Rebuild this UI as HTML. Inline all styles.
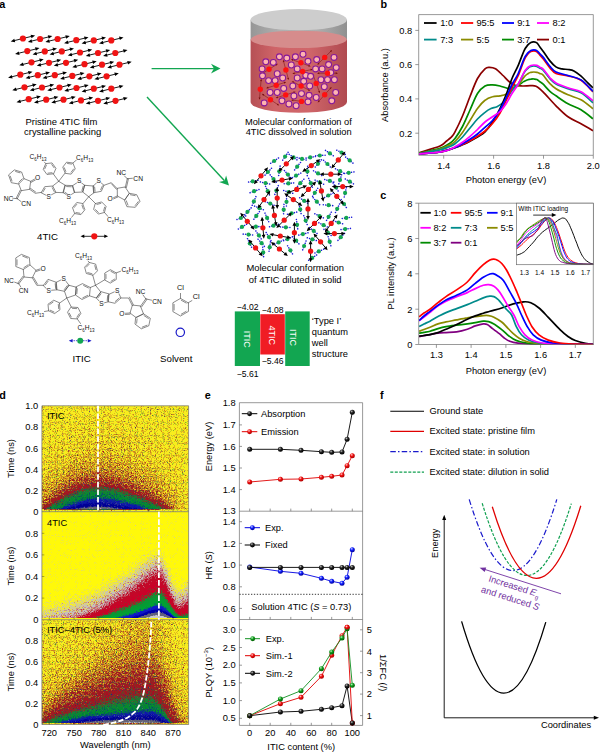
<!DOCTYPE html>
<html><head><meta charset="utf-8"><title>Figure</title>
<style>
html,body{margin:0;padding:0;background:#fff}
body{width:600px;height:752px;overflow:hidden}
svg{display:block;font-family:"Liberation Sans",sans-serif;font-size:9.3px;fill:#000}
</style></head><body>
<svg width="600" height="752" viewBox="0 0 600 752">
<rect width="600" height="752" fill="#fff"/>
<clipPath id="cb"><rect x="418.7" y="14.6" width="174.6" height="140.7"/></clipPath>
<g clip-path="url(#cb)" fill="none" stroke-width="1.7" stroke-linejoin="round">
<path d="M419 152.7C422.5 151.6 435.5 147.9 440 146C444.5 144.1 444 143.1 446 141.5C448 139.9 450.5 137.9 452 136.3C453.5 134.7 453.2 135.2 455 131.8C456.8 128.4 460 121.9 462.5 116C465 110.1 467.5 102.8 470 96.5C472.5 90.2 475 83.1 477.5 78.5C480 73.9 483 70.7 485 68.8C487 66.9 487.8 67.3 489.5 67.3C491.2 67.3 493.2 67.4 495.5 68.8C497.8 70.2 500.8 73.4 503 75.5C505.2 77.6 507 79.9 509 81.5C511 83.1 512.8 84.5 515 85.3C517.2 86 520 85.9 522.5 86C525 86.1 527.8 85.7 530 85.7C532.2 85.7 533.8 85.2 536 86.2C538.2 87.2 539.7 88.5 543 91.8C546.3 95.1 551.8 101.6 556 105.8C560.2 110 563.8 113.8 568 116.8C572.2 119.8 576.8 121.5 581 123.8C585.2 126.1 591 129.6 593 130.8" stroke="#8b0000"/>
<path d="M419 153.2C422.5 152.4 435 149.9 440 148.3C445 146.7 446.5 145.4 449 143.8C451.5 142.2 452.8 141.4 455 138.5C457.2 135.6 460 131.2 462.5 126.5C465 121.8 467.5 115.5 470 110C472.5 104.5 475 97.5 477.5 93.5C480 89.5 482.5 87.5 485 86C487.5 84.5 490 84.8 492.5 84.8C495 84.8 497.5 85.4 500 86C502.5 86.6 505.2 88 507.5 88.3C509.8 88.5 511.8 88 513.5 87.5C515.2 87 516.2 86.5 518 85.5C519.8 84.5 522.4 82.4 524 81.4C525.6 80.5 526.8 80.2 527.9 79.8C529 79.4 529.9 79.3 530.9 79.2C531.9 79 532.9 78.9 533.9 79C534.9 79.1 535.9 79.1 536.9 79.5C537.9 80 538.9 81 539.9 81.7C540.9 82.4 541.2 82.3 542.9 83.9C544.6 85.5 547.7 89.4 549.9 91.3C552.1 93.3 553 93.7 556 95.8C559 97.9 563.8 101.5 568 103.8C572.2 106.1 576.8 107.3 581 109.8C585.2 112.3 591 117.3 593 118.8" stroke="#008b00"/>
<path d="M419 153.5C422.5 152.8 435 150.4 440 149C445 147.6 446.5 146.6 449 145.3C451.5 144.1 452.8 143.6 455 141.5C457.2 139.4 460 136 462.5 132.5C465 129 467.5 124.5 470 120.5C472.5 116.5 475 111.9 477.5 108.5C480 105.1 482.5 102.2 485 100.3C487.5 98.3 490 97.5 492.5 96.8C495 96 497.8 96.2 500 95.8C502.2 95.4 504 95.3 506 94.3C508 93.3 510 91.3 512 89.8C514 88.3 516 87.6 518 85.5C520 83.4 522.4 79 524 77.1C525.6 75.1 526.8 74.5 527.9 73.7C529 72.9 529.9 72.6 530.9 72.3C531.9 72.1 532.9 72 533.9 72C534.9 72 535.9 72.1 536.9 72.3C537.9 72.6 538.9 73.2 539.9 73.6C540.9 74 541.2 73.2 542.9 74.9C544.6 76.6 547.7 81.3 549.9 83.6C552.1 85.9 553 86.9 556 88.8C559 90.7 563.8 93 568 94.8C572.2 96.6 576.8 97.5 581 99.8C585.2 102.1 591 107.3 593 108.8" stroke="#8b8b00"/>
<path d="M419 153.7C422.5 153 435 151 440 149.8C445 148.7 446.5 147.8 449 146.8C451.5 145.8 452.8 145.4 455 143.8C457.2 142.2 460 139.6 462.5 137C465 134.4 467.5 131 470 128C472.5 125 475 121.6 477.5 119C480 116.4 482.8 114 485 112.3C487.2 110.5 489 109.4 491 108.5C493 107.6 495 107.7 497 106.7C499 105.7 501 104.5 503 102.5C505 100.5 507 97.8 509 95C511 92.2 513.5 87.8 515 86C516.5 84.2 516.5 86.7 518 84.5C519.5 82.3 522.4 75.6 524 72.9C525.6 70.2 526.8 69.4 527.9 68.3C529 67.2 529.9 66.8 530.9 66.5C531.9 66.1 532.9 66 533.9 66C534.9 66 535.9 66.1 536.9 66.4C537.9 66.8 538.9 67.6 539.9 68.2C540.9 68.7 541.2 68.2 542.9 69.9C544.6 71.6 547.7 76.3 549.9 78.7C552.1 81 553 82.2 556 83.9C559 85.6 563.8 87.3 568 88.8C572.2 90.3 576.8 90.5 581 92.8C585.2 95.1 591 101.1 593 102.8" stroke="#008b8b"/>
<path d="M419 153.9C422.5 153.6 434 153 440 152C446 151 451.2 149 455 147.8C458.8 146.6 460 145.9 462.5 144.8C465 143.7 467.5 142.5 470 141.2C472.5 139.9 475 138.6 477.5 137C480 135.4 482.5 134.3 485 131.8C487.5 129.3 490 125.9 492.5 122C495 118.1 497.8 113 500 108.5C502.2 104 504 100 506 95C508 90 510 83.3 512 78.5C514 73.7 516 70.5 518 65.9C520 61.3 522.4 54.4 524 50.9C525.6 47.4 526.8 46.3 527.9 44.9C529 43.5 529.9 43 530.9 42.5C531.9 42 532.9 41.8 533.9 41.9C534.9 42 535.9 42.1 536.9 42.9C537.9 43.7 538.9 45.6 539.9 46.9C540.9 48.2 541.2 48.6 542.9 50.9C544.6 53.2 547.7 58.2 549.9 60.9C552.1 63.6 553.9 65.6 555.9 66.9C557.9 68.2 559.9 68.5 561.9 68.9C563.9 69.3 565.9 69.2 567.9 69.5C569.9 69.8 571.8 69.8 573.9 70.9C576 72 578.5 73.9 580.8 75.9C583.1 77.9 585.8 80.9 587.8 82.9C589.8 84.9 592.1 87 593 87.8" stroke="#000"/>
<path d="M419 153.9C422.5 153.6 434 153.1 440 152C446 150.9 451.2 148.8 455 147.5C458.8 146.2 460 145.6 462.5 144.5C465 143.4 467.5 142.2 470 140.8C472.5 139.4 475 137.9 477.5 136.3C480 134.7 482.5 133.1 485 131C487.5 128.9 490 126.5 492.5 123.5C495 120.5 497.8 116.8 500 113C502.2 109.2 504 105.2 506 101C508 96.8 510 91.7 512 87.5C514 83.3 516 80.5 518 76C520 71.5 522.4 64 524 60.3C525.6 56.7 526.8 55.5 527.9 54C529 52.6 529.9 52.1 530.9 51.5C531.9 51 532.9 50.9 533.9 50.9C534.9 50.9 535.9 51 536.9 51.7C537.9 52.4 538.9 54 539.9 55.1C540.9 56.2 541.2 56.4 542.9 58.5C544.6 60.6 547.7 65.4 549.9 67.9C552.1 70.4 553 72.2 556 73.5C559 74.8 563.8 74.8 568 75.9C572.2 77 576.8 77.7 581 80.3C585.2 82.9 591 89.9 593 91.8" stroke="#ff0000"/>
<path d="M419 153.9C422.5 153.6 434 153.1 440 152C446 150.9 451.2 148.9 455 147.5C458.8 146.1 460 145.2 462.5 143.8C465 142.4 467.5 140.9 470 139.3C472.5 137.7 475 136 477.5 134C480 132 482.5 129.6 485 127.3C487.5 125 490 123.4 492.5 120.5C495 117.6 497.8 113.8 500 110C502.2 106.2 504 102.2 506 98C508 93.8 510 88.5 512 84.5C514 80.5 516 78.3 518 74C520 69.7 522.4 62.5 524 58.9C525.6 55.4 526.8 54.3 527.9 52.9C529 51.5 529.9 51 530.9 50.5C531.9 50 532.9 49.9 533.9 49.9C534.9 49.9 535.9 50 536.9 50.7C537.9 51.3 538.9 52.8 539.9 53.8C540.9 54.8 541.2 54.8 542.9 56.9C544.6 59 547.7 63.8 549.9 66.3C552.1 68.8 553 70.4 556 71.9C559 73.4 563.8 74.2 568 75.5C572.2 76.8 576.8 77.2 581 79.9C585.2 82.6 591 89.5 593 91.4" stroke="#0000ff"/>
<path d="M419 153.9C422.5 153.6 435 152.7 440 152C445 151.3 446.5 150.7 449 149.8C451.5 148.9 452.8 148.1 455 146.8C457.2 145.6 460 144.1 462.5 142.3C465 140.6 467.5 138.4 470 136.3C472.5 134.2 475 131.9 477.5 129.5C480 127.1 482.5 124.1 485 122C487.5 119.9 490 118.5 492.5 116.8C495 115 497.8 113.6 500 111.5C502.2 109.4 504 107 506 104C508 101 510 96.8 512 93.5C514 90.2 516 88 518 84.5C520 81 522.4 75.2 524 72.3C525.6 69.5 526.8 68.6 527.9 67.4C529 66.3 529.9 65.9 530.9 65.5C531.9 65.1 532.9 65 533.9 65C534.9 65 535.9 65.1 536.9 65.4C537.9 65.8 538.9 66.6 539.9 67.2C540.9 67.7 541.2 67.2 542.9 68.9C544.6 70.6 547.7 75.3 549.9 77.7C552.1 80 553 81.2 556 82.9C559 84.6 563.8 86.3 568 87.8C572.2 89.3 576.8 89.6 581 91.8C585.2 94 591 99.3 593 100.8" stroke="#ff00ff"/>
</g>
<path d="M418.7 14.6H593.3V155.3H418.7ZM418.7 30.4h-3.4M418.7 64.6h-3.4M418.7 98.9h-3.4M418.7 133.2h-3.4M443.7 155.3v3.4M493.6 155.3v3.4M543.5 155.3v3.4M593.3 155.3v3.4" fill="none" stroke="#6e6e6e" stroke-width="0.7"/>
<text x="412.3" y="33.7" text-anchor="end">0.8</text>
<text x="412.3" y="67.9" text-anchor="end">0.6</text>
<text x="412.3" y="102.2" text-anchor="end">0.4</text>
<text x="412.3" y="136.5" text-anchor="end">0.2</text>
<text x="443.7" y="168.6" text-anchor="middle">1.4</text>
<text x="493.6" y="168.6" text-anchor="middle">1.6</text>
<text x="543.5" y="168.6" text-anchor="middle">1.8</text>
<text x="593.2" y="168.6" text-anchor="middle">2.0</text>
<text x="506" y="183.2" text-anchor="middle">Photon energy (eV)</text>
<text x="387.5" y="85" text-anchor="middle" transform="rotate(-90 387.5 85)">Absorbance (a.u.)</text>
<text x="380.5" y="8" font-weight="bold" font-size="10.8">b</text>
<path d="M424 23H436.6" stroke="#000" stroke-width="1.8"/>
<text x="440.2" y="26.3">1:0</text>
<path d="M461 23H473.2" stroke="#ff0000" stroke-width="1.8"/>
<text x="476.4" y="26.3">95:5</text>
<path d="M502 23H514" stroke="#0000ff" stroke-width="1.8"/>
<text x="517.2" y="26.3">9:1</text>
<path d="M537 23H549" stroke="#ff00ff" stroke-width="1.8"/>
<text x="552.6" y="26.3">8:2</text>
<path d="M424 39.6H436.6" stroke="#008b8b" stroke-width="1.8"/>
<text x="440.2" y="42.9">7:3</text>
<path d="M461 39.6H473.2" stroke="#8b8b00" stroke-width="1.8"/>
<text x="476.4" y="42.9">5:5</text>
<path d="M502 39.6H514" stroke="#008b00" stroke-width="1.8"/>
<text x="517.2" y="42.9">3:7</text>
<path d="M537 39.6H549" stroke="#8b0000" stroke-width="1.8"/>
<text x="552.6" y="42.9">0:1</text>
<clipPath id="cc"><rect x="418.7" y="203.2" width="174.6" height="141.8"/></clipPath>
<g clip-path="url(#cc)" fill="none" stroke-width="1.7" stroke-linejoin="round">
<path d="M419.1 336.6C419.9 336.4 422.2 335.9 424 335.6C425.8 335.3 427.7 335 430 334.6C432.3 334.2 435.3 333.5 438 333.2C440.7 332.9 442.9 332.8 446 332.6C449.1 332.4 453.1 332.5 456.6 331.9C460.2 331.3 464.2 330.2 467.3 329.2C470.4 328.2 472.6 326.8 475.3 325.9C478 325 481.3 324.1 483.3 323.9C485.3 323.7 485.8 323.8 487.3 324.6C488.9 325.4 490.6 327.1 492.6 328.6C494.6 330.1 497.4 332.2 499.3 333.7C501.2 335.2 502.2 336.5 504 337.8C505.8 339.1 507.5 340.4 509.8 341.3C512.1 342.2 514.9 342.8 518 343.2C521.1 343.6 524 343.7 528.5 343.9C533 344.1 534.2 344.3 545 344.4C555.8 344.5 585.2 344.5 593.3 344.5" stroke="#800080"/>
<path d="M419.1 333.2C419.9 333.1 422.2 332.6 424 332.3C425.8 332 427.7 331.8 430 331.2C432.3 330.6 435.3 329.4 438 328.6C440.7 327.8 442.9 327.2 446 326.6C449.1 326 453.1 325.6 456.6 325.2C460.2 324.8 464.2 324.3 467.3 323.9C470.4 323.5 472.6 323.1 475.3 322.6C478 322.2 481.1 321.4 483.3 321.2C485.5 321 486.8 321.2 488.6 321.6C490.4 322.1 491.7 322.6 493.9 323.9C496.1 325.2 499.4 327.8 501.7 329.6C504 331.4 505.6 333.2 507.5 334.8C509.4 336.4 511.2 337.7 513.3 338.9C515.4 340.1 517.4 341 520.3 341.8C523.2 342.6 526.7 343.2 530.8 343.6C534.9 344 534.6 344.2 545 344.4C555.4 344.5 585.2 344.5 593.3 344.5" stroke="#008b00"/>
<path d="M419.1 331.3C419.9 331 422.2 330.2 424 329.5C425.8 328.8 427.7 328.1 430 327.2C432.3 326.3 435.3 324.8 438 323.9C440.7 323 442.9 322.6 446 321.9C449.1 321.2 453.1 320.6 456.6 319.9C460.2 319.2 464.2 318.4 467.3 317.9C470.4 317.3 472.6 317 475.3 316.6C478 316.2 481.1 315.8 483.3 315.6C485.5 315.4 486.8 315.3 488.6 315.6C490.4 315.9 491.7 316.1 493.9 317.2C496.1 318.3 499.4 320.2 501.7 322C504 323.8 505.6 325.9 507.5 327.8C509.4 329.8 511.3 331.9 513.3 333.7C515.2 335.4 516.9 336.9 519.2 338.3C521.5 339.7 524 340.9 527.3 341.8C530.6 342.7 534.4 343.2 539 343.6C543.6 344 546 344.2 555 344.4C564 344.5 586.9 344.5 593.3 344.5" stroke="#8b8b00"/>
<path d="M419.1 336.1C419.9 336 422.2 335.8 424 335.5C425.8 335.2 427.7 335.1 430 334.6C432.3 334.1 435.3 333.5 438 332.6C440.7 331.7 442.9 330.5 446 329.2C449.1 327.9 453.1 326.3 456.6 324.6C460.2 322.9 464.2 320.6 467.3 319.2C470.4 317.8 472.6 316.9 475.3 315.9C478 314.9 480.9 314 483.3 313.2C485.7 312.4 486.8 312.2 489.9 311.3C493 310.4 497.8 309.2 501.7 308C505.6 306.8 509.6 304.9 513.3 303.9C517 302.9 520.9 302 523.8 301.8C526.7 301.6 528.3 301.8 530.8 302.8C533.3 303.8 536.1 305.6 539 308C541.9 310.4 544.8 313.7 548.3 317.3C551.8 320.9 556.7 326.4 560 329.6C563.3 332.8 565.5 334.7 568 336.5C570.5 338.3 572.4 339.4 575.3 340.5C578.2 341.6 582.4 342.7 585.4 343.3C588.4 343.9 592 344.1 593.3 344.2" stroke="#000"/>
<path d="M419.1 326.5C419.9 326.1 422.2 324.9 424 324C425.8 323.1 427.7 322.4 430 321.2C432.3 320 435.3 318 438 316.6C440.7 315.2 442.9 313.9 446 312.6C449.1 311.3 453.1 309.9 456.6 308.6C460.2 307.3 464.2 305.8 467.3 304.6C470.4 303.4 472.6 302.4 475.3 301.3C478 300.2 480.9 298.8 483.3 297.9C485.7 297 488.1 296.4 489.9 296.2C491.7 296 492.6 296.1 493.9 296.6C495.2 297.1 496.8 298.4 497.9 299.3C499 300.2 499.1 300.6 500.5 302.2C501.9 303.8 504.4 307.1 506.3 309.2C508.2 311.3 509.9 312.1 511.6 315C513.3 317.9 514.6 323.4 516.3 326.7C517.9 330 519.5 332.6 521.5 334.8C523.5 337 525.6 338.7 528.5 340.1C531.4 341.5 534.4 342.3 539 343C543.6 343.7 547 344.1 556 344.4C565 344.6 587.1 344.5 593.3 344.5" stroke="#008b8b"/>
<path d="M419.1 320.8C419.9 320.2 422.2 318.4 424 317C425.8 315.6 427.7 314.2 430 312.3C432.3 310.4 435.3 307.7 438 305.9C440.7 304.1 442.9 302.9 446 301.3C449.1 299.8 453.1 298.1 456.6 296.6C460.2 295.2 464.2 293.9 467.3 292.6C470.4 291.3 472.6 289.8 475.3 288.6C478 287.4 481.1 286 483.3 285.3C485.5 284.6 486.8 284.5 488.6 284.6C490.4 284.8 492.3 285.3 493.9 286.2C495.4 287.1 496.6 288.4 497.9 289.9C499.2 291.4 500.1 292.7 501.7 295.2C503.3 297.7 505.5 301.8 507.5 305.1C509.5 308.4 511.9 311.4 513.9 315C515.9 318.6 517.4 323.4 519.2 326.7C521.1 330 522.9 332.6 525 334.8C527.1 337 529.1 338.7 532 340.1C534.9 341.5 537.8 342.3 542.5 343C547.2 343.7 551.5 344.1 560 344.3C568.5 344.6 587.8 344.5 593.3 344.5" stroke="#ff00ff"/>
<path d="M419.1 320.5C419.9 319.8 422.2 317.5 424 316C425.8 314.5 427.7 313.1 430 311.3C432.3 309.5 435.3 307.2 438 305.3C440.7 303.4 442.9 301.6 446 299.9C449.1 298.2 453.1 297 456.6 295.3C460.2 293.6 464.2 291.9 467.3 289.9C470.4 287.9 472.6 285.4 475.3 283.3C478 281.2 480.9 278.9 483.3 277.3C485.7 275.8 488.2 274.6 489.9 274C491.5 273.4 491.9 273.4 493.2 273.7C494.5 274 496.2 274.9 497.9 276C499.6 277.1 501.4 277.9 503.4 280.5C505.4 283.1 507.7 287.9 509.8 291.7C511.9 295.5 514.3 299.4 516.3 303.3C518.2 307.2 519.7 311.1 521.5 315C523.3 318.9 525.3 323.4 527.3 326.7C529.2 330 530.9 332.6 533.2 334.8C535.5 337 538 338.7 541.3 340.1C544.6 341.5 548.2 342.3 553 343C557.8 343.7 563.3 343.9 570 344.2C576.7 344.4 589.4 344.4 593.3 344.5" stroke="#0000ff"/>
<path d="M419.1 316.9C419.9 316.2 422.2 314.3 424 313C425.8 311.7 427.7 311 430 309.3C432.3 307.6 435.3 304.7 438 302.6C440.7 300.5 442.9 298.7 446 296.6C449.1 294.5 453.1 292.3 456.6 289.9C460.2 287.5 464.2 284.9 467.3 282C470.4 279.1 472.6 275.5 475.3 272.6C478 269.7 480.9 266.7 483.3 264.6C485.7 262.5 488.1 260.9 489.9 260C491.7 259.1 492.6 259 493.9 259.1C495.2 259.2 496.5 259.6 497.9 260.4C499.2 261.2 500.6 262.2 502 263.8C503.4 265.4 504.9 267.3 506.5 270C508.1 272.7 509.9 276.4 511.6 280C513.3 283.6 515.1 287.8 516.8 291.7C518.4 295.6 519.9 299.4 521.5 303.3C523.1 307.2 524.5 311.1 526.2 315C528 318.9 529.9 323.4 532 326.7C534.1 330 536.3 332.6 539 334.8C541.7 337 544.8 338.7 548.3 340.1C551.8 341.5 555.5 342.3 560 343C564.5 343.7 569.5 343.9 575 344.2C580.5 344.4 590.2 344.4 593.3 344.5" stroke="#ff0000"/>
</g>
<path d="M418.7 203.2H593.3V344.5H418.7ZM418.7 203.2h-3.4M418.7 238.5h-3.4M418.7 273.8h-3.4M418.7 309.2h-3.4M418.7 344.5h-3.4M436.4 344.5v3.4M471.1 344.5v3.4M505.9 344.5v3.4M540.6 344.5v3.4M575.3 344.5v3.4" fill="none" stroke="#6e6e6e" stroke-width="0.7"/>
<text x="412.3" y="206.5" text-anchor="end">8</text>
<text x="412.3" y="241.8" text-anchor="end">6</text>
<text x="412.3" y="277.1" text-anchor="end">4</text>
<text x="412.3" y="312.5" text-anchor="end">2</text>
<text x="412.3" y="347.8" text-anchor="end">0</text>
<text x="436.4" y="358.3" text-anchor="middle">1.3</text>
<text x="471.1" y="358.3" text-anchor="middle">1.4</text>
<text x="505.9" y="358.3" text-anchor="middle">1.5</text>
<text x="540.6" y="358.3" text-anchor="middle">1.6</text>
<text x="575.3" y="358.3" text-anchor="middle">1.7</text>
<text x="506" y="373.7" text-anchor="middle">Photon energy (eV)</text>
<text x="393.8" y="273.5" text-anchor="middle" transform="rotate(-90 393.8 273.5)">PL intensity (a.u.)</text>
<text x="380.3" y="199.3" font-weight="bold" font-size="10.8">c</text>
<path d="M420.4 212.8H430.8" stroke="#000" stroke-width="1.8"/>
<text x="433.4" y="216.1">1:0</text>
<path d="M450.8 212.8H461.4" stroke="#ff0000" stroke-width="1.8"/>
<text x="464.4" y="216.1">95:5</text>
<path d="M487 212.8H497.6" stroke="#0000ff" stroke-width="1.8"/>
<text x="500.6" y="216.1">9:1</text>
<path d="M420.4 227.8H430.8" stroke="#ff00ff" stroke-width="1.8"/>
<text x="433.4" y="231.1">8:2</text>
<path d="M450.8 227.8H461.4" stroke="#008b8b" stroke-width="1.8"/>
<text x="464.4" y="231.1">7:3</text>
<path d="M487 227.8H497.6" stroke="#8b8b00" stroke-width="1.8"/>
<text x="500.6" y="231.1">5:5</text>
<path d="M420.4 242.7H430.8" stroke="#008b00" stroke-width="1.8"/>
<text x="433.4" y="246">3:7</text>
<path d="M450.8 242.7H461.4" stroke="#800080" stroke-width="1.8"/>
<text x="464.4" y="246">0:1</text>
<rect x="516.5" y="203.2" width="76.8" height="61.5" fill="#fff"/>
<clipPath id="ci"><rect x="516.5" y="203.2" width="76.8" height="61.5"/></clipPath>
<g clip-path="url(#ci)" fill="none" stroke-width="0.95" stroke-linejoin="round">
<path d="M516.5 255.2C516.8 255.2 517.6 254.9 518.1 254.7C518.7 254.6 519.2 254.4 519.8 254.2C520.3 254 520.9 253.8 521.4 253.5C521.9 253.3 522.5 252.9 523 252.5C523.6 252.2 524.1 252 524.7 251.5C525.2 251.1 525.8 250.4 526.3 249.9C526.8 249.3 527.4 248.7 527.9 248.1C528.5 247.6 529 247 529.6 246.4C530.1 245.8 530.7 245.2 531.2 244.6C531.8 244.1 532.3 243.5 532.8 242.9C533.4 242.3 533.9 241.6 534.5 240.9C535 240.2 535.6 239.5 536.1 238.8C536.7 238.2 537.2 237.4 537.7 236.8C538.3 236.2 538.8 235.7 539.4 235.1C539.9 234.6 540.5 234 541 233.5C541.6 232.9 542.1 232.5 542.6 232C543.2 231.6 543.7 231.1 544.3 230.7C544.8 230.2 545.4 229.8 545.9 229.5C546.5 229.1 547 228.7 547.5 228.3C548.1 227.9 548.6 227.5 549.2 227.2C549.7 226.8 550.3 226.4 550.8 226C551.4 225.6 551.9 225.3 552.4 224.9C553 224.5 553.5 224 554.1 223.5C554.6 223.1 555.2 222.6 555.7 222.1C556.3 221.6 556.8 221.1 557.4 220.7C557.9 220.3 558.4 219.9 559 219.6C559.5 219.3 560.1 219.1 560.6 218.8C561.2 218.5 561.7 218.1 562.3 218C562.8 217.9 563.3 218.1 563.9 218.2C564.4 218.4 565 218.3 565.5 218.8C566.1 219.3 566.6 220.3 567.2 221.1C567.7 221.9 568.2 222.7 568.8 223.7C569.3 224.7 569.9 225.9 570.4 227.2C571 228.5 571.5 229.9 572.1 231.2C572.6 232.6 573.1 233.9 573.7 235.3C574.2 236.7 574.8 238.2 575.3 239.6C575.9 241 576.4 242.4 577 243.8C577.5 245.2 578 246.8 578.6 248.1C579.1 249.4 579.7 250.4 580.2 251.6C580.8 252.7 581.3 254.1 581.9 255.1C582.4 256.1 583 256.7 583.5 257.5C584 258.3 584.6 259.1 585.1 259.7C585.7 260.3 586.2 260.6 586.8 261C587.3 261.4 587.9 261.8 588.4 262.1C588.9 262.5 589.5 262.9 590 263.2C590.6 263.4 591.1 263.5 591.7 263.6C592.2 263.8 593 264 593.3 264.1" stroke="#000"/>
<path d="M516.5 249.4C516.8 249.1 517.6 248.3 518.1 247.8C518.7 247.3 519.2 246.8 519.8 246.4C520.3 246 520.9 245.6 521.4 245.1C521.9 244.6 522.5 244 523 243.5C523.6 242.9 524.1 242.3 524.7 241.8C525.2 241.2 525.8 240.7 526.3 240.2C526.8 239.7 527.4 239.2 527.9 238.7C528.5 238.2 529 237.8 529.6 237.4C530.1 236.9 530.7 236.5 531.2 236.1C531.8 235.7 532.3 235.3 532.8 234.8C533.4 234.4 533.9 233.9 534.5 233.4C535 232.9 535.6 232.4 536.1 231.9C536.7 231.4 537.2 231 537.7 230.4C538.3 229.7 538.8 228.8 539.4 228C539.9 227.2 540.5 226.4 541 225.7C541.6 224.9 542.1 224.3 542.6 223.6C543.2 222.9 543.7 222.2 544.3 221.6C544.8 221 545.4 220.5 545.9 220C546.5 219.5 547 218.9 547.5 218.6C548.1 218.2 548.6 218 549.2 218C549.7 218 550.3 218.1 550.8 218.5C551.4 218.8 551.9 219.2 552.4 219.9C553 220.5 553.5 221.3 554.1 222.2C554.6 223.2 555.2 224.3 555.7 225.5C556.3 226.7 556.8 228.1 557.4 229.5C557.9 230.9 558.4 232.5 559 234C559.5 235.6 560.1 237.2 560.6 238.8C561.2 240.5 561.7 242.2 562.3 243.8C562.8 245.5 563.3 247.3 563.9 248.8C564.4 250.3 565 251.6 565.5 252.8C566.1 254 566.6 255.1 567.2 256C567.7 256.9 568.2 257.7 568.8 258.3C569.3 259 569.9 259.4 570.4 259.9C571 260.3 571.5 260.6 572.1 261C572.6 261.4 573.1 261.8 573.7 262.1C574.2 262.3 574.8 262.4 575.3 262.6C575.9 262.7 576.4 262.9 577 263.1C577.5 263.2 578 263.5 578.6 263.6C579.1 263.7 579.7 263.7 580.2 263.7C580.8 263.8 581.3 263.9 581.9 263.9C582.4 264 583 264 583.5 264.1C584 264.1 584.6 264.2 585.1 264.2C585.7 264.3 586.2 264.3 586.8 264.3C587.3 264.3 587.9 264.3 588.4 264.3C588.9 264.3 589.5 264.3 590 264.3C590.6 264.3 591.1 264.4 591.7 264.4C592.2 264.4 593 264.4 593.3 264.4" stroke="#ff0000"/>
<path d="M516.5 248.7C516.8 248.3 517.6 247.1 518.1 246.4C518.7 245.7 519.2 245.1 519.8 244.4C520.3 243.8 520.9 243.1 521.4 242.5C521.9 241.9 522.5 241.3 523 240.7C523.6 240.1 524.1 239.5 524.7 238.9C525.2 238.3 525.8 237.8 526.3 237.2C526.8 236.7 527.4 236.1 527.9 235.6C528.5 235.1 529 234.8 529.6 234.4C530.1 234 530.7 233.7 531.2 233.3C531.8 233 532.3 232.7 532.8 232.3C533.4 231.9 533.9 231.5 534.5 231.1C535 230.7 535.6 230.3 536.1 229.8C536.7 229.4 537.2 229.2 537.7 228.6C538.3 228.1 538.8 227.3 539.4 226.6C539.9 225.9 540.5 225.3 541 224.6C541.6 224 542.1 223.4 542.6 222.8C543.2 222.1 543.7 221.5 544.3 220.9C544.8 220.4 545.4 220 545.9 219.5C546.5 219.1 547 218.6 547.5 218.3C548.1 218.1 548.6 217.9 549.2 218C549.7 218.1 550.3 218.7 550.8 219.2C551.4 219.7 551.9 220.2 552.4 221C553 221.7 553.5 222.4 554.1 223.5C554.6 224.7 555.2 226.4 555.7 227.8C556.3 229.2 556.8 230.6 557.4 232.1C557.9 233.5 558.4 234.8 559 236.4C559.5 238 560.1 239.9 560.6 241.6C561.2 243.4 561.7 245.2 562.3 246.9C562.8 248.6 563.3 250.4 563.9 251.8C564.4 253.2 565 254.3 565.5 255.4C566.1 256.5 566.6 257.6 567.2 258.4C567.7 259.1 568.2 259.4 568.8 260C569.3 260.5 569.9 261.2 570.4 261.5C571 261.9 571.5 261.9 572.1 262.1C572.6 262.3 573.1 262.5 573.7 262.7C574.2 262.9 574.8 263.2 575.3 263.3C575.9 263.5 576.4 263.5 577 263.6C577.5 263.6 578 263.7 578.6 263.7C579.1 263.8 579.7 263.9 580.2 263.9C580.8 264 581.3 264 581.9 264.1C582.4 264.1 583 264.2 583.5 264.2C584 264.2 584.6 264.2 585.1 264.2C585.7 264.3 586.2 264.3 586.8 264.3C587.3 264.3 587.9 264.3 588.4 264.3C588.9 264.3 589.5 264.3 590 264.3C590.6 264.3 591.1 264.4 591.7 264.4C592.2 264.4 593 264.4 593.3 264.4" stroke="#0000ff"/>
<path d="M516.5 246C516.8 245.6 517.6 244.5 518.1 243.7C518.7 243 519.2 242.2 519.8 241.5C520.3 240.7 520.9 240 521.4 239.2C521.9 238.4 522.5 237.7 523 236.9C523.6 236.1 524.1 235.3 524.7 234.6C525.2 233.9 525.8 233.4 526.3 232.9C526.8 232.3 527.4 231.7 527.9 231.2C528.5 230.7 529 230.3 529.6 229.8C530.1 229.4 530.7 229 531.2 228.6C531.8 228.1 532.3 227.7 532.8 227.3C533.4 226.9 533.9 226.5 534.5 226.2C535 225.8 535.6 225.5 536.1 225.1C536.7 224.7 537.2 224.4 537.7 224C538.3 223.6 538.8 223.1 539.4 222.6C539.9 222.1 540.5 221.6 541 221.1C541.6 220.7 542.1 220.3 542.6 219.9C543.2 219.5 543.7 219 544.3 218.7C544.8 218.4 545.4 218.2 545.9 218.1C546.5 218 547 217.9 547.5 218C548.1 218.1 548.6 218.3 549.2 218.9C549.7 219.4 550.3 220.2 550.8 221.2C551.4 222.2 551.9 223.5 552.4 224.9C553 226.3 553.5 228 554.1 229.5C554.6 231.1 555.2 232.9 555.7 234.4C556.3 236 556.8 237.2 557.4 238.9C557.9 240.5 558.4 242.2 559 244.1C559.5 246.1 560.1 248.8 560.6 250.5C561.2 252.2 561.7 253.3 562.3 254.5C562.8 255.8 563.3 256.9 563.9 257.8C564.4 258.7 565 259.4 565.5 260C566.1 260.6 566.6 261 567.2 261.4C567.7 261.8 568.2 261.9 568.8 262.2C569.3 262.5 569.9 262.8 570.4 263C571 263.2 571.5 263.3 572.1 263.4C572.6 263.5 573.1 263.5 573.7 263.6C574.2 263.7 574.8 263.7 575.3 263.8C575.9 263.9 576.4 264 577 264C577.5 264.1 578 264.2 578.6 264.2C579.1 264.3 579.7 264.3 580.2 264.3C580.8 264.3 581.3 264.3 581.9 264.3C582.4 264.3 583 264.3 583.5 264.3C584 264.3 584.6 264.3 585.1 264.3C585.7 264.3 586.2 264.3 586.8 264.3C587.3 264.3 587.9 264.3 588.4 264.3C588.9 264.4 589.5 264.4 590 264.4C590.6 264.4 591.1 264.4 591.7 264.4C592.2 264.4 593 264.4 593.3 264.4" stroke="#ff00ff"/>
<path d="M516.5 247.1C516.8 246.8 517.6 245.8 518.1 245.3C518.7 244.7 519.2 244.1 519.8 243.5C520.3 243 520.9 242.5 521.4 241.8C521.9 241.2 522.5 240.5 523 239.8C523.6 239.1 524.1 238.4 524.7 237.7C525.2 237.1 525.8 236.5 526.3 235.9C526.8 235.3 527.4 234.7 527.9 234.2C528.5 233.6 529 233.2 529.6 232.7C530.1 232.2 530.7 231.8 531.2 231.3C531.8 230.9 532.3 230.4 532.8 230C533.4 229.6 533.9 229.1 534.5 228.7C535 228.2 535.6 227.8 536.1 227.3C536.7 226.9 537.2 226.5 537.7 226C538.3 225.5 538.8 225 539.4 224.5C539.9 224 540.5 223.6 541 223.1C541.6 222.6 542.1 222.1 542.6 221.5C543.2 221 543.7 220.5 544.3 220C544.8 219.6 545.4 219.3 545.9 218.9C546.5 218.6 547 218.1 547.5 218C548.1 217.9 548.6 217.8 549.2 218.2C549.7 218.6 550.3 219.3 550.8 220.3C551.4 221.2 551.9 222.5 552.4 223.8C553 225.2 553.5 226.7 554.1 228.2C554.6 229.6 555.2 230.9 555.7 232.3C556.3 233.6 556.8 234.2 557.4 236.4C557.9 238.6 558.4 242.7 559 245.3C559.5 247.8 560.1 249.8 560.6 251.6C561.2 253.4 561.7 254.9 562.3 256.1C562.8 257.3 563.3 258 563.9 258.8C564.4 259.5 565 260.2 565.5 260.6C566.1 261.1 566.6 261.3 567.2 261.6C567.7 262 568.2 262.4 568.8 262.6C569.3 262.9 569.9 263 570.4 263.1C571 263.3 571.5 263.3 572.1 263.4C572.6 263.5 573.1 263.6 573.7 263.7C574.2 263.8 574.8 263.9 575.3 264C575.9 264.1 576.4 264.3 577 264.3C577.5 264.4 578 264.3 578.6 264.3C579.1 264.3 579.7 264.3 580.2 264.3C580.8 264.3 581.3 264.3 581.9 264.3C582.4 264.3 583 264.3 583.5 264.3C584 264.3 584.6 264.3 585.1 264.4C585.7 264.4 586.2 264.4 586.8 264.4C587.3 264.4 587.9 264.4 588.4 264.4C588.9 264.4 589.5 264.4 590 264.4C590.6 264.4 591.1 264.4 591.7 264.4C592.2 264.4 593 264.4 593.3 264.4" stroke="#008b8b"/>
<path d="M516.5 243.2C516.8 242.8 517.6 241.8 518.1 241C518.7 240.3 519.2 239.5 519.8 238.8C520.3 238 520.9 237.3 521.4 236.5C521.9 235.7 522.5 234.8 523 234C523.6 233.2 524.1 232.2 524.7 231.6C525.2 230.9 525.8 230.5 526.3 230C526.8 229.5 527.4 228.9 527.9 228.5C528.5 228 529 227.7 529.6 227.3C530.1 226.9 530.7 226.5 531.2 226.2C531.8 225.8 532.3 225.4 532.8 225C533.4 224.7 533.9 224.3 534.5 223.9C535 223.6 535.6 223.2 536.1 222.8C536.7 222.4 537.2 222 537.7 221.7C538.3 221.4 538.8 221.1 539.4 220.7C539.9 220.4 540.5 220.1 541 219.8C541.6 219.5 542.1 219.2 542.6 219C543.2 218.7 543.7 218.4 544.3 218.2C544.8 218.1 545.4 218 545.9 218C546.5 218 547 218.1 547.5 218.4C548.1 218.8 548.6 219.4 549.2 220.2C549.7 221.1 550.3 222.4 550.8 223.6C551.4 224.7 551.9 225.7 552.4 227.2C553 228.7 553.5 230.6 554.1 232.5C554.6 234.4 555.2 236.5 555.7 238.5C556.3 240.5 556.8 242.7 557.4 244.5C557.9 246.4 558.4 248.1 559 249.8C559.5 251.4 560.1 253.2 560.6 254.4C561.2 255.6 561.7 256.1 562.3 257C562.8 257.9 563.3 258.9 563.9 259.6C564.4 260.2 565 260.4 565.5 260.8C566.1 261.2 566.6 261.4 567.2 261.7C567.7 262 568.2 262.4 568.8 262.6C569.3 262.9 569.9 263 570.4 263.1C571 263.3 571.5 263.3 572.1 263.4C572.6 263.5 573.1 263.6 573.7 263.7C574.2 263.8 574.8 264 575.3 264C575.9 264.1 576.4 264.2 577 264.2C577.5 264.3 578 264.3 578.6 264.3C579.1 264.3 579.7 264.3 580.2 264.3C580.8 264.3 581.3 264.3 581.9 264.3C582.4 264.3 583 264.3 583.5 264.3C584 264.3 584.6 264.3 585.1 264.3C585.7 264.3 586.2 264.3 586.8 264.3C587.3 264.3 587.9 264.3 588.4 264.4C588.9 264.4 589.5 264.4 590 264.4C590.6 264.4 591.1 264.4 591.7 264.4C592.2 264.4 593 264.4 593.3 264.4" stroke="#8b8b00"/>
<path d="M516.5 241.7C516.8 241.5 517.6 240.8 518.1 240.3C518.7 239.9 519.2 239.4 519.8 239C520.3 238.5 520.9 238.2 521.4 237.6C521.9 236.9 522.5 235.9 523 235.1C523.6 234.3 524.1 233.4 524.7 232.7C525.2 232 525.8 231.4 526.3 230.8C526.8 230.2 527.4 229.5 527.9 228.9C528.5 228.4 529 228.1 529.6 227.7C530.1 227.4 530.7 227.1 531.2 226.7C531.8 226.4 532.3 226.1 532.8 225.8C533.4 225.4 533.9 225.2 534.5 224.9C535 224.5 535.6 224.2 536.1 223.9C536.7 223.6 537.2 223.4 537.7 223C538.3 222.7 538.8 222.2 539.4 221.8C539.9 221.4 540.5 221 541 220.6C541.6 220.2 542.1 219.8 542.6 219.3C543.2 218.9 543.7 218.3 544.3 218C544.8 217.8 545.4 217.8 545.9 218C546.5 218.2 547 218.5 547.5 219.2C548.1 220 548.6 221.1 549.2 222.5C549.7 223.8 550.3 225.7 550.8 227.5C551.4 229.2 551.9 231 552.4 232.9C553 234.9 553.5 237.1 554.1 239.2C554.6 241.4 555.2 243.8 555.7 245.7C556.3 247.7 556.8 249.4 557.4 251C557.9 252.5 558.4 253.8 559 255C559.5 256.1 560.1 257.2 560.6 258C561.2 258.9 561.7 259.3 562.3 259.9C562.8 260.4 563.3 260.7 563.9 261.1C564.4 261.6 565 262.1 565.5 262.4C566.1 262.7 566.6 262.8 567.2 263C567.7 263.1 568.2 263.2 568.8 263.4C569.3 263.5 569.9 263.7 570.4 263.8C571 263.9 571.5 264.1 572.1 264.2C572.6 264.3 573.1 264.2 573.7 264.2C574.2 264.2 574.8 264.2 575.3 264.2C575.9 264.2 576.4 264.2 577 264.2C577.5 264.3 578 264.3 578.6 264.3C579.1 264.3 579.7 264.3 580.2 264.3C580.8 264.3 581.3 264.3 581.9 264.3C582.4 264.3 583 264.3 583.5 264.3C584 264.3 584.6 264.3 585.1 264.3C585.7 264.3 586.2 264.3 586.8 264.3C587.3 264.3 587.9 264.3 588.4 264.4C588.9 264.4 589.5 264.4 590 264.4C590.6 264.4 591.1 264.4 591.7 264.4C592.2 264.4 593 264.4 593.3 264.4" stroke="#008b00"/>
<path d="M516.5 246.3C516.8 246.1 517.6 245.2 518.1 244.6C518.7 244.1 519.2 243.6 519.8 243.1C520.3 242.6 520.9 242.2 521.4 241.7C521.9 241.2 522.5 240.7 523 240.2C523.6 239.7 524.1 239.1 524.7 238.7C525.2 238.4 525.8 238.2 526.3 238C526.8 237.8 527.4 237.6 527.9 237.4C528.5 237.2 529 237 529.6 236.8C530.1 236.6 530.7 236.4 531.2 236.2C531.8 236 532.3 236.1 532.8 235.7C533.4 235.3 533.9 234.4 534.5 233.7C535 233 535.6 232.3 536.1 231.6C536.7 230.9 537.2 230.4 537.7 229.4C538.3 228.5 538.8 227.1 539.4 226C539.9 224.8 540.5 223.4 541 222.5C541.6 221.5 542.1 220.9 542.6 220.1C543.2 219.4 543.7 218.3 544.3 218C544.8 217.7 545.4 217.5 545.9 218.3C546.5 219.1 547 220.9 547.5 222.8C548.1 224.6 548.6 227 549.2 229.2C549.7 231.3 550.3 233.4 550.8 235.6C551.4 237.8 551.9 240.1 552.4 242.4C553 244.7 553.5 247.5 554.1 249.6C554.6 251.6 555.2 253.3 555.7 254.7C556.3 256.1 556.8 257.2 557.4 258.1C557.9 259 558.4 259.5 559 260.1C559.5 260.7 560.1 261.3 560.6 261.6C561.2 262 561.7 262 562.3 262.2C562.8 262.4 563.3 262.6 563.9 262.7C564.4 262.9 565 263 565.5 263.2C566.1 263.3 566.6 263.3 567.2 263.4C567.7 263.5 568.2 263.6 568.8 263.7C569.3 263.8 569.9 263.8 570.4 263.9C571 264 571.5 264.1 572.1 264.2C572.6 264.2 573.1 264.2 573.7 264.2C574.2 264.2 574.8 264.2 575.3 264.2C575.9 264.2 576.4 264.2 577 264.2C577.5 264.2 578 264.2 578.6 264.2C579.1 264.2 579.7 264.3 580.2 264.3C580.8 264.3 581.3 264.3 581.9 264.3C582.4 264.3 583 264.3 583.5 264.3C584 264.3 584.6 264.3 585.1 264.3C585.7 264.3 586.2 264.3 586.8 264.3C587.3 264.3 587.9 264.3 588.4 264.3C588.9 264.4 589.5 264.4 590 264.4C590.6 264.4 591.1 264.4 591.7 264.4C592.2 264.4 593 264.4 593.3 264.4" stroke="#800080"/>
</g>
<rect x="516.5" y="203.2" width="76.8" height="61.5" fill="none" stroke="#6e6e6e" stroke-width="0.7"/>
<text x="524.3" y="274.8" text-anchor="middle" font-size="6.5">1.3</text>
<text x="539.5" y="274.8" text-anchor="middle" font-size="6.5">1.4</text>
<text x="554.9" y="274.8" text-anchor="middle" font-size="6.5">1.5</text>
<text x="570.2" y="274.8" text-anchor="middle" font-size="6.5">1.6</text>
<text x="585.5" y="274.8" text-anchor="middle" font-size="6.5">1.7</text>
<text x="518.3" y="211" font-size="6.5">With ITIC loading</text>
<path d="M533.2 215.1H553" stroke="#000" stroke-width="0.8" fill="none"/><path d="M556.4 215.1l-4.6 -2v4z" fill="#000"/>
<defs><radialGradient id="bk" cx="0.38" cy="0.32" r="0.65"><stop offset="0" stop-color="#bbb"/><stop offset="0.45" stop-color="#222"/><stop offset="1" stop-color="#000"/></radialGradient><radialGradient id="br" cx="0.38" cy="0.32" r="0.65"><stop offset="0" stop-color="#ffd0d0"/><stop offset="0.45" stop-color="#f01010"/><stop offset="1" stop-color="#b00000"/></radialGradient><radialGradient id="bb" cx="0.38" cy="0.32" r="0.65"><stop offset="0" stop-color="#c8d0ff"/><stop offset="0.45" stop-color="#1020ff"/><stop offset="1" stop-color="#0000a0"/></radialGradient><radialGradient id="bg" cx="0.38" cy="0.32" r="0.65"><stop offset="0" stop-color="#c8f0c8"/><stop offset="0.45" stop-color="#10a020"/><stop offset="1" stop-color="#006000"/></radialGradient></defs>
<path d="M239.4 402.7H362.6V725.4H239.4ZM239.4 511.2H362.6M239.4 619.5H362.6M239.4 424.9h2.6M239.4 446.4h2.6M239.4 468h2.6M239.4 489.6h2.6M239.4 521.7h2.6M239.4 543.4h2.6M239.4 565.1h2.6M239.4 586.8h2.6M239.4 608.4h2.6M239.4 629.8h2.6M239.4 647.5h2.6M239.4 665.2h2.6M239.4 682.9h2.6M239.4 700.6h2.6M239.4 718.3h2.6M362.6 629.8h-2.6M362.6 651.2h-2.6M362.6 672.7h-2.6M362.6 694.1h-2.6M362.6 715.6h-2.6M249.7 511.2v-2.6M249.7 619.5v-2.6M249.7 725.4v-2.6M270.2 511.2v-2.6M270.2 619.5v-2.6M270.2 725.4v-2.6M290.8 511.2v-2.6M290.8 619.5v-2.6M290.8 725.4v-2.6M311.3 511.2v-2.6M311.3 619.5v-2.6M311.3 725.4v-2.6M331.7 511.2v-2.6M331.7 619.5v-2.6M331.7 725.4v-2.6M352.3 511.2v-2.6M352.3 619.5v-2.6M352.3 725.4v-2.6" fill="none" stroke="#6e6e6e" stroke-width="0.7"/>
<text x="235.6" y="406.4" text-anchor="end">1.8</text>
<text x="235.6" y="428" text-anchor="end">1.7</text>
<text x="235.6" y="449.5" text-anchor="end">1.6</text>
<text x="235.6" y="471.1" text-anchor="end">1.5</text>
<text x="235.6" y="492.7" text-anchor="end">1.4</text>
<text x="235.6" y="514.3" text-anchor="end">1.3</text>
<text x="235.6" y="524.8" text-anchor="end">1.4</text>
<text x="235.6" y="546.5" text-anchor="end">1.2</text>
<text x="235.6" y="568.2" text-anchor="end">1.0</text>
<text x="235.6" y="589.9" text-anchor="end">0.8</text>
<text x="235.6" y="611.5" text-anchor="end">0.6</text>
<text x="235.6" y="632.9" text-anchor="end">3.0</text>
<text x="235.6" y="650.6" text-anchor="end">2.5</text>
<text x="235.6" y="668.3" text-anchor="end">2.0</text>
<text x="235.6" y="686" text-anchor="end">1.5</text>
<text x="235.6" y="703.7" text-anchor="end">1.0</text>
<text x="235.6" y="721.4" text-anchor="end">0.5</text>
<text x="366.8" y="633.1">5</text>
<text x="366.8" y="654.5">4</text>
<text x="366.8" y="676">3</text>
<text x="366.8" y="697.4">2</text>
<text x="366.8" y="718.9">1</text>
<text x="249.7" y="736" text-anchor="middle">0</text>
<text x="270.2" y="736" text-anchor="middle">20</text>
<text x="290.8" y="736" text-anchor="middle">40</text>
<text x="311.3" y="736" text-anchor="middle">60</text>
<text x="331.7" y="736" text-anchor="middle">80</text>
<text x="352.3" y="736" text-anchor="middle">100</text>
<text x="301.2" y="749.6" text-anchor="middle">ITIC content (%)</text>
<text x="211.6" y="446.5" text-anchor="middle" transform="rotate(-90 211.6 446.5)">Energy (eV)</text>
<text x="211.6" y="565.3" text-anchor="middle" transform="rotate(-90 211.6 565.3)">HR (<tspan font-style="italic">S</tspan>)</text>
<text x="211.6" y="672.3" text-anchor="middle" transform="rotate(-90 211.6 672.3)">PLQY (10<tspan dy="-3.5" font-size="6">−3</tspan><tspan dy="3.5">)</tspan></text>
<text x="380.2" y="672.7" text-anchor="middle" transform="rotate(90 380.2 672.7)">1/ΣFC (/)</text>
<text x="204.7" y="398.9" font-weight="bold" font-size="10.8">e</text>
<path d="M249.7 449.3L280.4 449.3L301 450.3L321.4 451.7L331.7 452.3L342 452L347.1 439.3L352.3 412.3" fill="none" stroke="#000" stroke-width="0.9"/><circle cx="249.7" cy="449.3" r="2.5" fill="url(#bk)"/><circle cx="280.4" cy="449.3" r="2.5" fill="url(#bk)"/><circle cx="301" cy="450.3" r="2.5" fill="url(#bk)"/><circle cx="321.4" cy="451.7" r="2.5" fill="url(#bk)"/><circle cx="331.7" cy="452.3" r="2.5" fill="url(#bk)"/><circle cx="342" cy="452" r="2.5" fill="url(#bk)"/><circle cx="347.1" cy="439.3" r="2.5" fill="url(#bk)"/><circle cx="352.3" cy="412.3" r="2.5" fill="url(#bk)"/>
<path d="M249.7 482L280.4 479.3L301 479L321.4 477.3L331.7 476.3L342 475L347.1 465.7L352.3 455.7" fill="none" stroke="#e00000" stroke-width="0.9"/><circle cx="249.7" cy="482" r="2.5" fill="url(#br)"/><circle cx="280.4" cy="479.3" r="2.5" fill="url(#br)"/><circle cx="301" cy="479" r="2.5" fill="url(#br)"/><circle cx="321.4" cy="477.3" r="2.5" fill="url(#br)"/><circle cx="331.7" cy="476.3" r="2.5" fill="url(#br)"/><circle cx="342" cy="475" r="2.5" fill="url(#br)"/><circle cx="347.1" cy="465.7" r="2.5" fill="url(#br)"/><circle cx="352.3" cy="455.7" r="2.5" fill="url(#br)"/>
<path d="M241.8 413.7H257.3" stroke="#000" stroke-width="1"/><circle cx="249.6" cy="413.7" r="2.45" fill="url(#bk)"/><text x="261" y="417">Absorption</text>
<path d="M241.8 431.7H257.3" stroke="#e00000" stroke-width="1"/><circle cx="249.6" cy="431.7" r="2.45" fill="url(#br)"/><text x="261" y="435">Emission</text>
<path d="M249.7 567L280.4 571.3L301 573.3L321.4 578.3L331.7 581.3L342 583.3L347.1 577.3L352.3 549.7" fill="none" stroke="#0000e0" stroke-width="0.9"/><circle cx="249.7" cy="567" r="2.5" fill="url(#bb)"/><circle cx="280.4" cy="571.3" r="2.5" fill="url(#bb)"/><circle cx="301" cy="573.3" r="2.5" fill="url(#bb)"/><circle cx="321.4" cy="578.3" r="2.5" fill="url(#bb)"/><circle cx="331.7" cy="581.3" r="2.5" fill="url(#bb)"/><circle cx="342" cy="583.3" r="2.5" fill="url(#bb)"/><circle cx="347.1" cy="577.3" r="2.5" fill="url(#bb)"/><circle cx="352.3" cy="549.7" r="2.5" fill="url(#bb)"/>
<path d="M249.7 567.4L280.4 567.4L301 567.4L321.4 567.4L331.7 567.4L342 567.4L347.1 567.4L352.3 567.4" fill="none" stroke="#000" stroke-width="0.9"/><circle cx="249.7" cy="567.4" r="2.5" fill="url(#bk)"/><circle cx="280.4" cy="567.4" r="2.5" fill="url(#bk)"/><circle cx="301" cy="567.4" r="2.5" fill="url(#bk)"/><circle cx="321.4" cy="567.4" r="2.5" fill="url(#bk)"/><circle cx="331.7" cy="567.4" r="2.5" fill="url(#bk)"/><circle cx="342" cy="567.4" r="2.5" fill="url(#bk)"/><circle cx="347.1" cy="567.4" r="2.5" fill="url(#bk)"/><circle cx="352.3" cy="567.4" r="2.5" fill="url(#bk)"/>
<path d="M239.4 594.3H362.6" stroke="#222" stroke-width="0.9" stroke-dasharray="1.3 1.6" fill="none"/>
<path d="M244.7 527.7H260" stroke="#0000e0" stroke-width="1"/><circle cx="252.4" cy="527.7" r="2.45" fill="url(#bb)"/><text x="265" y="531">Exp.</text>
<path d="M244.7 545H260" stroke="#000" stroke-width="1"/><circle cx="252.4" cy="545" r="2.45" fill="url(#bk)"/><text x="265" y="548.3">Fixed</text>
<text x="301.3" y="609.9" text-anchor="middle">Solution 4TIC (<tspan font-style="italic">S</tspan> = 0.73)</text>
<path d="M249.7 715.7L280.4 712L301 711.3L321.4 709.3L331.7 707.7L342 705.7L347.1 686L352.3 723" fill="none" stroke="#000" stroke-width="0.9"/><circle cx="249.7" cy="715.7" r="2.5" fill="url(#bk)"/><circle cx="280.4" cy="712" r="2.5" fill="url(#bk)"/><circle cx="301" cy="711.3" r="2.5" fill="url(#bk)"/><circle cx="321.4" cy="709.3" r="2.5" fill="url(#bk)"/><circle cx="331.7" cy="707.7" r="2.5" fill="url(#bk)"/><circle cx="342" cy="705.7" r="2.5" fill="url(#bk)"/><circle cx="347.1" cy="686" r="2.5" fill="url(#bk)"/><circle cx="352.3" cy="723" r="2.5" fill="url(#bk)"/>
<path d="M249.7 715.7L280.4 703.7L301 697.3L321.4 676.3L331.7 655.3L342 635.7L347.1 627.3L352.3 723" fill="none" stroke="#e00000" stroke-width="0.9"/><circle cx="249.7" cy="715.7" r="2.5" fill="url(#br)"/><circle cx="280.4" cy="703.7" r="2.5" fill="url(#br)"/><circle cx="301" cy="697.3" r="2.5" fill="url(#br)"/><circle cx="321.4" cy="676.3" r="2.5" fill="url(#br)"/><circle cx="331.7" cy="655.3" r="2.5" fill="url(#br)"/><circle cx="342" cy="635.7" r="2.5" fill="url(#br)"/><circle cx="347.1" cy="627.3" r="2.5" fill="url(#br)"/><circle cx="352.3" cy="723" r="2.5" fill="url(#br)"/>
<path d="M249.7 715.7L280.4 699L301 690.7L321.4 668.7L331.7 652L342 638L347.1 628.7L352.3 685.3" fill="none" stroke="#109020" stroke-width="0.9"/><circle cx="249.7" cy="715.7" r="2.5" fill="url(#bg)"/><circle cx="280.4" cy="699" r="2.5" fill="url(#bg)"/><circle cx="301" cy="690.7" r="2.5" fill="url(#bg)"/><circle cx="321.4" cy="668.7" r="2.5" fill="url(#bg)"/><circle cx="331.7" cy="652" r="2.5" fill="url(#bg)"/><circle cx="342" cy="638" r="2.5" fill="url(#bg)"/><circle cx="347.1" cy="628.7" r="2.5" fill="url(#bg)"/><circle cx="352.3" cy="685.3" r="2.5" fill="url(#bg)"/>
<circle cx="352.3" cy="723" r="2.45" fill="url(#bk)"/><circle cx="249.7" cy="715.7" r="2.45" fill="url(#bk)"/>
<circle cx="347.1" cy="627.3" r="2.45" fill="url(#br)"/>
<path d="M245 638.7H260" stroke="#109020" stroke-width="1"/><circle cx="252.7" cy="638.7" r="2.45" fill="url(#bg)"/><text x="265.7" y="642">Exp.</text>
<path d="M245 655.7H260" stroke="#e00000" stroke-width="1"/><circle cx="252.7" cy="655.7" r="2.45" fill="url(#br)"/><text x="265.7" y="659">Sim.-1</text>
<path d="M245 673.3H260" stroke="#000" stroke-width="1"/><circle cx="252.7" cy="673.3" r="2.45" fill="url(#bk)"/><text x="265.7" y="676.6">Sim.-2</text>
<text x="380" y="398.7" font-weight="bold" font-size="10.8">f</text>
<path d="M390.3 411.3H424" stroke="#000" stroke-width="1.1"/>
<text x="429.5" y="414.2">Ground state</text>
<path d="M390.3 431.4H424" stroke="#e00000" stroke-width="1.1"/>
<text x="429.5" y="434.3">Excited state: pristine film</text>
<path d="M390.3 451.6H424" stroke="#1a1acc" stroke-width="1.1" stroke-dasharray="5.5 2.2 1.5 2.2"/>
<text x="429.5" y="454.5">Excited state: in solution</text>
<path d="M390.3 472.1H424" stroke="#10a050" stroke-width="1.1" stroke-dasharray="3 1.5"/>
<text x="429.5" y="475">Excited state: dilution in solid</text>
<path d="M444.2 519V717.8H594.5" stroke="#000" stroke-width="0.9" fill="none"/>
<path d="M444.2 514.8l-2 5.2h4zM599 717.8l-5.2 -2v4z" fill="#000"/>
<text x="437.8" y="543.2" text-anchor="middle" transform="rotate(-90 437.8 543.2)">Energy</text>
<text x="566" y="727.6" text-anchor="middle">Coordinates</text>
<path d="M461.6 621.4Q503.7 764.6 545.8 622.1" stroke="#000" stroke-width="1.3" fill="none"/>
<path d="M469.2 499.4Q513 641.8 556.8 499.4" stroke="#1a1acc" stroke-width="1.2" fill="none" stroke-dasharray="5.5 2.2 1.5 2.2"/>
<path d="M482.2 503.3Q526.8 647.5 571.3 503.6" stroke="#10a050" stroke-width="1.2" fill="none" stroke-dasharray="3 1.5"/>
<path d="M492.3 506.7Q536.5 650.4 580.8 505.8" stroke="#e00000" stroke-width="1.3" fill="none"/>
<path d="M561 593.8L482.5 568.7" stroke="#7030a0" stroke-width="0.9" fill="none"/>
<path d="M479.6 567.8l6.6 -0.4 -1.5 4.6z" fill="#7030a0"/>
<g transform="rotate(17.7 514 590)" fill="#7030a0" text-anchor="middle"><text x="513" y="589.5" fill="#7030a0">Increased <tspan font-style="italic">E</tspan><tspan dy="2.5" font-size="6">g</tspan></text><text x="513" y="602" fill="#7030a0">and reduced <tspan font-style="italic">S</tspan></text></g>
<text x="-0.7" y="8.3" font-weight="bold" font-size="10.8">a</text>
<defs><g id="xm"><path d="M-9.8 2.4L9.8 -2.4" stroke="#000" stroke-width="0.9" fill="none"/><path d="M12.2 -3L8.6 -0.3L7.7 -3.8ZM-12.2 3L-7.7 3.8L-8.6 0.3Z" fill="#000"/><circle r="3.1" fill="#f01414"/></g></defs><use href="#xm" x="22.9" y="38.5"/><use href="#xm" x="40.1" y="39"/><use href="#xm" x="57.6" y="39"/><use href="#xm" x="76.3" y="40.2"/><use href="#xm" x="93.8" y="40.4"/><use href="#xm" x="111.3" y="40.4"/><use href="#xm" x="27.3" y="51.1"/><use href="#xm" x="44.8" y="51.4"/><use href="#xm" x="61.8" y="51.4"/><use href="#xm" x="80" y="52.5"/><use href="#xm" x="98" y="53"/><use href="#xm" x="115.3" y="53"/><use href="#xm" x="31.5" y="62.3"/><use href="#xm" x="49" y="62.8"/><use href="#xm" x="66" y="62.8"/><use href="#xm" x="84.5" y="64.2"/><use href="#xm" x="102" y="64.7"/><use href="#xm" x="119.5" y="64.7"/><use href="#xm" x="20.3" y="74.7"/><use href="#xm" x="37.8" y="75.2"/><use href="#xm" x="54.8" y="75.2"/><use href="#xm" x="72.3" y="75.9"/><use href="#xm" x="89.4" y="76.3"/><use href="#xm" x="106.6" y="76.3"/><use href="#xm" x="24.5" y="87.3"/><use href="#xm" x="42" y="87.5"/><use href="#xm" x="59.5" y="87.5"/><use href="#xm" x="76.5" y="88"/><use href="#xm" x="93.8" y="88.7"/><use href="#xm" x="111.3" y="88.7"/><use href="#xm" x="28.7" y="99.2"/><use href="#xm" x="46.2" y="99.7"/><use href="#xm" x="63.5" y="99.7"/><use href="#xm" x="81" y="100.4"/><use href="#xm" x="98" y="100.8"/><use href="#xm" x="115.5" y="100.8"/>
<text x="61.4" y="124.6" text-anchor="middle" font-size="9.45">Pristine 4TIC film</text>
<text x="62.6" y="135.4" text-anchor="middle" font-size="9.45">crystalline packing</text>
<path d="M151.6 68.6L213.9 68.6" stroke="#12a651" stroke-width="1.4" fill="none"/><path d="M220.5 68.6L211 73.4L213.9 68.6L211 63.8Z" fill="#12a651"/>
<path d="M147 97L224.5 180.8" stroke="#12a651" stroke-width="1.4" fill="none"/><path d="M229 185.6L219 181.9L224.5 180.8L226.1 175.4Z" fill="#12a651"/>
<defs><clipPath id="cbk"><rect x="252" y="46" width="93.6" height="66"/></clipPath><linearGradient id="gl" x1="0" x2="1" y1="0" y2="0"><stop offset="0" stop-color="#b65055"/><stop offset="0.25" stop-color="#cf6468"/><stop offset="0.6" stop-color="#d0666a"/><stop offset="1" stop-color="#b04a50"/></linearGradient><linearGradient id="gw" x1="0" x2="1" y1="0" y2="0"><stop offset="0" stop-color="#969696"/><stop offset="0.3" stop-color="#b0b0b0"/><stop offset="0.7" stop-color="#adadad"/><stop offset="1" stop-color="#909090"/></linearGradient></defs><path d="M250.6 19.7V40A48.2 9 0 0 0 347 40V19.7Z" fill="url(#gw)"/><path d="M250.6 39.4V102A48.2 10.8 0 0 0 347 102V39.4Z" fill="url(#gl)"/><ellipse cx="298.8" cy="39.4" rx="48" ry="8.7" fill="#d68c8c"/><ellipse cx="298.8" cy="19.7" rx="48.2" ry="10.6" fill="#cdcdcd"/><g clip-path="url(#cbk)"><path d="M318.2 63.9L331.1 51M292.3 59.7L309.4 66M261.3 74.2L276.7 64.5M283.5 61.2L288.3 78.8M293.7 73.4L311.5 69.6M318.4 73.2L336.6 73.2M313.1 74.9L319.4 92M267.4 87.8L284.9 82.5M292.9 81.9L309.2 90.2M261.1 80.2L259.5 98.4M277 97.6L294.4 92.2M318.6 101.5L330.8 87.9M263 94.6L278.1 104.8M292.5 100.1L310.5 102.7" stroke="#7a1010" stroke-width="0.55" fill="none"/><path d="M332.1 50L331.2 52.3L329.8 50.9ZM317.3 64.8L319.6 63.9L318.2 62.5ZM310.7 66.4L308.2 66.6L308.9 64.7ZM291 59.2L292.8 61L293.5 59.1ZM277.9 63.8L276.5 65.8L275.4 64.1ZM260.1 74.9L262.6 74.5L261.5 72.8ZM288.6 80.1L287.1 78.2L289 77.7ZM283.2 59.8L282.8 62.3L284.7 61.8ZM312.9 69.3L310.8 70.8L310.4 68.8ZM292.3 73.7L294.8 74.2L294.4 72.2ZM338 73.2L335.7 74.2L335.7 72.2ZM317 73.2L319.3 74.2L319.3 72.2ZM319.8 93.3L318.1 91.5L320 90.8ZM312.6 73.6L312.5 76.1L314.4 75.4ZM286.2 82.1L284.3 83.7L283.7 81.8ZM266.1 88.2L268.6 88.5L268 86.6ZM310.4 90.8L307.9 90.6L308.8 88.9ZM291.7 81.3L293.3 83.2L294.2 81.4ZM259.4 99.7L258.6 97.4L260.6 97.5ZM261.3 78.8L260.1 81L262 81.2ZM295.7 91.8L293.8 93.5L293.2 91.6ZM275.6 98L278.1 98.3L277.6 96.3ZM331.7 86.9L330.9 89.3L329.4 87.9ZM317.7 102.5L319.9 101.5L318.5 100.1ZM279.2 105.5L276.8 105.1L277.9 103.4ZM261.8 93.8L263.2 95.9L264.3 94.3ZM311.9 102.9L309.5 103.5L309.8 101.6ZM291.1 99.9L293.2 101.3L293.5 99.3Z" fill="#7a1010"/></g><g fill="#ffb4b0" stroke="#86189a" stroke-width="1.05"><circle cx="279.4" cy="56.8" r="2.95"/><circle cx="286.8" cy="58.1" r="2.95"/><circle cx="295.4" cy="56.8" r="2.95"/><circle cx="303" cy="54.2" r="2.95"/><circle cx="334" cy="57.4" r="2.95"/><circle cx="265.8" cy="61.8" r="2.95"/><circle cx="273.3" cy="62.4" r="2.95"/><circle cx="291.3" cy="65" r="2.95"/><circle cx="308" cy="61.3" r="2.95"/><circle cx="316.7" cy="59.6" r="2.95"/><circle cx="328.6" cy="64.6" r="2.95"/><circle cx="262.1" cy="68.9" r="2.95"/><circle cx="297.2" cy="68.9" r="2.95"/><circle cx="322.1" cy="68.9" r="2.95"/><circle cx="336.2" cy="67.6" r="2.95"/><circle cx="277.2" cy="73.7" r="2.95"/><circle cx="282.7" cy="78" r="2.95"/><circle cx="297.2" cy="78" r="2.95"/><circle cx="305.8" cy="75.4" r="2.95"/><circle cx="310.6" cy="76.3" r="2.95"/><circle cx="268.6" cy="80.6" r="2.95"/><circle cx="275.1" cy="80.6" r="2.95"/><circle cx="303.7" cy="81.3" r="2.95"/><circle cx="321" cy="79.7" r="2.95"/><circle cx="327.5" cy="79.7" r="2.95"/><circle cx="334.4" cy="79.7" r="2.95"/><circle cx="292.8" cy="86" r="2.95"/><circle cx="309.7" cy="86" r="2.95"/><circle cx="324.3" cy="86.7" r="2.95"/><circle cx="283.7" cy="88.4" r="2.95"/><circle cx="270.1" cy="92.5" r="2.95"/><circle cx="277.2" cy="92.5" r="2.95"/><circle cx="301.5" cy="93.6" r="2.95"/><circle cx="309.1" cy="95.3" r="2.95"/><circle cx="335.7" cy="92.5" r="2.95"/><circle cx="293.9" cy="96" r="2.95"/><circle cx="316.2" cy="97.5" r="2.95"/><circle cx="282" cy="100.8" r="2.95"/><circle cx="264.2" cy="102.9" r="2.95"/><circle cx="288.9" cy="104" r="2.95"/><circle cx="296.1" cy="105.7" r="2.95"/><circle cx="308" cy="101.8" r="2.95"/><circle cx="331.8" cy="100.8" r="2.95"/><circle cx="262.5" cy="75.8" r="2.95"/><circle cx="315.6" cy="68.9" r="2.95"/><circle cx="330.8" cy="72.6" r="2.95"/></g><g fill="#ff1010"><circle cx="324.7" cy="57.4" r="2.7"/><circle cx="300.9" cy="62.8" r="2.7"/><circle cx="269" cy="69.3" r="2.7"/><circle cx="285.9" cy="70" r="2.7"/><circle cx="302.6" cy="71.5" r="2.7"/><circle cx="327.5" cy="73.2" r="2.7"/><circle cx="316.2" cy="83.4" r="2.7"/><circle cx="276.2" cy="85.2" r="2.7"/><circle cx="301.1" cy="86" r="2.7"/><circle cx="260.3" cy="89.3" r="2.7"/><circle cx="285.7" cy="94.9" r="2.7"/><circle cx="324.7" cy="94.7" r="2.7"/><circle cx="270.5" cy="99.7" r="2.7"/><circle cx="301.5" cy="101.4" r="2.7"/></g>
<text x="298.4" y="124.6" text-anchor="middle">Molecular conformation of</text>
<text x="298.6" y="135.2" text-anchor="middle">4TIC dissolved in solution</text>
<path d="M296.7 212.1L286.5 214.5M307.6 166.2L307.2 176.7M307.3 237.8L317.4 240.9M278.5 158L269.8 163.9M325.1 155.2L314.5 155.8M339.5 204L335 213.5M296.4 219.5L297.9 230M260.4 181.9L270.7 184.2M333 193.1L323.7 198M262.7 247.2L263.7 257.7M324.7 179.5L334.8 182.4M323.6 160.3L331.1 167.7M299.7 197.8L308.5 203.7M284.4 170.6L291.4 178.5M333.6 220.8L343.7 224.1M266.2 232.5L271.6 241.6M265 213.1L269.2 222.8M335.4 168.8L344.7 173.7M271.5 168.2L264.3 175.9M353.9 171.9L343.5 173.6M306 241L302.3 250.9M259 189.5L249.1 193M314.8 213.8L324.3 218.3M350.4 228.4L339.9 229.7M251.1 207.9L243.9 215.7M323.7 249.3L314 253.4M292.3 236.9L282.7 241.2M303.8 215.7L307.6 225.5M243.2 234.1L253.7 235M313.5 170.8L322.6 176.1M287.6 245.8L293.1 254.9M345.3 179L354.4 184.4M255.9 196.6L251.8 206.3M346.3 187.7L344 198M309.6 227.6L317.9 234.2M323.3 204.8L333.8 205.7M345.7 157.1L353.8 163.8M303.8 179.2L296.8 187.2M265.3 201.6L275 205.7M341.2 199.6L346.9 208.4M325.5 150.4L334.2 156.4M278.3 185.6L274.4 195.4M280.5 227L291.1 227.6M328.2 236.7L331.2 246.8M315.4 156.5L305 158.3M313.2 197.8L320.4 205.5M297 157.5L307.1 160.3M308 232.8L297.7 235.4M283.7 190.5L293.7 193.6M315.1 180.1L324.6 184.7M265.6 186.4L269.9 196M293.6 182.9L283.1 183.9M255.9 231L261.8 239.7M284 204.4L283.5 215M308.7 178.4L312.8 188.1M300.5 162.5L293.9 170.8M299.1 204.3L301.3 214.6M288.1 152.3L282.1 161M324 229.3L331.9 236.2M280.1 166.1L278.5 176.5M318.8 222.8L328.3 227.5M278.7 224.3L268.4 227M259.4 211.6L253.2 220.1M254.6 206.1L264.3 210.2M286.6 196.5L286.4 207.1M283.3 240L273.9 244.8M333.1 183L338.8 191.9M257.9 180.3L247.5 182.3M331.3 212.2L326 221.3M351.6 217.2L341.1 218.6M321.4 159.8L314.6 167.9M292.7 236.7L299.6 244.7M261.2 226.6L250.6 226.7M344.4 233.4L337.3 241.1M336.8 150.2L346.2 154.9M270.4 241.9L268.9 252.4M270.2 174.9L276.9 183M245.8 216L236 219.9M247.5 238.7L252.1 248.2M316.6 255L307.8 260.8M246.6 224.3L237.4 229.6M258.1 239.2L265.1 247.2M289.2 154.4L297.8 160.4M300.8 173.1L291.5 178.1M341.6 174.8L338.5 184.9M317.7 188.3L312 197.2" stroke="#1c1cd8" stroke-width="1.55" stroke-linecap="round" stroke-dasharray="0.01 2.35" fill="none"/><g fill="#12a651"><circle cx="291.6" cy="213.3" r="2.1"/><circle cx="307.4" cy="171.4" r="2.1"/><circle cx="312.4" cy="239.3" r="2.1"/><circle cx="274.2" cy="161" r="2.1"/><circle cx="319.8" cy="155.5" r="2.1"/><circle cx="337.2" cy="208.8" r="2.1"/><circle cx="297.1" cy="224.8" r="2.1"/><circle cx="265.5" cy="183.1" r="2.1"/><circle cx="328.3" cy="195.5" r="2.1"/><circle cx="263.2" cy="252.4" r="2.1"/><circle cx="329.8" cy="180.9" r="2.1"/><circle cx="327.4" cy="164" r="2.1"/><circle cx="304.1" cy="200.8" r="2.1"/><circle cx="287.9" cy="174.6" r="2.1"/><circle cx="338.6" cy="222.5" r="2.1"/><circle cx="268.9" cy="237.1" r="2.1"/><circle cx="267.1" cy="217.9" r="2.1"/><circle cx="340.1" cy="171.2" r="2.1"/><circle cx="267.9" cy="172" r="2.1"/><circle cx="348.7" cy="172.8" r="2.1"/><circle cx="304.1" cy="246" r="2.1"/><circle cx="254.1" cy="191.2" r="2.1"/><circle cx="319.5" cy="216.1" r="2.1"/><circle cx="345.2" cy="229.1" r="2.1"/><circle cx="247.5" cy="211.8" r="2.1"/><circle cx="318.8" cy="251.4" r="2.1"/><circle cx="287.5" cy="239.1" r="2.1"/><circle cx="305.7" cy="220.6" r="2.1"/><circle cx="248.5" cy="234.6" r="2.1"/><circle cx="318" cy="173.4" r="2.1"/><circle cx="290.4" cy="250.3" r="2.1"/><circle cx="349.8" cy="181.7" r="2.1"/><circle cx="253.9" cy="201.4" r="2.1"/><circle cx="345.1" cy="192.9" r="2.1"/><circle cx="313.7" cy="230.9" r="2.1"/><circle cx="328.6" cy="205.2" r="2.1"/><circle cx="349.7" cy="160.4" r="2.1"/><circle cx="300.3" cy="183.2" r="2.1"/><circle cx="270.2" cy="203.6" r="2.1"/><circle cx="344" cy="204" r="2.1"/><circle cx="329.9" cy="153.4" r="2.1"/><circle cx="276.4" cy="190.5" r="2.1"/><circle cx="285.8" cy="227.3" r="2.1"/><circle cx="329.7" cy="241.7" r="2.1"/><circle cx="310.2" cy="157.4" r="2.1"/><circle cx="316.8" cy="201.7" r="2.1"/><circle cx="302" cy="158.9" r="2.1"/><circle cx="302.9" cy="234.1" r="2.1"/><circle cx="288.7" cy="192" r="2.1"/><circle cx="319.9" cy="182.4" r="2.1"/><circle cx="267.7" cy="191.2" r="2.1"/><circle cx="288.4" cy="183.4" r="2.1"/><circle cx="258.9" cy="235.4" r="2.1"/><circle cx="283.7" cy="209.7" r="2.1"/><circle cx="310.8" cy="183.2" r="2.1"/><circle cx="297.2" cy="166.7" r="2.1"/><circle cx="300.2" cy="209.4" r="2.1"/><circle cx="285.1" cy="156.6" r="2.1"/><circle cx="328" cy="232.8" r="2.1"/><circle cx="279.3" cy="171.3" r="2.1"/><circle cx="323.6" cy="225.2" r="2.1"/><circle cx="273.5" cy="225.7" r="2.1"/><circle cx="256.3" cy="215.9" r="2.1"/><circle cx="259.5" cy="208.2" r="2.1"/><circle cx="286.5" cy="201.8" r="2.1"/><circle cx="278.6" cy="242.4" r="2.1"/><circle cx="336" cy="187.5" r="2.1"/><circle cx="252.7" cy="181.3" r="2.1"/><circle cx="328.6" cy="216.8" r="2.1"/><circle cx="346.3" cy="217.9" r="2.1"/><circle cx="318" cy="163.8" r="2.1"/><circle cx="296.2" cy="240.7" r="2.1"/><circle cx="255.9" cy="226.7" r="2.1"/><circle cx="340.8" cy="237.2" r="2.1"/><circle cx="341.5" cy="152.6" r="2.1"/><circle cx="269.7" cy="247.2" r="2.1"/><circle cx="273.5" cy="179" r="2.1"/><circle cx="240.9" cy="218" r="2.1"/><circle cx="249.8" cy="243.5" r="2.1"/><circle cx="312.2" cy="257.9" r="2.1"/><circle cx="242" cy="226.9" r="2.1"/><circle cx="261.6" cy="243.2" r="2.1"/><circle cx="293.5" cy="157.4" r="2.1"/><circle cx="296.1" cy="175.6" r="2.1"/><circle cx="340" cy="179.9" r="2.1"/><circle cx="314.8" cy="192.8" r="2.1"/></g><path d="M280.3 169.9L292.4 157.8M304.2 170.5L318.3 160.6M332.8 166.5L343.9 153.3M255.5 182.3L266.5 169.2M273.5 181.6L290.5 178.6M322.2 174.2L339.4 174.2M334.1 186.6L351.3 186.6M288.7 192.3L304.8 186.5M302.4 195.5L314.5 183.3M319.9 182.5L322.9 199.4M331.3 189.8L342.4 202.9M259.1 206.6L269 192.5M277.2 189.5L277.2 206.7M286.2 194.7L300.3 204.5M308 200.3L308 217.5M272.9 206.9L275.9 223.9M278.1 226.3L290.3 214.1M241.8 214.7L252.9 227.8M308.4 229.5L320.6 217.3M326.3 230.5L336.1 216.4M262.2 219.2L263.7 236.3M294.4 224.1L294.4 241.3M271.8 234.5L288.7 237.5M325.8 233.6L343 233.6M315 235.3L326.1 248.4M250 241.3L261.1 254.5M272.8 243.5L286 254.5M310.6 242.6L310.6 259.8" stroke="#000" stroke-width="0.95" fill="none"/><path d="M294.1 156.1L292.6 160.2L289.9 157.5ZM278.6 171.6L282.7 170.1L280 167.4ZM320.3 159.3L318.1 163.1L315.9 160ZM302.2 171.9L306.6 171.1L304.4 168ZM345.4 151.5L344.3 155.8L341.4 153.4ZM331.3 168.4L335.3 166.5L332.4 164.1ZM268.1 167.3L266.9 171.6L264 169.2ZM253.9 184.2L257.9 182.3L255 179.9ZM292.8 178.2L289.2 180.7L288.6 177ZM271.2 182L275.4 183.2L274.8 179.4ZM341.8 174.2L337.8 176.1L337.8 172.3ZM319.8 174.2L323.8 176.1L323.8 172.3ZM353.7 186.6L349.7 188.5L349.7 184.7ZM331.7 186.6L335.7 188.5L335.7 184.7ZM307.1 185.6L304 188.8L302.7 185.2ZM286.4 193.2L290.8 193.6L289.5 190ZM316.2 181.6L314.7 185.8L312 183.1ZM300.7 197.2L304.8 195.7L302.1 193ZM323.4 201.8L320.8 198.1L324.5 197.5ZM319.5 180.1L318.4 184.4L322.1 183.7ZM343.9 204.8L339.9 202.9L342.8 200.5ZM329.8 187.9L330.9 192.2L333.8 189.8ZM270.3 190.6L269.6 194.9L266.5 192.8ZM257.7 208.6L261.6 206.4L258.4 204.2ZM277.2 209.1L275.3 205.1L279.1 205.1ZM277.2 187.1L275.3 191.1L279.1 191.1ZM302.3 205.9L297.9 205.2L300.1 202ZM284.3 193.3L286.4 197.1L288.6 194ZM308 219.9L306.1 215.9L309.9 215.9ZM308 197.9L306.1 201.9L309.9 201.9ZM276.3 226.2L273.8 222.6L277.5 222ZM272.5 204.6L271.3 208.8L275.1 208.2ZM291.9 212.4L290.5 216.6L287.8 213.9ZM276.4 228L280.6 226.5L277.9 223.8ZM254.4 229.7L250.4 227.8L253.3 225.4ZM240.3 212.8L241.4 217.1L244.3 214.7ZM322.3 215.6L320.8 219.8L318.1 217.1ZM306.7 231.2L310.9 229.7L308.2 227ZM337.5 214.4L336.8 218.8L333.7 216.6ZM324.9 232.4L328.7 230.2L325.6 228.1ZM263.9 238.7L261.7 234.9L265.4 234.6ZM262 216.8L260.4 220.9L264.2 220.6ZM294.4 243.7L292.5 239.7L296.3 239.7ZM294.4 221.7L292.5 225.7L296.3 225.7ZM291.1 237.9L286.8 239.1L287.5 235.3ZM269.4 234.1L273 236.6L273.7 232.9ZM345.4 233.6L341.4 235.5L341.4 231.7ZM323.4 233.6L327.4 235.5L327.4 231.7ZM327.6 250.3L323.6 248.4L326.5 246ZM313.5 233.4L314.6 237.7L317.5 235.3ZM262.6 256.3L258.6 254.5L261.5 252.1ZM248.5 239.5L249.6 243.8L252.5 241.3ZM287.8 256.1L283.5 254.9L286 252ZM271 241.9L272.8 245.9L275.3 243ZM310.6 262.2L308.7 258.2L312.5 258.2ZM310.6 240.2L308.7 244.2L312.5 244.2Z" fill="#000"/><g fill="#f01414"><circle cx="286.3" cy="163.8" r="2.6"/><circle cx="311.3" cy="165.6" r="2.6"/><circle cx="338.3" cy="159.9" r="2.6"/><circle cx="261" cy="175.8" r="2.6"/><circle cx="282" cy="180.1" r="2.6"/><circle cx="330.8" cy="174.2" r="2.6"/><circle cx="342.7" cy="186.6" r="2.6"/><circle cx="296.7" cy="189.4" r="2.6"/><circle cx="308.4" cy="189.4" r="2.6"/><circle cx="321.4" cy="190.9" r="2.6"/><circle cx="336.8" cy="196.3" r="2.6"/><circle cx="264" cy="199.6" r="2.6"/><circle cx="277.2" cy="198.1" r="2.6"/><circle cx="293.3" cy="199.6" r="2.6"/><circle cx="308" cy="208.9" r="2.6"/><circle cx="274.4" cy="215.4" r="2.6"/><circle cx="284.2" cy="220.2" r="2.6"/><circle cx="247.3" cy="221.3" r="2.6"/><circle cx="314.5" cy="223.4" r="2.6"/><circle cx="331.2" cy="223.4" r="2.6"/><circle cx="262.9" cy="227.8" r="2.6"/><circle cx="294.4" cy="232.7" r="2.6"/><circle cx="280.3" cy="236" r="2.6"/><circle cx="334.4" cy="233.6" r="2.6"/><circle cx="320.6" cy="241.8" r="2.6"/><circle cx="255.6" cy="247.9" r="2.6"/><circle cx="279.4" cy="249" r="2.6"/><circle cx="310.6" cy="251.2" r="2.6"/></g>
<text x="295.2" y="271.4" text-anchor="middle" font-size="9.4">Molecular conformation</text>
<text x="295.2" y="282.5" text-anchor="middle" font-size="9.4">of 4TIC diluted in solid</text>
<rect x="234.8" y="311.4" width="25.2" height="54.6" fill="#12a651"/><rect x="285.2" y="311.4" width="24.5" height="54.6" fill="#12a651"/><rect x="260.3" y="314.2" width="24.5" height="40.3" fill="#f01c24"/><text x="247.6" y="310.3" text-anchor="middle" font-size="8.6">−4.02</text><text x="272.6" y="313" text-anchor="middle" font-size="8.6">−4.08</text><text x="272.6" y="364.4" text-anchor="middle" font-size="8.6">−5.46</text><text x="247.6" y="376.7" text-anchor="middle" font-size="8.6">−5.61</text><text x="244.2" y="339.2" text-anchor="middle" fill="#fff" font-size="9" transform="rotate(90 244.2 339.2)">ITIC</text><text x="269.4" y="335.2" text-anchor="middle" fill="#fff" font-size="9" transform="rotate(90 269.4 335.2)">4TIC</text><text x="290.2" y="337.6" text-anchor="middle" fill="#fff" font-size="9" transform="rotate(90 290.2 337.6)">ITIC</text><text x="311.8" y="324">‘Type I’</text><text x="311.8" y="335.1">quantum</text><text x="311.8" y="346.2">well</text><text x="311.8" y="357.3">structure</text>
<path d="M14.7 170L21.6 172L24 178.7L18.7 184L11.3 182.7L8.7 175.3ZM15.61 171.51L20.02 172.79M22.2 178.81L18.81 182.2M11.96 180.97L10.3 176.23M24 178.7L30.7 181.3L29.6 189.3L21.3 190.7L18.7 184M30.7 181.3L35 178.8M31.3 182.3L35.6 179.8M21.3 190.7L17.3 198.7M20.2 190.2L16.2 198.2M17.3 198.7L12.4 198.2M17.3 198.7L22 202.3M29.6 189.3L35.3 193.3L41.3 192.4M30.4 188.3L35.6 192M41.3 192.4L44.7 186.7L52.7 186L56 192.4L48.7 196.2ZM42.94 191.99L45.12 188.34M52.23 187.7L54.34 191.8M52.7 186L58.7 181.3L65.3 185.3L63.3 192.7L56 192.4M53.22 173.79L46.95 174.46L43.24 169.37L45.78 163.61L52.05 162.94L55.76 168.03ZM51.96 172.72L47.95 173.15M44.79 168.82L46.42 165.13M51.75 164.56L54.13 167.82M58.7 181.3L53.22 173.79M45.78 163.61L42.5 160M65.14 172.98L62.76 167.15L66.62 162.17L72.86 163.02L75.24 168.85L71.38 173.83ZM65.82 171.48L64.3 167.75M67.58 163.51L71.57 164.06M73.6 169.01L71.13 172.2M58.7 181.3L65.14 172.98M72.86 163.02L76.5 160M65.3 185.3L72.7 185.6L74.7 192.4L68.7 196.2L63.3 192.7ZM66.58 186.55L71.32 186.75M68.38 194.56L64.92 192.32M72.7 185.6L79.3 181.2L84.7 185.3L82.7 192L74.7 192.4ZM83.19 186.16L81.91 190.45M84.7 185.3L82.7 192L88.7 196.7L94 192.7L93.3 186M93.3 186L84.7 185.3M82.73 203.86L84.91 209.77L80.87 214.61L74.67 213.54L72.49 207.63L76.53 202.79ZM82 205.34L83.39 209.12M79.96 213.24L75.99 212.55M74.14 207.52L76.72 204.43M88.7 196.7L82.73 203.86M74.67 213.54L71.5 217.5M95.55 203.55L101.63 201.91L106.09 206.37L104.45 212.45L98.37 214.09L93.91 209.63ZM96.95 204.41L100.85 203.37M104.63 207.15L103.59 211.05M98.42 212.43L95.57 209.58M88.7 196.7L95.55 203.55M104.45 212.45L108 216.5M93.3 186L98.7 180.8L104 185.3L101.3 191.3L94 192.7ZM102.42 185.89L100.69 189.73M95.07 191.37L94.62 187.08M104 185.3L111.3 182.7L117.3 188.7M111.6 183.9L116.4 189.3M117.3 188.7L117.3 196L124.7 200L129.3 193.3L125.3 187.3ZM117.3 196L112.8 198M117.8 197L113.3 199M125.3 187.3L127.3 178.7M126.4 187.6L128.4 179M127.3 178.7L123.5 175M127.3 178.7L133.5 178.2M124.7 200L129.3 193.3L136.7 194.7L140 201.3L135.3 207.3L127.3 206.7ZM130.41 194.73L135.14 195.63M138.21 201.64L135.2 205.48M127.95 205.06L126.29 200.77" stroke="#3c3c3c" stroke-width="0.6" fill="none" stroke-linejoin="round" stroke-linecap="round"/><text x="37.6" y="180.1" text-anchor="middle" fill="#111" font-size="6.7" stroke="#fff" stroke-width="1.4" paint-order="stroke">O</text><text x="8.5" y="200.6" text-anchor="middle" fill="#111" font-size="6.7" stroke="#fff" stroke-width="1.4" paint-order="stroke">NC</text><text x="26.2" y="205.9" text-anchor="middle" fill="#111" font-size="6.7" stroke="#fff" stroke-width="1.4" paint-order="stroke">CN</text><text x="48.7" y="199" text-anchor="middle" fill="#111" font-size="6.6" stroke="#fff" stroke-width="1.4" paint-order="stroke">S</text><text x="38" y="159.3" text-anchor="middle" fill="#111" font-size="6.7" stroke="#fff" stroke-width="1.4" paint-order="stroke">C<tspan dy="1.7" font-size="4.5">6</tspan><tspan dy="-1.7">H</tspan><tspan dy="1.7" font-size="4.5">13</tspan></text><text x="84.6" y="159.8" text-anchor="middle" fill="#111" font-size="6.7" stroke="#fff" stroke-width="1.4" paint-order="stroke">C<tspan dy="1.7" font-size="4.5">6</tspan><tspan dy="-1.7">H</tspan><tspan dy="1.7" font-size="4.5">13</tspan></text><text x="68.7" y="199" text-anchor="middle" fill="#111" font-size="6.6" stroke="#fff" stroke-width="1.4" paint-order="stroke">S</text><text x="79.3" y="183.4" text-anchor="middle" fill="#111" font-size="6.6" stroke="#fff" stroke-width="1.4" paint-order="stroke">S</text><text x="67.5" y="223.3" text-anchor="middle" fill="#111" font-size="6.7" stroke="#fff" stroke-width="1.4" paint-order="stroke">C<tspan dy="1.7" font-size="4.5">6</tspan><tspan dy="-1.7">H</tspan><tspan dy="1.7" font-size="4.5">13</tspan></text><text x="115.5" y="221.9" text-anchor="middle" fill="#111" font-size="6.7" stroke="#fff" stroke-width="1.4" paint-order="stroke">C<tspan dy="1.7" font-size="4.5">6</tspan><tspan dy="-1.7">H</tspan><tspan dy="1.7" font-size="4.5">13</tspan></text><text x="98.7" y="183" text-anchor="middle" fill="#111" font-size="6.6" stroke="#fff" stroke-width="1.4" paint-order="stroke">S</text><text x="110" y="201.3" text-anchor="middle" fill="#111" font-size="6.7" stroke="#fff" stroke-width="1.4" paint-order="stroke">O</text><text x="121.3" y="175.2" text-anchor="middle" fill="#111" font-size="6.7" stroke="#fff" stroke-width="1.4" paint-order="stroke">NC</text><text x="138.2" y="180.6" text-anchor="middle" fill="#111" font-size="6.7" stroke="#fff" stroke-width="1.4" paint-order="stroke">CN</text>
<text x="47.5" y="239.7" text-anchor="middle" font-size="9.7">4TIC</text>
<path d="M82.8 236.3L105.8 236.3" stroke="#000" stroke-width="0.8" fill="none"/><path d="M108.1 236.3L104.3 238L104.3 234.6ZM80.5 236.3L84.3 238L84.3 234.6Z" fill="#000"/><circle cx="94.3" cy="236.3" r="3.1" fill="#f01414"/>
<path d="M21.8 254.5L29.3 257.5L30 265L23.3 269.5L15.8 266.5L15.8 258.3ZM22.7 256.15L27.5 258.07M28.12 264.81L23.84 267.69M17 265.02L17 259.78M30 265L36 270.3L32.3 277.8L24 277L23.3 269.5M36 270.3L40.2 268.8M36.4 271.4L40.6 269.9M24 277L18.8 283.8M23 276.3L17.8 283.1M18.8 283.8L13 281.5M18.8 283.8L21.5 288M32.3 277.8L36.8 285.3L43.5 285.3M33.5 277.4L37.5 284.1M43.5 285.3L48 279.3L56.3 282.3L57 289.8L48.8 290.5ZM45.27 284.94L48.15 281.1M55.23 283.76L55.68 288.56M56.3 282.3L63.8 278.5L69 285.3L64.5 291.3L57 289.8ZM67.23 285.66L64.35 289.5M69 285.3L64.5 291.3L66.8 298L75.5 295L76.2 287.2M76.2 287.2L69 285.3M82.8 283.8L90.3 287.5L89.5 295.8L82 299.5L75.5 295L76.2 287.2ZM83.62 285.54L88.42 287.91M87.62 295.39L82.82 297.76M76.82 293.7L77.27 288.71M59.4 303.2L59.99 309.78L54.59 313.57L48.6 310.8L48.01 304.22L53.41 300.43ZM58.31 304.49L58.69 308.7M54.02 311.99L50.18 310.21M49.67 304.52L53.13 302.09M66.8 298L59.4 303.2M48.6 310.8L44.5 311.5M71.35 307.1L77.94 307.49L80.89 313.4L77.25 318.9L70.66 318.51L67.71 312.6ZM72.46 308.37L76.68 308.62M79.23 313.73L76.9 317.25M71.21 316.91L69.32 313.13M66.8 298L71.35 307.1M77.25 318.9L80.5 323.5M90.3 287.5L95.5 285.3L100.8 292L96.3 298L89.5 295.8M92.74 275.17L86.35 273.49L84.62 267.12L89.26 262.43L95.65 264.11L97.38 270.48ZM91.89 273.7L87.81 272.63M86.31 267.12L89.28 264.12M94.8 265.57L95.91 269.65M95.5 285.3L92.74 275.17M89.26 262.43L86.5 259.2M104.84 279.7L104.73 273.1L110.39 269.7L116.16 272.9L116.27 279.5L110.61 282.9ZM106.02 278.49L105.95 274.26M110.85 271.33L114.54 273.38M114.63 279.09L111.01 281.26M95.5 285.3L104.84 279.7M116.16 272.9L120.5 271.3M100.8 292L96.3 298L101.5 303.5L108.3 301.8L109 294.3ZM100.95 293.8L98.07 297.64M107.23 300.34L107.68 295.54M109 294.3L117.3 290.5L121 298L115 303.3L108.3 301.8ZM119.13 298.05L115.29 301.45M121 298L128.5 298L132.3 305.5M129.5 297.2L133.3 304.7M132.3 305.5L130 313L136 317.5L143.5 313.8L140.5 306.3ZM130 313L125 313.3M130 314.2L125 314.5M140.5 306.3L145.8 298.8M141.6 306.9L146.9 299.4M145.8 298.8L142.5 294.3M145.8 298.8L152 300.3M136 317.5L143.5 313.8L150.3 318.3L148.8 325.8L141.3 328.8L135.3 324.3ZM144.06 315.61L148.41 318.49M147 325.23L142.2 327.15M136.62 323.2L137.07 318.85" stroke="#3c3c3c" stroke-width="0.6" fill="none" stroke-linejoin="round" stroke-linecap="round"/><text x="43" y="271.2" text-anchor="middle" fill="#111" font-size="6.7" stroke="#fff" stroke-width="1.4" paint-order="stroke">O</text><text x="9" y="283.4" text-anchor="middle" fill="#111" font-size="6.7" stroke="#fff" stroke-width="1.4" paint-order="stroke">NC</text><text x="23.5" y="293" text-anchor="middle" fill="#111" font-size="6.7" stroke="#fff" stroke-width="1.4" paint-order="stroke">CN</text><text x="48.6" y="293.2" text-anchor="middle" fill="#111" font-size="6.6" stroke="#fff" stroke-width="1.4" paint-order="stroke">S</text><text x="63.8" y="280.7" text-anchor="middle" fill="#111" font-size="6.6" stroke="#fff" stroke-width="1.4" paint-order="stroke">S</text><text x="35.5" y="315.3" text-anchor="middle" fill="#111" font-size="6.7" stroke="#fff" stroke-width="1.4" paint-order="stroke">C<tspan dy="1.7" font-size="4.5">6</tspan><tspan dy="-1.7">H</tspan><tspan dy="1.7" font-size="4.5">13</tspan></text><text x="86" y="329.9" text-anchor="middle" fill="#111" font-size="6.7" stroke="#fff" stroke-width="1.4" paint-order="stroke">C<tspan dy="1.7" font-size="4.5">6</tspan><tspan dy="-1.7">H</tspan><tspan dy="1.7" font-size="4.5">13</tspan></text><text x="83.5" y="257.9" text-anchor="middle" fill="#111" font-size="6.7" stroke="#fff" stroke-width="1.4" paint-order="stroke">C<tspan dy="1.7" font-size="4.5">6</tspan><tspan dy="-1.7">H</tspan><tspan dy="1.7" font-size="4.5">13</tspan></text><text x="130" y="271.8" text-anchor="middle" fill="#111" font-size="6.7" stroke="#fff" stroke-width="1.4" paint-order="stroke">C<tspan dy="1.7" font-size="4.5">6</tspan><tspan dy="-1.7">H</tspan><tspan dy="1.7" font-size="4.5">13</tspan></text><text x="101.5" y="306" text-anchor="middle" fill="#111" font-size="6.6" stroke="#fff" stroke-width="1.4" paint-order="stroke">S</text><text x="117.3" y="292.7" text-anchor="middle" fill="#111" font-size="6.6" stroke="#fff" stroke-width="1.4" paint-order="stroke">S</text><text x="121.8" y="315.7" text-anchor="middle" fill="#111" font-size="6.7" stroke="#fff" stroke-width="1.4" paint-order="stroke">O</text><text x="140.5" y="293.9" text-anchor="middle" fill="#111" font-size="6.7" stroke="#fff" stroke-width="1.4" paint-order="stroke">NC</text><text x="157" y="303.6" text-anchor="middle" fill="#111" font-size="6.7" stroke="#fff" stroke-width="1.4" paint-order="stroke">CN</text>
<path d="M71.1 340.7L89.3 340.7" stroke="#1818c8" stroke-width="0.8" stroke-dasharray="1.4 1" fill="none"/><path d="M91.6 340.7L87.8 342.4L87.8 339ZM68.8 340.7L72.6 342.4L72.6 339Z" fill="#1818c8"/><circle cx="80.2" cy="340.7" r="3" fill="#12a651"/>
<text x="81.6" y="361.9" text-anchor="middle" font-size="9.7">ITIC</text>
<path d="M188.12 311.6L180.5 316L172.88 311.6L172.88 302.8L180.5 298.4L188.12 302.8ZM186.15 311.35L181.27 314.17M174.08 310.02L174.08 304.38M181.27 300.23L186.15 303.05M180.5 298.4L180.5 293.4M188.12 302.8L191.92 300.6" stroke="#3c3c3c" stroke-width="0.6" fill="none" stroke-linejoin="round" stroke-linecap="round"/><text x="180.4" y="290.4" text-anchor="middle" fill="#111" font-size="7.3" stroke="#fff" stroke-width="1.4" paint-order="stroke">Cl</text><text x="196.3" y="299.4" text-anchor="middle" fill="#111" font-size="7.3" stroke="#fff" stroke-width="1.4" paint-order="stroke">Cl</text><circle cx="180.3" cy="332.3" r="4.2" fill="#fff" stroke="#1818c8" stroke-width="1.2"/>
<text x="176.2" y="362.1" text-anchor="middle" font-size="9.7">Solvent</text>
<defs>
<clipPath id="cliph1"><rect x="41.9" y="405.8" width="146.7" height="105.9"/></clipPath>
<clipPath id="cliph2"><rect x="41.9" y="511.7" width="146.7" height="108"/></clipPath>
<clipPath id="cliph3"><rect x="41.9" y="619.7" width="146.7" height="104.8"/></clipPath>
<filter id="h1" x="0" y="0" width="1" height="1" color-interpolation-filters="sRGB"><feGaussianBlur in="SourceGraphic" stdDeviation="0.7" result="g"/><feTurbulence type="fractalNoise" baseFrequency="0.85" numOctaves="2" seed="3" result="t"/><feComponentTransfer in="t" result="t2"><feFuncR type="table" tableValues="0.25 0.275 0.3 0.325 0.35 0.375 0.4 0.425 0.45 0.475 0.5 0.525 0.55 0.575 0.7 0.85 1 1 1 1 1"/><feFuncG type="table" tableValues="0.25 0.275 0.3 0.325 0.35 0.375 0.4 0.425 0.45 0.475 0.5 0.525 0.55 0.575 0.7 0.85 1 1 1 1 1"/><feFuncB type="table" tableValues="0.25 0.275 0.3 0.325 0.35 0.375 0.4 0.425 0.45 0.475 0.5 0.525 0.55 0.575 0.7 0.85 1 1 1 1 1"/><feFuncA type="table" tableValues="0.25 0.275 0.3 0.325 0.35 0.375 0.4 0.425 0.45 0.475 0.5 0.525 0.55 0.575 0.7 0.85 1 1 1 1 1"/></feComponentTransfer><feColorMatrix in="t2" type="matrix" values="1 0 0 0 0 1 0 0 0 0 1 0 0 0 0 0 0 0 0 1" result="nR"/><feComposite in="g" in2="nR" operator="arithmetic" k1="-1.44" k2="1.720" k3="1.44" k4="-0.720"/><feComponentTransfer result="cR"><feFuncR type="discrete" tableValues="0.97 0.97 0.63 0.65 0.08 0 0.06 0 0.39 0.78"/><feFuncG type="discrete" tableValues="0.93 0.93 0.11 0.07 0.51 0.55 0.1 0 0.39 0.78"/><feFuncB type="discrete" tableValues="0.12 0.12 0.13 0.13 0.2 0.18 0.67 0.59 0.47 0.8"/></feComponentTransfer><feColorMatrix in="t2" type="matrix" values="0 1 0 0 0 0 1 0 0 0 0 1 0 0 0 0 0 0 0 1" result="nG"/><feComposite in="g" in2="nG" operator="arithmetic" k1="-1.44" k2="1.720" k3="1.44" k4="-0.720"/><feComponentTransfer result="cG"><feFuncR type="discrete" tableValues="0.97 0.97 0.63 0.65 0.08 0 0.06 0 0.39 0.78"/><feFuncG type="discrete" tableValues="0.93 0.93 0.11 0.07 0.51 0.55 0.1 0 0.39 0.78"/><feFuncB type="discrete" tableValues="0.12 0.12 0.13 0.13 0.2 0.18 0.67 0.59 0.47 0.8"/></feComponentTransfer><feColorMatrix in="t2" type="matrix" values="0 0 1 0 0 0 0 1 0 0 0 0 1 0 0 0 0 0 0 1" result="nB"/><feComposite in="g" in2="nB" operator="arithmetic" k1="-1.44" k2="1.720" k3="1.44" k4="-0.720"/><feComponentTransfer result="cB"><feFuncR type="discrete" tableValues="0.97 0.97 0.63 0.65 0.08 0 0.06 0 0.39 0.78"/><feFuncG type="discrete" tableValues="0.93 0.93 0.11 0.07 0.51 0.55 0.1 0 0.39 0.78"/><feFuncB type="discrete" tableValues="0.12 0.12 0.13 0.13 0.2 0.18 0.67 0.59 0.47 0.8"/></feComponentTransfer><feColorMatrix in="t2" type="matrix" values="0 0 0 1 0 0 0 0 1 0 0 0 0 1 0 0 0 0 0 1" result="nA"/><feComposite in="g" in2="nA" operator="arithmetic" k1="-1.44" k2="1.720" k3="1.44" k4="-0.720"/><feComponentTransfer result="cA"><feFuncR type="discrete" tableValues="0.97 0.97 0.63 0.65 0.08 0 0.06 0 0.39 0.78"/><feFuncG type="discrete" tableValues="0.93 0.93 0.11 0.07 0.51 0.55 0.1 0 0.39 0.78"/><feFuncB type="discrete" tableValues="0.12 0.12 0.13 0.13 0.2 0.18 0.67 0.59 0.47 0.8"/></feComponentTransfer><feComposite in="cR" in2="cG" operator="arithmetic" k2="0.5" k3="0.5" result="m1"/><feComposite in="cB" in2="cA" operator="arithmetic" k2="0.5" k3="0.5" result="m2"/><feComposite in="m1" in2="m2" operator="arithmetic" k2="0.5" k3="0.5"/></filter>
<filter id="h2" x="0" y="0" width="1" height="1" color-interpolation-filters="sRGB"><feGaussianBlur in="SourceGraphic" stdDeviation="0.7" result="g"/><feTurbulence type="fractalNoise" baseFrequency="0.85" numOctaves="2" seed="8" result="t"/><feColorMatrix in="t" type="matrix" values="1 0 0 0 0 1 0 0 0 0 1 0 0 0 0 0 0 0 0 1" result="nR"/><feComposite in="g" in2="nR" operator="arithmetic" k1="-0.43" k2="1.215" k3="0.43" k4="-0.215"/><feComponentTransfer result="cR"><feFuncR type="discrete" tableValues="1 0.78 0.75 0.8 0.04 0 0.06 0 0.39 0.8"/><feFuncG type="discrete" tableValues="0.98 0.75 0.04 0 0.59 0.63 0.1 0 0.39 0.8"/><feFuncB type="discrete" tableValues="0.04 0.74 0.16 0.16 0.2 0.2 0.78 0.67 0.49 0.82"/></feComponentTransfer><feColorMatrix in="t" type="matrix" values="0 1 0 0 0 0 1 0 0 0 0 1 0 0 0 0 0 0 0 1" result="nG"/><feComposite in="g" in2="nG" operator="arithmetic" k1="-0.43" k2="1.215" k3="0.43" k4="-0.215"/><feComponentTransfer result="cG"><feFuncR type="discrete" tableValues="1 0.78 0.75 0.8 0.04 0 0.06 0 0.39 0.8"/><feFuncG type="discrete" tableValues="0.98 0.75 0.04 0 0.59 0.63 0.1 0 0.39 0.8"/><feFuncB type="discrete" tableValues="0.04 0.74 0.16 0.16 0.2 0.2 0.78 0.67 0.49 0.82"/></feComponentTransfer><feColorMatrix in="t" type="matrix" values="0 0 1 0 0 0 0 1 0 0 0 0 1 0 0 0 0 0 0 1" result="nB"/><feComposite in="g" in2="nB" operator="arithmetic" k1="-0.43" k2="1.215" k3="0.43" k4="-0.215"/><feComponentTransfer result="cB"><feFuncR type="discrete" tableValues="1 0.78 0.75 0.8 0.04 0 0.06 0 0.39 0.8"/><feFuncG type="discrete" tableValues="0.98 0.75 0.04 0 0.59 0.63 0.1 0 0.39 0.8"/><feFuncB type="discrete" tableValues="0.04 0.74 0.16 0.16 0.2 0.2 0.78 0.67 0.49 0.82"/></feComponentTransfer><feColorMatrix in="t" type="matrix" values="0 0 0 1 0 0 0 0 1 0 0 0 0 1 0 0 0 0 0 1" result="nA"/><feComposite in="g" in2="nA" operator="arithmetic" k1="-0.43" k2="1.215" k3="0.43" k4="-0.215"/><feComponentTransfer result="cA"><feFuncR type="discrete" tableValues="1 0.78 0.75 0.8 0.04 0 0.06 0 0.39 0.8"/><feFuncG type="discrete" tableValues="0.98 0.75 0.04 0 0.59 0.63 0.1 0 0.39 0.8"/><feFuncB type="discrete" tableValues="0.04 0.74 0.16 0.16 0.2 0.2 0.78 0.67 0.49 0.82"/></feComponentTransfer><feComposite in="cR" in2="cG" operator="arithmetic" k2="0.5" k3="0.5" result="m1"/><feComposite in="cB" in2="cA" operator="arithmetic" k2="0.5" k3="0.5" result="m2"/><feComposite in="m1" in2="m2" operator="arithmetic" k2="0.5" k3="0.5"/></filter>
<filter id="h3" x="0" y="0" width="1" height="1" color-interpolation-filters="sRGB"><feGaussianBlur in="SourceGraphic" stdDeviation="0.7" result="g"/><feTurbulence type="fractalNoise" baseFrequency="0.85" numOctaves="2" seed="15" result="t"/><feComponentTransfer in="t" result="t2"><feFuncR type="table" tableValues="0.25 0.275 0.3 0.325 0.35 0.375 0.4 0.425 0.45 0.475 0.5 0.525 0.55 0.575 0.7 0.85 1 1 1 1 1"/><feFuncG type="table" tableValues="0.25 0.275 0.3 0.325 0.35 0.375 0.4 0.425 0.45 0.475 0.5 0.525 0.55 0.575 0.7 0.85 1 1 1 1 1"/><feFuncB type="table" tableValues="0.25 0.275 0.3 0.325 0.35 0.375 0.4 0.425 0.45 0.475 0.5 0.525 0.55 0.575 0.7 0.85 1 1 1 1 1"/><feFuncA type="table" tableValues="0.25 0.275 0.3 0.325 0.35 0.375 0.4 0.425 0.45 0.475 0.5 0.525 0.55 0.575 0.7 0.85 1 1 1 1 1"/></feComponentTransfer><feColorMatrix in="t2" type="matrix" values="1 0 0 0 0 1 0 0 0 0 1 0 0 0 0 0 0 0 0 1" result="nR"/><feComposite in="g" in2="nR" operator="arithmetic" k1="-1.56" k2="1.780" k3="1.56" k4="-0.780"/><feComponentTransfer result="cR"><feFuncR type="discrete" tableValues="0.97 0.97 0.63 0.65 0.08 0 0.06 0 0.39 0.78"/><feFuncG type="discrete" tableValues="0.93 0.93 0.11 0.07 0.51 0.55 0.1 0 0.39 0.78"/><feFuncB type="discrete" tableValues="0.12 0.12 0.13 0.13 0.2 0.18 0.67 0.59 0.47 0.8"/></feComponentTransfer><feColorMatrix in="t2" type="matrix" values="0 1 0 0 0 0 1 0 0 0 0 1 0 0 0 0 0 0 0 1" result="nG"/><feComposite in="g" in2="nG" operator="arithmetic" k1="-1.56" k2="1.780" k3="1.56" k4="-0.780"/><feComponentTransfer result="cG"><feFuncR type="discrete" tableValues="0.97 0.97 0.63 0.65 0.08 0 0.06 0 0.39 0.78"/><feFuncG type="discrete" tableValues="0.93 0.93 0.11 0.07 0.51 0.55 0.1 0 0.39 0.78"/><feFuncB type="discrete" tableValues="0.12 0.12 0.13 0.13 0.2 0.18 0.67 0.59 0.47 0.8"/></feComponentTransfer><feColorMatrix in="t2" type="matrix" values="0 0 1 0 0 0 0 1 0 0 0 0 1 0 0 0 0 0 0 1" result="nB"/><feComposite in="g" in2="nB" operator="arithmetic" k1="-1.56" k2="1.780" k3="1.56" k4="-0.780"/><feComponentTransfer result="cB"><feFuncR type="discrete" tableValues="0.97 0.97 0.63 0.65 0.08 0 0.06 0 0.39 0.78"/><feFuncG type="discrete" tableValues="0.93 0.93 0.11 0.07 0.51 0.55 0.1 0 0.39 0.78"/><feFuncB type="discrete" tableValues="0.12 0.12 0.13 0.13 0.2 0.18 0.67 0.59 0.47 0.8"/></feComponentTransfer><feColorMatrix in="t2" type="matrix" values="0 0 0 1 0 0 0 0 1 0 0 0 0 1 0 0 0 0 0 1" result="nA"/><feComposite in="g" in2="nA" operator="arithmetic" k1="-1.56" k2="1.780" k3="1.56" k4="-0.780"/><feComponentTransfer result="cA"><feFuncR type="discrete" tableValues="0.97 0.97 0.63 0.65 0.08 0 0.06 0 0.39 0.78"/><feFuncG type="discrete" tableValues="0.93 0.93 0.11 0.07 0.51 0.55 0.1 0 0.39 0.78"/><feFuncB type="discrete" tableValues="0.12 0.12 0.13 0.13 0.2 0.18 0.67 0.59 0.47 0.8"/></feComponentTransfer><feComposite in="cR" in2="cG" operator="arithmetic" k2="0.5" k3="0.5" result="m1"/><feComposite in="cB" in2="cA" operator="arithmetic" k2="0.5" k3="0.5" result="m2"/><feComposite in="m1" in2="m2" operator="arithmetic" k2="0.5" k3="0.5"/></filter>
</defs>
<g clip-path="url(#cliph1)"><g filter="url(#h1)"><rect x="37.9" y="401.8" width="154.7" height="113.9" fill="#191919"/><path d="M37.9 509.5L37.9 401.8L40.4 401.8L42.9 401.8L45.4 401.8L47.9 401.8L50.4 401.8L52.9 401.8L55.4 401.8L57.9 401.8L60.4 401.8L62.9 401.8L65.4 401.8L67.9 401.8L70.4 401.8L72.9 401.8L75.4 401.8L77.9 401.8L80.4 401.8L82.9 401.8L85.4 401.8L87.9 401.8L90.4 401.8L92.9 401.8L95.4 401.8L97.9 401.8L100.4 401.8L102.9 401.8L105.4 401.8L107.9 401.8L110.4 401.8L112.9 401.8L115.4 401.8L117.9 401.8L120.4 401.8L122.9 401.8L125.4 401.8L127.9 401.8L130.4 401.8L132.9 401.8L135.4 401.8L137.9 401.8L140.4 401.8L142.9 401.8L145.4 401.8L147.9 401.8L150.4 401.8L152.9 401.8L155.4 401.8L157.9 401.8L160.4 401.8L162.9 401.8L165.4 401.8L167.9 401.8L170.4 401.8L172.9 401.8L175.4 401.8L177.9 401.8L180.4 407.6L182.9 415L185.4 422.5L187.9 429L190.4 433.8L190.4 509.5Z" fill="#1b1b1b"/><path d="M37.9 509.5L37.9 428L40.4 426.3L42.9 423.9L45.4 421.3L47.9 418.6L50.4 416L52.9 413.5L55.4 411.1L57.9 408.9L60.4 407L62.9 405.3L65.4 403.8L67.9 402.4L70.4 401.8L72.9 401.8L75.4 401.8L77.9 401.8L80.4 401.8L82.9 401.8L85.4 401.8L87.9 401.8L90.4 401.8L92.9 401.8L95.4 401.8L97.9 401.8L100.4 401.8L102.9 401.8L105.4 401.8L107.9 401.8L110.4 401.8L112.9 401.8L115.4 401.8L117.9 401.8L120.4 401.8L122.9 401.8L125.4 401.8L127.9 401.8L130.4 401.8L132.9 402.8L135.4 403.9L137.9 404.9L140.4 406L142.9 407.1L145.4 408.2L147.9 409.4L150.4 410.7L152.9 412.2L155.4 414L157.9 415.9L160.4 417.9L162.9 420L165.4 422.2L167.9 424.7L170.4 427.4L172.9 430.6L175.4 434.4L177.9 439.5L180.4 446.1L182.9 453.4L185.4 460.9L187.9 467.4L190.4 472.3L190.4 509.5Z" fill="#1c1c1c"/><path d="M37.9 509.5L37.9 445.2L40.4 443.5L42.9 441.2L45.4 438.5L47.9 435.8L50.4 433.2L52.9 430.7L55.4 428.3L57.9 426.1L60.4 424.2L62.9 422.6L65.4 421.1L67.9 419.6L70.4 418.2L72.9 416.9L75.4 415.8L77.9 414.8L80.4 413.9L82.9 412.9L85.4 412L87.9 411.2L90.4 410.5L92.9 410L95.4 409.7L97.9 409.6L100.4 409.6L102.9 409.9L105.4 410.3L107.9 410.8L110.4 411.3L112.9 411.9L115.4 412.7L117.9 413.6L120.4 414.6L122.9 415.6L125.4 416.7L127.9 417.8L130.4 418.9L132.9 420L135.4 421.1L137.9 422.2L140.4 423.3L142.9 424.4L145.4 425.4L147.9 426.6L150.4 427.9L152.9 429.4L155.4 431.2L157.9 433.1L160.4 435.1L162.9 437.2L165.4 439.4L167.9 441.9L170.4 444.7L172.9 447.8L175.4 451.7L177.9 456.8L180.4 463.3L182.9 470.6L185.4 478.1L187.9 484.6L190.4 489.5L190.4 509.5Z" fill="#1e1e1e"/><path d="M37.9 509.5L37.9 455.7L40.4 454L42.9 451.7L45.4 449.1L47.9 446.4L50.4 443.8L52.9 441.3L55.4 438.8L57.9 436.6L60.4 434.8L62.9 433.1L65.4 431.6L67.9 430.2L70.4 428.8L72.9 427.5L75.4 426.4L77.9 425.4L80.4 424.4L82.9 423.5L85.4 422.6L87.9 421.7L90.4 421.1L92.9 420.6L95.4 420.3L97.9 420.2L100.4 420.2L102.9 420.5L105.4 420.9L107.9 421.4L110.4 421.9L112.9 422.5L115.4 423.2L117.9 424.1L120.4 425.1L122.9 426.2L125.4 427.3L127.9 428.4L130.4 429.4L132.9 430.5L135.4 431.6L137.9 432.7L140.4 433.8L142.9 434.9L145.4 436L147.9 437.2L150.4 438.4L152.9 440L155.4 441.7L157.9 443.7L160.4 445.7L162.9 447.7L165.4 450L167.9 452.5L170.4 455.2L172.9 458.3L175.4 462.2L177.9 467.3L180.4 473.8L182.9 481.1L185.4 488.7L187.9 495.2L190.4 500L190.4 509.5Z" fill="#1f1f1f"/><path d="M37.9 509.5L37.9 464L40.4 462.3L42.9 460L45.4 457.3L47.9 454.7L50.4 452.1L52.9 449.6L55.4 447.1L57.9 444.9L60.4 443L62.9 441.4L65.4 439.9L67.9 438.4L70.4 437L72.9 435.8L75.4 434.7L77.9 433.7L80.4 432.7L82.9 431.8L85.4 430.9L87.9 430L90.4 429.3L92.9 428.9L95.4 428.6L97.9 428.4L100.4 428.5L102.9 428.8L105.4 429.2L107.9 429.7L110.4 430.2L112.9 430.8L115.4 431.5L117.9 432.4L120.4 433.4L122.9 434.5L125.4 435.6L127.9 436.6L130.4 437.7L132.9 438.8L135.4 439.9L137.9 441L140.4 442.1L142.9 443.2L145.4 444.3L147.9 445.4L150.4 446.7L152.9 448.2L155.4 450L157.9 452L160.4 454L162.9 456L165.4 458.2L167.9 460.7L170.4 463.5L172.9 466.6L175.4 470.5L177.9 475.6L180.4 482.1L182.9 489.4L185.4 496.9L187.9 503.5L190.4 508.3L190.4 509.5Z" fill="#212121"/><path d="M37.9 509.5L37.9 472.4L40.4 470.7L42.9 468.4L45.4 465.7L47.9 463.1L50.4 460.5L52.9 458L55.4 455.5L57.9 453.3L60.4 451.4L62.9 449.8L65.4 448.3L67.9 446.8L70.4 445.4L72.9 444.2L75.4 443.1L77.9 442.1L80.4 441.1L82.9 440.2L85.4 439.3L87.9 438.4L90.4 437.7L92.9 437.3L95.4 437L97.9 436.8L100.4 436.9L102.9 437.2L105.4 437.6L107.9 438.1L110.4 438.6L112.9 439.2L115.4 439.9L117.9 440.8L120.4 441.8L122.9 442.9L125.4 444L127.9 445L130.4 446.1L132.9 447.2L135.4 448.3L137.9 449.4L140.4 450.5L142.9 451.6L145.4 452.7L147.9 453.8L150.4 455.1L152.9 456.7L155.4 458.4L157.9 460.4L160.4 462.4L162.9 464.4L165.4 466.7L167.9 469.1L170.4 471.9L172.9 475L175.4 478.9L177.9 484L180.4 490.5L182.9 497.8L185.4 505.4L187.9 509.5L187.9 509.5Z" fill="#222222"/><path d="M37.9 509.5L37.9 475.8L40.4 474.1L42.9 471.8L45.4 469.2L47.9 466.5L50.4 463.9L52.9 461.4L55.4 459L57.9 456.7L60.4 454.9L62.9 453.2L65.4 451.7L67.9 450.3L70.4 448.9L72.9 447.6L75.4 446.5L77.9 445.5L80.4 444.6L82.9 443.6L85.4 442.7L87.9 441.8L90.4 441.2L92.9 440.7L95.4 440.4L97.9 440.3L100.4 440.3L102.9 440.6L105.4 441L107.9 441.5L110.4 442L112.9 442.6L115.4 443.3L117.9 444.2L120.4 445.2L122.9 446.3L125.4 447.4L127.9 448.5L130.4 449.6L132.9 450.6L135.4 451.7L137.9 452.8L140.4 453.9L142.9 455L145.4 456.1L147.9 457.3L150.4 458.5L152.9 460.1L155.4 461.9L157.9 463.8L160.4 465.8L162.9 467.8L165.4 470.1L167.9 472.6L170.4 475.3L172.9 478.4L175.4 482.3L177.9 487.4L180.4 493.9L182.9 501.2L185.4 508.8L187.9 509.5L187.9 509.5Z" fill="#242424"/><path d="M37.9 509.5L37.9 478.8L40.4 477.1L42.9 474.7L45.4 472.1L47.9 469.4L50.4 466.8L52.9 464.3L55.4 461.9L57.9 459.7L60.4 457.8L62.9 456.2L65.4 454.7L67.9 453.2L70.4 451.8L72.9 450.5L75.4 449.4L77.9 448.4L80.4 447.5L82.9 446.5L85.4 445.6L87.9 444.8L90.4 444.1L92.9 443.6L95.4 443.3L97.9 443.2L100.4 443.2L102.9 443.5L105.4 443.9L107.9 444.4L110.4 444.9L112.9 445.5L115.4 446.3L117.9 447.2L120.4 448.2L122.9 449.2L125.4 450.3L127.9 451.4L130.4 452.5L132.9 453.6L135.4 454.7L137.9 455.8L140.4 456.9L142.9 458L145.4 459L147.9 460.2L150.4 461.5L152.9 463L155.4 464.8L157.9 466.7L160.4 468.7L162.9 470.8L165.4 473L167.9 475.5L170.4 478.3L172.9 481.4L175.4 485.3L177.9 490.4L180.4 496.9L182.9 504.2L185.4 509.5L185.4 509.5Z" fill="#252525"/><path d="M37.9 509.5L37.9 481.9L40.4 480.2L42.9 477.9L45.4 475.2L47.9 472.6L50.4 470L52.9 467.4L55.4 465L57.9 462.8L60.4 460.9L62.9 459.3L65.4 457.8L67.9 456.3L70.4 454.9L72.9 453.6L75.4 452.5L77.9 451.5L80.4 450.6L82.9 449.7L85.4 448.7L87.9 447.9L90.4 447.2L92.9 446.7L95.4 446.4L97.9 446.3L100.4 446.3L102.9 446.6L105.4 447.1L107.9 447.6L110.4 448.1L112.9 448.6L115.4 449.4L117.9 450.3L120.4 451.3L122.9 452.4L125.4 453.4L127.9 454.5L130.4 455.6L132.9 456.7L135.4 457.8L137.9 458.9L140.4 460L142.9 461.1L145.4 462.2L147.9 463.3L150.4 464.6L152.9 466.1L155.4 467.9L157.9 469.8L160.4 471.8L162.9 473.9L165.4 476.1L167.9 478.6L170.4 481.4L172.9 484.5L175.4 488.4L177.9 493.5L180.4 500L182.9 507.3L185.4 509.5L185.4 509.5Z" fill="#272727"/><path d="M37.9 509.5L37.9 484.8L40.4 483.2L42.9 480.8L45.4 478.2L47.9 475.5L50.4 472.9L52.9 470.4L55.4 468L57.9 465.7L60.4 463.9L62.9 462.2L65.4 460.7L67.9 459.3L70.4 457.9L72.9 456.6L75.4 455.5L77.9 454.5L80.4 453.6L82.9 452.6L85.4 451.7L87.9 450.8L90.4 450.2L92.9 449.7L95.4 449.4L97.9 449.3L100.4 449.3L102.9 449.6L105.4 450L107.9 450.5L110.4 451L112.9 451.6L115.4 452.3L117.9 453.2L120.4 454.2L122.9 455.3L125.4 456.4L127.9 457.5L130.4 458.6L132.9 459.6L135.4 460.7L137.9 461.8L140.4 462.9L142.9 464L145.4 465.1L147.9 466.3L150.4 467.5L152.9 469.1L155.4 470.9L157.9 472.8L160.4 474.8L162.9 476.8L165.4 479.1L167.9 481.6L170.4 484.3L172.9 487.4L175.4 491.3L177.9 496.4L180.4 502.9L182.9 509.5L182.9 509.5Z" fill="#282828"/><path d="M37.9 509.5L37.9 487.9L40.4 486.2L42.9 483.9L45.4 481.2L47.9 478.6L50.4 476L52.9 473.4L55.4 471L57.9 468.8L60.4 466.9L62.9 465.3L65.4 463.8L67.9 462.3L70.4 460.9L72.9 459.6L75.4 458.5L77.9 457.5L80.4 456.6L82.9 455.6L85.4 454.7L87.9 453.9L90.4 453.2L92.9 452.7L95.4 452.4L97.9 452.3L100.4 452.3L102.9 452.6L105.4 453.1L107.9 453.6L110.4 454.1L112.9 454.6L115.4 455.4L117.9 456.3L120.4 457.3L122.9 458.4L125.4 459.4L127.9 460.5L130.4 461.6L132.9 462.7L135.4 463.8L137.9 464.9L140.4 466L142.9 467.1L145.4 468.2L147.9 469.3L150.4 470.6L152.9 472.1L155.4 473.9L157.9 475.8L160.4 477.8L162.9 479.9L165.4 482.1L167.9 484.6L170.4 487.4L172.9 490.5L175.4 494.4L177.9 499.5L180.4 506L182.9 509.5L182.9 509.5Z" fill="#2a2a2a"/><path d="M37.9 509.5L37.9 491.1L40.4 489.4L42.9 487L45.4 484.4L47.9 481.7L50.4 479.1L52.9 476.6L55.4 474.2L57.9 472L60.4 470.1L62.9 468.4L65.4 466.9L67.9 465.5L70.4 464.1L72.9 462.8L75.4 461.7L77.9 460.7L80.4 459.8L82.9 458.8L85.4 457.9L87.9 457L90.4 456.4L92.9 455.9L95.4 455.6L97.9 455.5L100.4 455.5L102.9 455.8L105.4 456.2L107.9 456.7L110.4 457.2L112.9 457.8L115.4 458.5L117.9 459.4L120.4 460.5L122.9 461.5L125.4 462.6L127.9 463.7L130.4 464.8L132.9 465.9L135.4 467L137.9 468L140.4 469.1L142.9 470.2L145.4 471.3L147.9 472.5L150.4 473.8L152.9 475.3L155.4 477.1L157.9 479L160.4 481L162.9 483L165.4 485.3L167.9 487.8L170.4 490.5L172.9 493.6L175.4 497.5L177.9 502.6L180.4 509.1L182.9 509.5L182.9 509.5Z" fill="#2b2b2b"/><path d="M37.9 509.5L37.9 493.6L40.4 491.9L42.9 489.5L45.4 486.9L47.9 484.2L50.4 481.6L52.9 479.1L55.4 476.7L57.9 474.5L60.4 472.6L62.9 470.9L65.4 469.4L67.9 468L70.4 466.6L72.9 465.3L75.4 464.2L77.9 463.2L80.4 462.3L82.9 461.3L85.4 460.4L87.9 459.6L90.4 458.9L92.9 458.4L95.4 458.1L97.9 458L100.4 458L102.9 458.3L105.4 458.7L107.9 459.2L110.4 459.7L112.9 460.3L115.4 461L117.9 461.9L120.4 463L122.9 464L125.4 465.1L127.9 466.2L130.4 467.3L132.9 468.4L135.4 469.5L137.9 470.5L140.4 471.6L142.9 472.7L145.4 473.8L147.9 475L150.4 476.3L152.9 477.8L155.4 479.6L157.9 481.5L160.4 483.5L162.9 485.6L165.4 487.8L167.9 490.3L170.4 493L172.9 496.2L175.4 500L177.9 505.1L180.4 509.5L180.4 509.5Z" fill="#2d2d2d"/><path d="M37.9 509.5L37.9 495.6L40.4 493.9L42.9 491.5L45.4 488.9L47.9 486.2L50.4 483.6L52.9 481.1L55.4 478.7L57.9 476.5L60.4 474.6L62.9 472.9L65.4 471.5L67.9 470L70.4 468.6L72.9 467.3L75.4 466.2L77.9 465.2L80.4 464.3L82.9 463.3L85.4 462.4L87.9 461.6L90.4 460.9L92.9 460.4L95.4 460.1L97.9 460L100.4 460L102.9 460.3L105.4 460.7L107.9 461.2L110.4 461.7L112.9 462.3L115.4 463L117.9 463.9L120.4 465L122.9 466L125.4 467.1L127.9 468.2L130.4 469.3L132.9 470.4L135.4 471.5L137.9 472.6L140.4 473.7L142.9 474.7L145.4 475.8L147.9 477L150.4 478.3L152.9 479.8L155.4 481.6L157.9 483.5L160.4 485.5L162.9 487.6L165.4 489.8L167.9 492.3L170.4 495.1L172.9 498.2L175.4 502L177.9 507.1L180.4 509.5L180.4 509.5Z" fill="#2e2e2e"/><path d="M37.9 509.5L37.9 497.6L40.4 496L42.9 493.6L45.4 491L47.9 488.3L50.4 485.7L52.9 483.2L55.4 480.8L57.9 478.5L60.4 476.7L62.9 475L65.4 473.5L67.9 472.1L70.4 470.7L72.9 469.4L75.4 468.3L77.9 467.3L80.4 466.4L82.9 465.4L85.4 464.5L87.9 463.6L90.4 463L92.9 462.5L95.4 462.2L97.9 462.1L100.4 462.1L102.9 462.4L105.4 462.8L107.9 463.3L110.4 463.8L112.9 464.4L115.4 465.1L117.9 466L120.4 467L122.9 468.1L125.4 469.2L127.9 470.3L130.4 471.4L132.9 472.4L135.4 473.5L137.9 474.6L140.4 475.7L142.9 476.8L145.4 477.9L147.9 479.1L150.4 480.3L152.9 481.9L155.4 483.7L157.9 485.6L160.4 487.6L162.9 489.6L165.4 491.9L167.9 494.4L170.4 497.1L172.9 500.2L175.4 504.1L177.9 509.2L180.4 509.5L180.4 509.5Z" fill="#303030"/><path d="M37.9 509.5L37.9 500L40.4 498.3L42.9 496L45.4 493.3L47.9 490.7L50.4 488.1L52.9 485.6L55.4 483.1L57.9 480.9L60.4 479L62.9 477.4L65.4 475.9L67.9 474.4L70.4 473L72.9 471.8L75.4 470.7L77.9 469.7L80.4 468.7L82.9 467.8L85.4 466.9L87.9 466L90.4 465.3L92.9 464.9L95.4 464.6L97.9 464.4L100.4 464.5L102.9 464.8L105.4 465.2L107.9 465.7L110.4 466.2L112.9 466.8L115.4 467.5L117.9 468.4L120.4 469.4L122.9 470.5L125.4 471.6L127.9 472.6L130.4 473.7L132.9 474.8L135.4 475.9L137.9 477L140.4 478.1L142.9 479.2L145.4 480.3L147.9 481.4L150.4 482.7L152.9 484.2L155.4 486L157.9 488L160.4 490L162.9 492L165.4 494.2L167.9 496.7L170.4 499.5L172.9 502.6L175.4 506.5L177.9 509.5L177.9 509.5Z" fill="#313131"/><path d="M37.9 509.5L37.9 502.4L40.4 500.7L42.9 498.4L45.4 495.7L47.9 493.1L50.4 490.5L52.9 487.9L55.4 485.5L57.9 483.3L60.4 481.4L62.9 479.8L65.4 478.3L67.9 476.8L70.4 475.4L72.9 474.2L75.4 473.1L77.9 472.1L80.4 471.1L82.9 470.2L85.4 469.2L87.9 468.4L90.4 467.7L92.9 467.3L95.4 467L97.9 466.8L100.4 466.9L102.9 467.1L105.4 467.6L107.9 468.1L110.4 468.6L112.9 469.2L115.4 469.9L117.9 470.8L120.4 471.8L122.9 472.9L125.4 474L127.9 475L130.4 476.1L132.9 477.2L135.4 478.3L137.9 479.4L140.4 480.5L142.9 481.6L145.4 482.7L147.9 483.8L150.4 485.1L152.9 486.6L155.4 488.4L157.9 490.4L160.4 492.3L162.9 494.4L165.4 496.6L167.9 499.1L170.4 501.9L172.9 505L175.4 508.9L177.9 509.5L177.9 509.5Z" fill="#333333"/><path d="M37.9 509.5L37.9 504.2L40.4 502.8L42.9 500.8L45.4 498.5L47.9 496L50.4 493.6L52.9 491.2L55.4 488.9L57.9 486.9L60.4 485.1L62.9 483.5L65.4 482L67.9 480.6L70.4 479.2L72.9 478L75.4 476.9L77.9 475.9L80.4 475L82.9 474.1L85.4 473.2L87.9 472.4L90.4 471.8L92.9 471.4L95.4 471.1L97.9 470.9L100.4 471L102.9 471.2L105.4 471.6L107.9 472.1L110.4 472.5L112.9 473.1L115.4 473.7L117.9 474.6L120.4 475.5L122.9 476.6L125.4 477.6L127.9 478.6L130.4 479.6L132.9 480.7L135.4 481.7L137.9 482.8L140.4 483.9L142.9 485L145.4 486.1L147.9 487.2L150.4 488.5L152.9 489.9L155.4 491.6L157.9 493.3L160.4 495.2L162.9 497.1L165.4 499.1L167.9 501.4L170.4 503.8L172.9 506.5L175.4 509.5L175.4 509.5Z" fill="#383838"/><path d="M37.9 509.5L37.9 505.8L40.4 504.6L42.9 502.9L45.4 500.8L47.9 498.6L50.4 496.4L52.9 494.1L55.4 491.9L57.9 490L60.4 488.3L62.9 486.7L65.4 485.3L67.9 483.9L70.4 482.5L72.9 481.3L75.4 480.3L77.9 479.3L80.4 478.4L82.9 477.5L85.4 476.6L87.9 475.9L90.4 475.3L92.9 474.9L95.4 474.6L97.9 474.5L100.4 474.5L102.9 474.8L105.4 475.1L107.9 475.5L110.4 476L112.9 476.5L115.4 477.1L117.9 477.9L120.4 478.8L122.9 479.8L125.4 480.8L127.9 481.7L130.4 482.7L132.9 483.7L135.4 484.7L137.9 485.8L140.4 486.9L142.9 488L145.4 489.1L147.9 490.2L150.4 491.4L152.9 492.8L155.4 494.3L157.9 496L160.4 497.7L162.9 499.4L165.4 501.3L167.9 503.3L170.4 505.5L172.9 507.9L175.4 509.5L175.4 509.5Z" fill="#3d3d3d"/><path d="M37.9 509.5L37.9 507.2L40.4 506.2L42.9 504.7L45.4 502.9L47.9 500.8L50.4 498.7L52.9 496.6L55.4 494.5L57.9 492.7L60.4 491L62.9 489.5L65.4 488.1L67.9 486.7L70.4 485.4L72.9 484.2L75.4 483.2L77.9 482.2L80.4 481.3L82.9 480.4L85.4 479.6L87.9 478.9L90.4 478.4L92.9 478L95.4 477.7L97.9 477.5L100.4 477.6L102.9 477.8L105.4 478.2L107.9 478.5L110.4 478.9L112.9 479.4L115.4 480L117.9 480.8L120.4 481.6L122.9 482.6L125.4 483.5L127.9 484.4L130.4 485.4L132.9 486.3L135.4 487.3L137.9 488.4L140.4 489.5L142.9 490.5L145.4 491.6L147.9 492.7L150.4 493.9L152.9 495.3L155.4 496.7L157.9 498.2L160.4 499.8L162.9 501.4L165.4 503.2L167.9 505L170.4 506.9L172.9 509L175.4 509.5L175.4 509.5Z" fill="#424242"/><path d="M37.9 509.5L37.9 508.4L40.4 507.5L42.9 506.2L45.4 504.6L47.9 502.7L50.4 500.7L52.9 498.6L55.4 496.7L57.9 494.9L60.4 493.3L62.9 491.8L65.4 490.4L67.9 489.1L70.4 487.8L72.9 486.6L75.4 485.6L77.9 484.7L80.4 483.7L82.9 482.9L85.4 482.1L87.9 481.5L90.4 481L92.9 480.6L95.4 480.3L97.9 480.1L100.4 480.2L102.9 480.4L105.4 480.7L107.9 481.1L110.4 481.4L112.9 481.9L115.4 482.4L117.9 483.2L120.4 484L122.9 484.9L125.4 485.8L127.9 486.7L130.4 487.6L132.9 488.5L135.4 489.5L137.9 490.5L140.4 491.6L142.9 492.7L145.4 493.8L147.9 494.9L150.4 496.1L152.9 497.3L155.4 498.7L157.9 500.1L160.4 501.6L162.9 503.1L165.4 504.7L167.9 506.4L170.4 508.2L172.9 509.5L172.9 509.5Z" fill="#474747"/><path d="M37.9 509.5L37.9 509.3L40.4 508.6L42.9 507.5L45.4 506L47.9 504.3L50.4 502.3L52.9 500.3L55.4 498.5L57.9 496.8L60.4 495.2L62.9 493.8L65.4 492.4L67.9 491L70.4 489.7L72.9 488.6L75.4 487.6L77.9 486.7L80.4 485.8L82.9 484.9L85.4 484.1L87.9 483.5L90.4 483.1L92.9 482.7L95.4 482.4L97.9 482.2L100.4 482.3L102.9 482.5L105.4 482.8L107.9 483.1L110.4 483.5L112.9 483.9L115.4 484.4L117.9 485.1L120.4 485.9L122.9 486.8L125.4 487.7L127.9 488.5L130.4 489.4L132.9 490.3L135.4 491.3L137.9 492.3L140.4 493.4L142.9 494.5L145.4 495.6L147.9 496.7L150.4 497.8L152.9 499L155.4 500.3L157.9 501.7L160.4 503.1L162.9 504.5L165.4 506L167.9 507.6L170.4 509.2L172.9 509.5L172.9 509.5Z" fill="#4c4c4c"/><path d="M37.9 509.5L37.9 509.5L40.4 509.4L42.9 508.4L45.4 507.1L47.9 505.5L50.4 503.6L52.9 501.7L55.4 499.8L57.9 498.2L60.4 496.7L62.9 495.3L65.4 493.9L67.9 492.5L70.4 491.3L72.9 490.2L75.4 489.2L77.9 488.3L80.4 487.3L82.9 486.5L85.4 485.7L87.9 485.2L90.4 484.7L92.9 484.4L95.4 484.1L97.9 483.9L100.4 484L102.9 484.2L105.4 484.5L107.9 484.8L110.4 485.1L112.9 485.5L115.4 486L117.9 486.7L120.4 487.5L122.9 488.3L125.4 489.2L127.9 490L130.4 490.9L132.9 491.7L135.4 492.7L137.9 493.7L140.4 494.8L142.9 495.9L145.4 496.9L147.9 498L150.4 499.2L152.9 500.4L155.4 501.6L157.9 502.9L160.4 504.2L162.9 505.6L165.4 507L167.9 508.5L170.4 509.5L170.4 509.5Z" fill="#525252"/><path d="M40.4 509.5L40.4 509.5L42.9 509.2L45.4 507.9L47.9 506.4L50.4 504.5L52.9 502.7L55.4 500.9L57.9 499.3L60.4 497.8L62.9 496.4L65.4 495L67.9 493.7L70.4 492.4L72.9 491.3L75.4 490.4L77.9 489.4L80.4 488.5L82.9 487.7L85.4 486.9L87.9 486.4L90.4 486L92.9 485.6L95.4 485.3L97.9 485.1L100.4 485.2L102.9 485.4L105.4 485.7L107.9 486L110.4 486.3L112.9 486.6L115.4 487.1L117.9 487.8L120.4 488.6L122.9 489.4L125.4 490.3L127.9 491.1L130.4 491.9L132.9 492.8L135.4 493.7L137.9 494.7L140.4 495.8L142.9 496.9L145.4 498L147.9 499.1L150.4 500.2L152.9 501.4L155.4 502.6L157.9 503.8L160.4 505.1L162.9 506.4L165.4 507.8L167.9 509.2L170.4 509.5L170.4 509.5Z" fill="#575757"/><path d="M42.9 509.5L42.9 509.5L45.4 508.5L47.9 507L50.4 505.2L52.9 503.3L55.4 501.6L57.9 500L60.4 498.5L62.9 497.1L65.4 495.7L67.9 494.4L70.4 493.2L72.9 492.1L75.4 491.1L77.9 490.2L80.4 489.3L82.9 488.4L85.4 487.7L87.9 487.2L90.4 486.8L92.9 486.4L95.4 486.1L97.9 486L100.4 486L102.9 486.2L105.4 486.5L107.9 486.8L110.4 487.1L112.9 487.4L115.4 487.9L117.9 488.6L120.4 489.3L122.9 490.2L125.4 491L127.9 491.8L130.4 492.6L132.9 493.5L135.4 494.4L137.9 495.4L140.4 496.5L142.9 497.6L145.4 498.7L147.9 499.8L150.4 500.9L152.9 502L155.4 503.2L157.9 504.4L160.4 505.7L162.9 507L165.4 508.3L167.9 509.5L167.9 509.5Z" fill="#5c5c5c"/><path d="M42.9 509.5L42.9 509.5L45.4 508.8L47.9 507.3L50.4 505.5L52.9 503.7L55.4 501.9L57.9 500.4L60.4 498.9L62.9 497.5L65.4 496.2L67.9 494.8L70.4 493.6L72.9 492.5L75.4 491.6L77.9 490.6L80.4 489.7L82.9 488.9L85.4 488.2L87.9 487.6L90.4 487.2L92.9 486.9L95.4 486.6L97.9 486.4L100.4 486.5L102.9 486.7L105.4 486.9L107.9 487.2L110.4 487.5L112.9 487.9L115.4 488.3L117.9 489L120.4 489.8L122.9 490.6L125.4 491.4L127.9 492.2L130.4 493L132.9 493.9L135.4 494.8L137.9 495.8L140.4 496.9L142.9 497.9L145.4 499L147.9 500.1L150.4 501.2L152.9 502.4L155.4 503.5L157.9 504.7L160.4 506L162.9 507.3L165.4 508.6L167.9 509.5L167.9 509.5Z" fill="#616161"/><path d="M42.9 509.5L42.9 509.5L45.4 508.9L47.9 507.4L50.4 505.6L52.9 503.8L55.4 502L57.9 500.5L60.4 499L62.9 497.7L65.4 496.3L67.9 494.9L70.4 493.7L72.9 492.7L75.4 491.7L77.9 490.8L80.4 489.8L82.9 489L85.4 488.3L87.9 487.7L90.4 487.3L92.9 487L95.4 486.7L97.9 486.5L100.4 486.6L102.9 486.8L105.4 487.1L107.9 487.3L110.4 487.6L112.9 488L115.4 488.5L117.9 489.1L120.4 489.9L122.9 490.7L125.4 491.5L127.9 492.3L130.4 493.1L132.9 494L135.4 494.9L137.9 495.9L140.4 497L142.9 498L145.4 499.1L147.9 500.2L150.4 501.3L152.9 502.5L155.4 503.6L157.9 504.8L160.4 506.1L162.9 507.3L165.4 508.6L167.9 509.5L167.9 509.5Z" fill="#666666"/><path d="M42.9 509.5L42.9 509.5L45.4 509.2L47.9 507.8L50.4 506.2L52.9 504.5L55.4 502.9L57.9 501.4L60.4 500L62.9 498.6L65.4 497.2L67.9 495.9L70.4 494.7L72.9 493.7L75.4 492.7L77.9 491.8L80.4 490.9L82.9 490.1L85.4 489.4L87.9 488.9L90.4 488.5L92.9 488.1L95.4 487.8L97.9 487.6L100.4 487.7L102.9 487.9L105.4 488.2L107.9 488.4L110.4 488.7L112.9 489L115.4 489.5L117.9 490.2L120.4 490.9L122.9 491.7L125.4 492.5L127.9 493.3L130.4 494.1L132.9 494.9L135.4 495.8L137.9 496.8L140.4 497.8L142.9 498.9L145.4 500L147.9 501L150.4 502.1L152.9 503.2L155.4 504.3L157.9 505.5L160.4 506.7L162.9 507.9L165.4 509.1L167.9 509.5L167.9 509.5Z" fill="#6b6b6b"/><path d="M45.4 509.5L45.4 509.5L47.9 508.3L50.4 506.8L52.9 505.2L55.4 503.7L57.9 502.3L60.4 500.9L62.9 499.6L65.4 498.2L67.9 496.9L70.4 495.8L72.9 494.7L75.4 493.8L77.9 492.9L80.4 492L82.9 491.2L85.4 490.5L87.9 490L90.4 489.6L92.9 489.2L95.4 488.9L97.9 488.8L100.4 488.8L102.9 489L105.4 489.3L107.9 489.5L110.4 489.8L112.9 490.1L115.4 490.6L117.9 491.2L120.4 491.9L122.9 492.7L125.4 493.5L127.9 494.3L130.4 495.1L132.9 495.9L135.4 496.7L137.9 497.7L140.4 498.7L142.9 499.7L145.4 500.8L147.9 501.8L150.4 502.9L152.9 503.9L155.4 505L157.9 506.1L160.4 507.3L162.9 508.4L165.4 509.5L165.4 509.5Z" fill="#707070"/><path d="M45.4 509.5L45.4 509.5L47.9 508.8L50.4 507.3L52.9 505.9L55.4 504.5L57.9 503.1L60.4 501.8L62.9 500.5L65.4 499.2L67.9 497.9L70.4 496.8L72.9 495.8L75.4 494.9L77.9 494L80.4 493.1L82.9 492.3L85.4 491.6L87.9 491.1L90.4 490.7L92.9 490.3L95.4 490L97.9 489.9L100.4 489.9L102.9 490.1L105.4 490.3L107.9 490.6L110.4 490.9L112.9 491.2L115.4 491.6L117.9 492.2L120.4 493L122.9 493.7L125.4 494.5L127.9 495.2L130.4 496L132.9 496.8L135.4 497.7L137.9 498.6L140.4 499.6L142.9 500.6L145.4 501.6L147.9 502.6L150.4 503.6L152.9 504.7L155.4 505.7L157.9 506.8L160.4 507.9L162.9 509L165.4 509.5L165.4 509.5Z" fill="#757575"/><path d="M45.4 509.5L45.4 509.5L47.9 509.2L50.4 507.9L52.9 506.6L55.4 505.3L57.9 504L60.4 502.8L62.9 501.5L65.4 500.2L67.9 498.9L70.4 497.8L72.9 496.8L75.4 495.9L77.9 495L80.4 494.2L82.9 493.4L85.4 492.7L87.9 492.2L90.4 491.8L92.9 491.4L95.4 491.2L97.9 491L100.4 491L102.9 491.2L105.4 491.4L107.9 491.7L110.4 491.9L112.9 492.3L115.4 492.7L117.9 493.3L120.4 494L122.9 494.7L125.4 495.5L127.9 496.2L130.4 497L132.9 497.8L135.4 498.6L137.9 499.5L140.4 500.5L142.9 501.4L145.4 502.4L147.9 503.4L150.4 504.4L152.9 505.4L155.4 506.4L157.9 507.4L160.4 508.5L162.9 509.5L162.9 509.5Z" fill="#7a7a7a"/><path d="M47.9 509.5L47.9 509.5L50.4 508.5L52.9 507.3L55.4 506.1L57.9 504.9L60.4 503.7L62.9 502.4L65.4 501.2L67.9 499.9L70.4 498.8L72.9 497.9L75.4 497L77.9 496.1L80.4 495.3L82.9 494.5L85.4 493.8L87.9 493.3L90.4 492.9L92.9 492.6L95.4 492.3L97.9 492.1L100.4 492.1L102.9 492.3L105.4 492.5L107.9 492.8L110.4 493L112.9 493.3L115.4 493.8L117.9 494.3L120.4 495L122.9 495.8L125.4 496.5L127.9 497.2L130.4 497.9L132.9 498.7L135.4 499.5L137.9 500.4L140.4 501.3L142.9 502.3L145.4 503.2L147.9 504.2L150.4 505.2L152.9 506.1L155.4 507.1L157.9 508.1L160.4 509.1L162.9 509.5L162.9 509.5Z" fill="#808080"/><path d="M47.9 509.5L47.9 509.5L50.4 509.1L52.9 508L55.4 506.9L57.9 505.8L60.4 504.6L62.9 503.4L65.4 502.1L67.9 501L70.4 499.9L72.9 498.9L75.4 498L77.9 497.2L80.4 496.4L82.9 495.6L85.4 494.9L87.9 494.4L90.4 494L92.9 493.7L95.4 493.4L97.9 493.2L100.4 493.2L102.9 493.4L105.4 493.6L107.9 493.9L110.4 494.1L112.9 494.4L115.4 494.8L117.9 495.4L120.4 496.1L122.9 496.8L125.4 497.5L127.9 498.2L130.4 498.9L132.9 499.6L135.4 500.4L137.9 501.3L140.4 502.2L142.9 503.1L145.4 504.1L147.9 505L150.4 505.9L152.9 506.9L155.4 507.8L157.9 508.7L160.4 509.5L160.4 509.5Z" fill="#858585"/><path d="M50.4 509.5L50.4 509.5L52.9 508.7L55.4 507.7L57.9 506.7L60.4 505.5L62.9 504.3L65.4 503.1L67.9 502L70.4 500.9L72.9 499.9L75.4 499.1L77.9 498.3L80.4 497.4L82.9 496.7L85.4 496L87.9 495.6L90.4 495.1L92.9 494.8L95.4 494.5L97.9 494.3L100.4 494.4L102.9 494.5L105.4 494.7L107.9 495L110.4 495.2L112.9 495.5L115.4 495.9L117.9 496.4L120.4 497.1L122.9 497.8L125.4 498.5L127.9 499.2L130.4 499.9L132.9 500.6L135.4 501.4L137.9 502.2L140.4 503.1L142.9 504L145.4 504.9L147.9 505.8L150.4 506.7L152.9 507.6L155.4 508.5L157.9 509.4L160.4 509.5L160.4 509.5Z" fill="#8a8a8a"/><path d="M50.4 509.5L50.4 509.5L52.9 509.4L55.4 508.5L57.9 507.5L60.4 506.5L62.9 505.3L65.4 504.1L67.9 503L70.4 501.9L72.9 501L75.4 500.1L77.9 499.3L80.4 498.5L82.9 497.8L85.4 497.2L87.9 496.7L90.4 496.3L92.9 495.9L95.4 495.6L97.9 495.4L100.4 495.5L102.9 495.6L105.4 495.8L107.9 496L110.4 496.3L112.9 496.6L115.4 497L117.9 497.5L120.4 498.1L122.9 498.8L125.4 499.5L127.9 500.1L130.4 500.8L132.9 501.5L135.4 502.3L137.9 503.1L140.4 503.9L142.9 504.8L145.4 505.7L147.9 506.6L150.4 507.4L152.9 508.3L155.4 509.2L157.9 509.5L157.9 509.5Z" fill="#8f8f8f"/><path d="M52.9 509.5L52.9 509.5L55.4 509.3L57.9 508.4L60.4 507.4L62.9 506.3L65.4 505.1L67.9 504L70.4 502.9L72.9 502L75.4 501.2L77.9 500.4L80.4 499.6L82.9 498.9L85.4 498.3L87.9 497.8L90.4 497.4L92.9 497L95.4 496.7L97.9 496.6L100.4 496.6L102.9 496.7L105.4 496.9L107.9 497.1L110.4 497.4L112.9 497.6L115.4 498L117.9 498.5L120.4 499.2L122.9 499.8L125.4 500.5L127.9 501.1L130.4 501.8L132.9 502.5L135.4 503.2L137.9 504L140.4 504.8L142.9 505.7L145.4 506.5L147.9 507.4L150.4 508.2L152.9 509L155.4 509.5L155.4 509.5Z" fill="#949494"/><path d="M55.4 509.5L55.4 509.5L57.9 509.3L60.4 508.3L62.9 507.2L65.4 506.1L67.9 505L70.4 503.9L72.9 503.1L75.4 502.2L77.9 501.5L80.4 500.7L82.9 500L85.4 499.4L87.9 498.9L90.4 498.5L92.9 498.1L95.4 497.8L97.9 497.7L100.4 497.7L102.9 497.8L105.4 498L107.9 498.2L110.4 498.4L112.9 498.7L115.4 499.1L117.9 499.6L120.4 500.2L122.9 500.8L125.4 501.5L127.9 502.1L130.4 502.7L132.9 503.4L135.4 504.1L137.9 504.9L140.4 505.7L142.9 506.5L145.4 507.3L147.9 508.2L150.4 509L152.9 509.5L152.9 509.5Z" fill="#999999"/><path d="M57.9 509.5L57.9 509.5L60.4 508.7L62.9 507.7L65.4 506.6L67.9 505.5L70.4 504.5L72.9 503.7L75.4 502.9L77.9 502.2L80.4 501.4L82.9 500.7L85.4 500.1L87.9 499.7L90.4 499.3L92.9 499L95.4 498.7L97.9 498.5L100.4 498.5L102.9 498.7L105.4 498.9L107.9 499.1L110.4 499.3L112.9 499.6L115.4 500L117.9 500.5L120.4 501L122.9 501.7L125.4 502.3L127.9 502.9L130.4 503.5L132.9 504.2L135.4 504.9L137.9 505.6L140.4 506.4L142.9 507.2L145.4 507.9L147.9 508.7L150.4 509.5L152.9 509.5L152.9 509.5Z" fill="#9e9e9e"/><path d="M57.9 509.5L57.9 509.5L60.4 509.1L62.9 508.1L65.4 507.1L67.9 506.1L70.4 505.1L72.9 504.3L75.4 503.6L77.9 502.8L80.4 502.1L82.9 501.5L85.4 500.9L87.9 500.5L90.4 500.1L92.9 499.8L95.4 499.5L97.9 499.4L100.4 499.4L102.9 499.5L105.4 499.7L107.9 499.9L110.4 500.2L112.9 500.4L115.4 500.8L117.9 501.3L120.4 501.9L122.9 502.5L125.4 503.1L127.9 503.7L130.4 504.3L132.9 505L135.4 505.6L137.9 506.3L140.4 507.1L142.9 507.8L145.4 508.6L147.9 509.3L150.4 509.5L150.4 509.5Z" fill="#a3a3a3"/><path d="M60.4 509.5L60.4 509.5L62.9 508.6L65.4 507.6L67.9 506.6L70.4 505.7L72.9 505L75.4 504.2L77.9 503.5L80.4 502.9L82.9 502.2L85.4 501.7L87.9 501.3L90.4 500.9L92.9 500.6L95.4 500.4L97.9 500.2L100.4 500.2L102.9 500.4L105.4 500.6L107.9 500.8L110.4 501L112.9 501.3L115.4 501.7L117.9 502.2L120.4 502.8L122.9 503.4L125.4 504L127.9 504.5L130.4 505.1L132.9 505.7L135.4 506.4L137.9 507.1L140.4 507.8L142.9 508.5L145.4 509.2L147.9 509.5L147.9 509.5Z" fill="#a8a8a8"/><path d="M60.4 509.5L60.4 509.5L62.9 509L65.4 508.1L67.9 507.2L70.4 506.3L72.9 505.6L75.4 504.9L77.9 504.2L80.4 503.6L82.9 503L85.4 502.5L87.9 502.1L90.4 501.7L92.9 501.4L95.4 501.2L97.9 501.1L100.4 501.1L102.9 501.2L105.4 501.4L107.9 501.6L110.4 501.9L112.9 502.2L115.4 502.6L117.9 503.1L120.4 503.6L122.9 504.2L125.4 504.8L127.9 505.4L130.4 505.9L132.9 506.5L135.4 507.1L137.9 507.8L140.4 508.4L142.9 509.1L145.4 509.5L145.4 509.5Z" fill="#adadad"/><path d="M60.4 509.5L60.4 509.5L62.9 509.5L65.4 508.6L67.9 507.7L70.4 506.9L72.9 506.2L75.4 505.6L77.9 504.9L80.4 504.3L82.9 503.7L85.4 503.2L87.9 502.8L90.4 502.5L92.9 502.3L95.4 502L97.9 501.9L100.4 502L102.9 502.1L105.4 502.3L107.9 502.5L110.4 502.7L112.9 503.1L115.4 503.5L117.9 504L120.4 504.5L122.9 505.1L125.4 505.6L127.9 506.2L130.4 506.7L132.9 507.3L135.4 507.9L137.9 508.5L140.4 509.1L142.9 509.5L142.9 509.5Z" fill="#b2b2b2"/><path d="M62.9 509.5L62.9 509.5L65.4 509.1L67.9 508.3L70.4 507.5L72.9 506.8L75.4 506.2L77.9 505.6L80.4 505L82.9 504.5L85.4 504L87.9 503.6L90.4 503.3L92.9 503.1L95.4 502.9L97.9 502.8L100.4 502.8L102.9 503L105.4 503.1L107.9 503.4L110.4 503.6L112.9 503.9L115.4 504.3L117.9 504.8L120.4 505.4L122.9 505.9L125.4 506.4L127.9 507L130.4 507.5L132.9 508.1L135.4 508.6L137.9 509.2L140.4 509.5L140.4 509.5Z" fill="#b8b8b8"/><path d="M65.4 509.5L65.4 509.5L67.9 508.9L70.4 508.1L72.9 507.5L75.4 506.9L77.9 506.3L80.4 505.7L82.9 505.2L85.4 504.8L87.9 504.4L90.4 504.2L92.9 503.9L95.4 503.7L97.9 503.6L100.4 503.7L102.9 503.8L105.4 504L107.9 504.2L110.4 504.5L112.9 504.8L115.4 505.2L117.9 505.7L120.4 506.2L122.9 506.7L125.4 507.3L127.9 507.8L130.4 508.3L132.9 508.8L135.4 509.4L137.9 509.5L137.9 509.5Z" fill="#bdbdbd"/><path d="M65.4 509.5L65.4 509.5L67.9 509.4L70.4 508.7L72.9 508.1L75.4 507.5L77.9 507L80.4 506.5L82.9 506L85.4 505.5L87.9 505.2L90.4 505L92.9 504.7L95.4 504.6L97.9 504.5L100.4 504.5L102.9 504.7L105.4 504.9L107.9 505.1L110.4 505.3L112.9 505.7L115.4 506.1L117.9 506.6L120.4 507.1L122.9 507.6L125.4 508.1L127.9 508.6L130.4 509.1L132.9 509.5L132.9 509.5Z" fill="#c2c2c2"/><path d="M67.9 509.5L67.9 509.5L70.4 509.3L72.9 508.7L75.4 508.2L77.9 507.7L80.4 507.2L82.9 506.7L85.4 506.3L87.9 506L90.4 505.8L92.9 505.6L95.4 505.4L97.9 505.3L100.4 505.4L102.9 505.5L105.4 505.7L107.9 505.9L110.4 506.2L112.9 506.5L115.4 507L117.9 507.5L120.4 507.9L122.9 508.4L125.4 508.9L127.9 509.4L130.4 509.5L130.4 509.5Z" fill="#c7c7c7"/><path d="M70.4 509.5L70.4 509.5L72.9 509.4L75.4 508.9L77.9 508.4L80.4 507.9L82.9 507.5L85.4 507.1L87.9 506.8L90.4 506.6L92.9 506.4L95.4 506.2L97.9 506.2L100.4 506.2L102.9 506.4L105.4 506.6L107.9 506.8L110.4 507.1L112.9 507.4L115.4 507.9L117.9 508.3L120.4 508.8L122.9 509.3L125.4 509.5L125.4 509.5Z" fill="#cccccc"/><path d="M72.9 509.5L72.9 509.5L75.4 509.5L77.9 509L80.4 508.5L82.9 508.1L85.4 507.7L87.9 507.4L90.4 507.2L92.9 507L95.4 506.8L97.9 506.8L100.4 506.8L102.9 507L105.4 507.2L107.9 507.4L110.4 507.7L112.9 508L115.4 508.5L117.9 508.9L120.4 509.4L122.9 509.5L122.9 509.5Z" fill="#d1d1d1"/><path d="M77.9 509.5L77.9 509.5L80.4 509.1L82.9 508.7L85.4 508.3L87.9 508L90.4 507.8L92.9 507.6L95.4 507.4L97.9 507.4L100.4 507.4L102.9 507.6L105.4 507.8L107.9 508L110.4 508.3L112.9 508.6L115.4 509.1L117.9 509.5L117.9 509.5Z" fill="#d6d6d6"/><path d="M80.4 509.5L80.4 509.5L82.9 509.3L85.4 508.9L87.9 508.6L90.4 508.4L92.9 508.2L95.4 508L97.9 508L100.4 508L102.9 508.2L105.4 508.4L107.9 508.6L110.4 508.9L112.9 509.2L115.4 509.5L115.4 509.5Z" fill="#dbdbdb"/><path d="M82.9 509.5L82.9 509.5L85.4 509.5L87.9 509.2L90.4 509L92.9 508.8L95.4 508.6L97.9 508.6L100.4 508.6L102.9 508.8L105.4 509L107.9 509.2L110.4 509.5L112.9 509.5L112.9 509.5Z" fill="#e0e0e0"/><path d="M90.4 509.5L90.4 509.5L92.9 509.4L95.4 509.2L97.9 509.2L100.4 509.2L102.9 509.4L105.4 509.5L105.4 509.5Z" fill="#e6e6e6"/><rect x="37.9" y="509.5" width="154.7" height="6.2" fill="#000"/></g></g>
<g clip-path="url(#cliph2)"><g filter="url(#h2)"><rect x="37.9" y="507.7" width="154.7" height="116" fill="#010101"/><path d="M37.9 618.1L37.9 599.3L40.4 598.9L42.9 598.2L45.4 597.5L47.9 596.7L50.4 596L52.9 595.2L55.4 594.5L57.9 593.8L60.4 593L62.9 592.3L65.4 591.6L67.9 590.9L70.4 590.3L72.9 589.6L75.4 588.9L77.9 588.2L80.4 587.4L82.9 586.6L85.4 585.7L87.9 584.8L90.4 583.8L92.9 582.7L95.4 581.6L97.9 580.4L100.4 579.1L102.9 577.6L105.4 576.1L107.9 574.4L110.4 572.8L112.9 571.2L115.4 569.6L117.9 568L120.4 566.5L122.9 564.9L125.4 563.4L127.9 561.8L130.4 560.1L132.9 558.2L135.4 556.3L137.9 554.3L140.4 552.3L142.9 550.4L145.4 548.5L147.9 546.7L150.4 545L152.9 543.4L155.4 542.3L157.9 542.1L160.4 543.5L162.9 546.7L165.4 551.5L167.9 557.4L170.4 563.8L172.9 569.9L175.4 574.7L177.9 577.1L180.4 577L182.9 575.1L185.4 572.8L187.9 571L190.4 569.9L190.4 618.1Z" fill="#020202"/><path d="M37.9 618.1L37.9 600.9L40.4 600.4L42.9 599.8L45.4 599L47.9 598.3L50.4 597.6L52.9 596.8L55.4 596.1L57.9 595.3L60.4 594.6L62.9 593.9L65.4 593.2L67.9 592.5L70.4 591.9L72.9 591.2L75.4 590.5L77.9 589.7L80.4 589L82.9 588.2L85.4 587.3L87.9 586.4L90.4 585.3L92.9 584.3L95.4 583.2L97.9 582L100.4 580.7L102.9 579.2L105.4 577.6L107.9 576L110.4 574.4L112.9 572.8L115.4 571.2L117.9 569.6L120.4 568.1L122.9 566.5L125.4 565L127.9 563.3L130.4 561.6L132.9 559.8L135.4 557.8L137.9 555.9L140.4 553.9L142.9 552L145.4 550.1L147.9 548.3L150.4 546.6L152.9 545L155.4 543.9L157.9 543.6L160.4 545L162.9 548.3L165.4 553.1L167.9 559L170.4 565.4L172.9 571.4L175.4 576.3L177.9 578.6L180.4 578.6L182.9 576.7L185.4 574.4L187.9 572.5L190.4 571.5L190.4 618.1Z" fill="#040404"/><path d="M37.9 618.1L37.9 602.8L40.4 602.3L42.9 601.7L45.4 601L47.9 600.2L50.4 599.5L52.9 598.7L55.4 598L57.9 597.2L60.4 596.5L62.9 595.8L65.4 595.1L67.9 594.4L70.4 593.8L72.9 593.1L75.4 592.4L77.9 591.7L80.4 590.9L82.9 590.1L85.4 589.2L87.9 588.3L90.4 587.2L92.9 586.2L95.4 585.1L97.9 583.9L100.4 582.6L102.9 581.1L105.4 579.6L107.9 577.9L110.4 576.3L112.9 574.7L115.4 573.1L117.9 571.5L120.4 570L122.9 568.4L125.4 566.9L127.9 565.3L130.4 563.5L132.9 561.7L135.4 559.7L137.9 557.8L140.4 555.8L142.9 553.9L145.4 552L147.9 550.2L150.4 548.5L152.9 546.9L155.4 545.8L157.9 545.6L160.4 546.9L162.9 550.2L165.4 555L167.9 560.9L170.4 567.3L172.9 573.3L175.4 578.2L177.9 580.6L180.4 580.5L182.9 578.6L185.4 576.3L187.9 574.5L190.4 573.4L190.4 618.1Z" fill="#050505"/><path d="M37.9 618.1L37.9 603L40.4 602.6L42.9 601.9L45.4 601.2L47.9 600.4L50.4 599.7L52.9 598.9L55.4 598.2L57.9 597.5L60.4 596.7L62.9 596L65.4 595.3L67.9 594.6L70.4 594L72.9 593.3L75.4 592.6L77.9 591.9L80.4 591.1L82.9 590.3L85.4 589.4L87.9 588.5L90.4 587.5L92.9 586.4L95.4 585.3L97.9 584.1L100.4 582.8L102.9 581.3L105.4 579.8L107.9 578.1L110.4 576.5L112.9 574.9L115.4 573.3L117.9 571.7L120.4 570.2L122.9 568.6L125.4 567.1L127.9 565.5L130.4 563.8L132.9 561.9L135.4 560L137.9 558L140.4 556L142.9 554.1L145.4 552.2L147.9 550.4L150.4 548.7L152.9 547.1L155.4 546L157.9 545.8L160.4 547.2L162.9 550.4L165.4 555.2L167.9 561.1L170.4 567.5L172.9 573.6L175.4 578.4L177.9 580.8L180.4 580.7L182.9 578.8L185.4 576.5L187.9 574.7L190.4 573.6L190.4 618.1Z" fill="#070707"/><path d="M37.9 618.1L37.9 603.4L40.4 602.9L42.9 602.3L45.4 601.5L47.9 600.8L50.4 600.1L52.9 599.3L55.4 598.6L57.9 597.8L60.4 597.1L62.9 596.4L65.4 595.7L67.9 595L70.4 594.4L72.9 593.7L75.4 593L77.9 592.3L80.4 591.5L82.9 590.7L85.4 589.8L87.9 588.9L90.4 587.8L92.9 586.8L95.4 585.7L97.9 584.5L100.4 583.2L102.9 581.7L105.4 580.2L107.9 578.5L110.4 576.9L112.9 575.3L115.4 573.7L117.9 572.1L120.4 570.6L122.9 569L125.4 567.5L127.9 565.9L130.4 564.1L132.9 562.3L135.4 560.3L137.9 558.4L140.4 556.4L142.9 554.5L145.4 552.6L147.9 550.8L150.4 549.1L152.9 547.5L155.4 546.4L157.9 546.1L160.4 547.5L162.9 550.8L165.4 555.6L167.9 561.5L170.4 567.9L172.9 573.9L175.4 578.8L177.9 581.2L180.4 581.1L182.9 579.2L185.4 576.9L187.9 575L190.4 574L190.4 618.1Z" fill="#080808"/><path d="M37.9 618.1L37.9 604.1L40.4 603.6L42.9 603L45.4 602.2L47.9 601.5L50.4 600.7L52.9 600L55.4 599.3L57.9 598.5L60.4 597.8L62.9 597L65.4 596.3L67.9 595.7L70.4 595L72.9 594.4L75.4 593.7L77.9 592.9L80.4 592.1L82.9 591.3L85.4 590.5L87.9 589.5L90.4 588.5L92.9 587.4L95.4 586.3L97.9 585.2L100.4 583.9L102.9 582.4L105.4 580.8L107.9 579.2L110.4 577.6L112.9 576L115.4 574.4L117.9 572.8L120.4 571.2L122.9 569.7L125.4 568.1L127.9 566.5L130.4 564.8L132.9 563L135.4 561L137.9 559L140.4 557.1L142.9 555.1L145.4 553.3L147.9 551.5L150.4 549.8L152.9 548.2L155.4 547L157.9 546.8L160.4 548.2L162.9 551.4L165.4 556.3L167.9 562.2L170.4 568.6L172.9 574.6L175.4 579.4L177.9 581.8L180.4 581.8L182.9 579.8L185.4 577.5L187.9 575.7L190.4 574.6L190.4 618.1Z" fill="#0a0a0a"/><path d="M37.9 618.1L37.9 605.2L40.4 604.7L42.9 604.1L45.4 603.4L47.9 602.6L50.4 601.9L52.9 601.1L55.4 600.4L57.9 599.6L60.4 598.9L62.9 598.2L65.4 597.5L67.9 596.8L70.4 596.2L72.9 595.5L75.4 594.8L77.9 594.1L80.4 593.3L82.9 592.5L85.4 591.6L87.9 590.7L90.4 589.6L92.9 588.6L95.4 587.5L97.9 586.3L100.4 585L102.9 583.5L105.4 582L107.9 580.3L110.4 578.7L112.9 577.1L115.4 575.5L117.9 573.9L120.4 572.4L122.9 570.8L125.4 569.3L127.9 567.7L130.4 565.9L132.9 564.1L135.4 562.1L137.9 560.2L140.4 558.2L142.9 556.3L145.4 554.4L147.9 552.6L150.4 550.9L152.9 549.3L155.4 548.2L157.9 548L160.4 549.3L162.9 552.6L165.4 557.4L167.9 563.3L170.4 569.7L172.9 575.7L175.4 580.6L177.9 583L180.4 582.9L182.9 581L185.4 578.7L187.9 576.9L190.4 575.8L190.4 618.1Z" fill="#0b0b0b"/><path d="M37.9 618.1L37.9 606.8L40.4 606.3L42.9 605.7L45.4 604.9L47.9 604.2L50.4 603.5L52.9 602.7L55.4 602L57.9 601.2L60.4 600.5L62.9 599.8L65.4 599.1L67.9 598.4L70.4 597.8L72.9 597.1L75.4 596.4L77.9 595.6L80.4 594.9L82.9 594.1L85.4 593.2L87.9 592.3L90.4 591.2L92.9 590.2L95.4 589.1L97.9 587.9L100.4 586.6L102.9 585.1L105.4 583.5L107.9 581.9L110.4 580.3L112.9 578.7L115.4 577.1L117.9 575.5L120.4 574L122.9 572.4L125.4 570.9L127.9 569.2L130.4 567.5L132.9 565.7L135.4 563.7L137.9 561.8L140.4 559.8L142.9 557.9L145.4 556L147.9 554.2L150.4 552.5L152.9 550.9L155.4 549.8L157.9 549.5L160.4 550.9L162.9 554.2L165.4 559L167.9 564.9L170.4 571.3L172.9 577.3L175.4 582.2L177.9 584.5L180.4 584.5L182.9 582.6L185.4 580.3L187.9 578.4L190.4 577.4L190.4 618.1Z" fill="#0d0d0d"/><path d="M37.9 618.1L37.9 607.1L40.4 606.7L42.9 606L45.4 605.3L47.9 604.5L50.4 603.8L52.9 603.1L55.4 602.3L57.9 601.6L60.4 600.8L62.9 600.1L65.4 599.4L67.9 598.7L70.4 598.1L72.9 597.4L75.4 596.7L77.9 596L80.4 595.2L82.9 594.4L85.4 593.5L87.9 592.6L90.4 591.6L92.9 590.5L95.4 589.4L97.9 588.2L100.4 586.9L102.9 585.5L105.4 583.9L107.9 582.3L110.4 580.6L112.9 579L115.4 577.4L117.9 575.9L120.4 574.3L122.9 572.7L125.4 571.2L127.9 569.6L130.4 567.9L132.9 566L135.4 564.1L137.9 562.1L140.4 560.1L142.9 558.2L145.4 556.3L147.9 554.5L150.4 552.8L152.9 551.2L155.4 550.1L157.9 549.9L160.4 551.3L162.9 554.5L165.4 559.3L167.9 565.2L170.4 571.6L172.9 577.7L175.4 582.5L177.9 584.9L180.4 584.8L182.9 582.9L185.4 580.6L187.9 578.8L190.4 577.7L190.4 618.1Z" fill="#0e0e0e"/><path d="M37.9 618.1L37.9 607.7L40.4 607.2L42.9 606.5L45.4 605.8L47.9 605.1L50.4 604.3L52.9 603.6L55.4 602.8L57.9 602.1L60.4 601.4L62.9 600.6L65.4 599.9L67.9 599.3L70.4 598.6L72.9 597.9L75.4 597.2L77.9 596.5L80.4 595.7L82.9 594.9L85.4 594.1L87.9 593.1L90.4 592.1L92.9 591L95.4 589.9L97.9 588.7L100.4 587.4L102.9 586L105.4 584.4L107.9 582.8L110.4 581.2L112.9 579.5L115.4 578L117.9 576.4L120.4 574.8L122.9 573.3L125.4 571.7L127.9 570.1L130.4 568.4L132.9 566.5L135.4 564.6L137.9 562.6L140.4 560.7L142.9 558.7L145.4 556.9L147.9 555.1L150.4 553.3L152.9 551.8L155.4 550.6L157.9 550.4L160.4 551.8L162.9 555L165.4 559.9L167.9 565.8L170.4 572.2L172.9 578.2L175.4 583L177.9 585.4L180.4 585.3L182.9 583.4L185.4 581.1L187.9 579.3L190.4 578.2L190.4 618.1Z" fill="#101010"/><path d="M37.9 618.1L37.9 608.5L40.4 608L42.9 607.4L45.4 606.6L47.9 605.9L50.4 605.2L52.9 604.4L55.4 603.7L57.9 602.9L60.4 602.2L62.9 601.5L65.4 600.8L67.9 600.1L70.4 599.4L72.9 598.8L75.4 598.1L77.9 597.3L80.4 596.6L82.9 595.8L85.4 594.9L87.9 594L90.4 592.9L92.9 591.9L95.4 590.8L97.9 589.6L100.4 588.3L102.9 586.8L105.4 585.2L107.9 583.6L110.4 582L112.9 580.4L115.4 578.8L117.9 577.2L120.4 575.7L122.9 574.1L125.4 572.6L127.9 570.9L130.4 569.2L132.9 567.4L135.4 565.4L137.9 563.5L140.4 561.5L142.9 559.6L145.4 557.7L147.9 555.9L150.4 554.2L152.9 552.6L155.4 551.4L157.9 551.2L160.4 552.6L162.9 555.8L165.4 560.7L167.9 566.6L170.4 573L172.9 579L175.4 583.8L177.9 586.2L180.4 586.2L182.9 584.3L185.4 582L187.9 580.1L190.4 579.1L190.4 618.1Z" fill="#111111"/><path d="M37.9 618.1L37.9 609.8L40.4 609.3L42.9 608.7L45.4 607.9L47.9 607.2L50.4 606.4L52.9 605.7L55.4 605L57.9 604.2L60.4 603.5L62.9 602.8L65.4 602.1L67.9 601.4L70.4 600.7L72.9 600.1L75.4 599.4L77.9 598.6L80.4 597.8L82.9 597L85.4 596.2L87.9 595.2L90.4 594.2L92.9 593.1L95.4 592L97.9 590.9L100.4 589.6L102.9 588.1L105.4 586.5L107.9 584.9L110.4 583.3L112.9 581.7L115.4 580.1L117.9 578.5L120.4 576.9L122.9 575.4L125.4 573.8L127.9 572.2L130.4 570.5L132.9 568.7L135.4 566.7L137.9 564.7L140.4 562.8L142.9 560.9L145.4 559L147.9 557.2L150.4 555.5L152.9 553.9L155.4 552.7L157.9 552.5L160.4 553.9L162.9 557.1L165.4 562L167.9 567.9L170.4 574.3L172.9 580.3L175.4 585.1L177.9 587.5L180.4 587.5L182.9 585.5L185.4 583.3L187.9 581.4L190.4 580.4L190.4 618.1Z" fill="#131313"/><path d="M37.9 618.1L37.9 610.9L40.4 610.4L42.9 609.8L45.4 609L47.9 608.3L50.4 607.6L52.9 606.8L55.4 606.1L57.9 605.3L60.4 604.6L62.9 603.9L65.4 603.2L67.9 602.5L70.4 601.8L72.9 601.2L75.4 600.5L77.9 599.7L80.4 599L82.9 598.2L85.4 597.3L87.9 596.4L90.4 595.3L92.9 594.3L95.4 593.2L97.9 592L100.4 590.7L102.9 589.2L105.4 587.6L107.9 586L110.4 584.4L112.9 582.8L115.4 581.2L117.9 579.6L120.4 578.1L122.9 576.5L125.4 575L127.9 573.3L130.4 571.6L132.9 569.8L135.4 567.8L137.9 565.9L140.4 563.9L142.9 562L145.4 560.1L147.9 558.3L150.4 556.6L152.9 555L155.4 553.9L157.9 553.6L160.4 555L162.9 558.3L165.4 563.1L167.9 569L170.4 575.4L172.9 581.4L175.4 586.3L177.9 588.6L180.4 588.6L182.9 586.7L185.4 584.4L187.9 582.5L190.4 581.5L190.4 618.1Z" fill="#141414"/><path d="M37.9 618.1L37.9 611.3L40.4 610.8L42.9 610.2L45.4 609.4L47.9 608.7L50.4 608L52.9 607.2L55.4 606.5L57.9 605.7L60.4 605L62.9 604.3L65.4 603.6L67.9 602.9L70.4 602.3L72.9 601.6L75.4 600.9L77.9 600.1L80.4 599.4L82.9 598.6L85.4 597.7L87.9 596.8L90.4 595.7L92.9 594.7L95.4 593.6L97.9 592.4L100.4 591.1L102.9 589.6L105.4 588L107.9 586.4L110.4 584.8L112.9 583.2L115.4 581.6L117.9 580L120.4 578.5L122.9 576.9L125.4 575.4L127.9 573.7L130.4 572L132.9 570.2L135.4 568.2L137.9 566.3L140.4 564.3L142.9 562.4L145.4 560.5L147.9 558.7L150.4 557L152.9 555.4L155.4 554.3L157.9 554L160.4 555.4L162.9 558.7L165.4 563.5L167.9 569.4L170.4 575.8L172.9 581.8L175.4 586.7L177.9 589L180.4 589L182.9 587.1L185.4 584.8L187.9 582.9L190.4 581.9L190.4 618.1Z" fill="#161616"/><path d="M37.9 618.1L37.9 611.9L40.4 611.4L42.9 610.8L45.4 610L47.9 609.3L50.4 608.5L52.9 607.8L55.4 607.1L57.9 606.3L60.4 605.6L62.9 604.9L65.4 604.2L67.9 603.5L70.4 602.8L72.9 602.2L75.4 601.5L77.9 600.7L80.4 600L82.9 599.1L85.4 598.3L87.9 597.4L90.4 596.3L92.9 595.2L95.4 594.1L97.9 593L100.4 591.7L102.9 590.2L105.4 588.6L107.9 587L110.4 585.4L112.9 583.8L115.4 582.2L117.9 580.6L120.4 579L122.9 577.5L125.4 575.9L127.9 574.3L130.4 572.6L132.9 570.8L135.4 568.8L137.9 566.8L140.4 564.9L142.9 563L145.4 561.1L147.9 559.3L150.4 557.6L152.9 556L155.4 554.8L157.9 554.6L160.4 556L162.9 559.2L165.4 564.1L167.9 570L170.4 576.4L172.9 582.4L175.4 587.2L177.9 589.6L180.4 589.6L182.9 587.6L185.4 585.4L187.9 583.5L190.4 582.5L190.4 618.1Z" fill="#171717"/><path d="M37.9 618.1L37.9 612.7L40.4 612.3L42.9 611.6L45.4 610.9L47.9 610.1L50.4 609.4L52.9 608.6L55.4 607.9L57.9 607.2L60.4 606.4L62.9 605.7L65.4 605L67.9 604.3L70.4 603.7L72.9 603L75.4 602.3L77.9 601.6L80.4 600.8L82.9 600L85.4 599.1L87.9 598.2L90.4 597.2L92.9 596.1L95.4 595L97.9 593.8L100.4 592.5L102.9 591L105.4 589.5L107.9 587.8L110.4 586.2L112.9 584.6L115.4 583L117.9 581.4L120.4 579.9L122.9 578.3L125.4 576.8L127.9 575.2L130.4 573.4L132.9 571.6L135.4 569.7L137.9 567.7L140.4 565.7L142.9 563.8L145.4 561.9L147.9 560.1L150.4 558.4L152.9 556.8L155.4 555.7L157.9 555.5L160.4 556.9L162.9 560.1L165.4 564.9L167.9 570.8L170.4 577.2L172.9 583.3L175.4 588.1L177.9 590.5L180.4 590.4L182.9 588.5L185.4 586.2L187.9 584.4L190.4 583.3L190.4 618.1Z" fill="#191919"/><path d="M37.9 618.1L37.9 613.9L40.4 613.4L42.9 612.8L45.4 612L47.9 611.3L50.4 610.5L52.9 609.8L55.4 609.1L57.9 608.3L60.4 607.6L62.9 606.9L65.4 606.2L67.9 605.5L70.4 604.8L72.9 604.2L75.4 603.5L77.9 602.7L80.4 602L82.9 601.2L85.4 600.3L87.9 599.4L90.4 598.3L92.9 597.3L95.4 596.1L97.9 595L100.4 593.7L102.9 592.2L105.4 590.6L107.9 589L110.4 587.4L112.9 585.8L115.4 584.2L117.9 582.6L120.4 581.1L122.9 579.5L125.4 577.9L127.9 576.3L130.4 574.6L132.9 572.8L135.4 570.8L137.9 568.8L140.4 566.9L142.9 565L145.4 563.1L147.9 561.3L150.4 559.6L152.9 558L155.4 556.8L157.9 556.6L160.4 558L162.9 561.2L165.4 566.1L167.9 572L170.4 578.4L172.9 584.4L175.4 589.2L177.9 591.6L180.4 591.6L182.9 589.6L185.4 587.4L187.9 585.5L190.4 584.5L190.4 618.1Z" fill="#1b1b1b"/><path d="M37.9 618.1L37.9 615L40.4 614.5L42.9 613.9L45.4 613.1L47.9 612.4L50.4 611.6L52.9 610.9L55.4 610.2L57.9 609.4L60.4 608.7L62.9 607.9L65.4 607.2L67.9 606.6L70.4 605.9L72.9 605.3L75.4 604.6L77.9 603.8L80.4 603L82.9 602.2L85.4 601.4L87.9 600.4L90.4 599.4L92.9 598.3L95.4 597.2L97.9 596.1L100.4 594.8L102.9 593.3L105.4 591.7L107.9 590.1L110.4 588.5L112.9 586.9L115.4 585.3L117.9 583.7L120.4 582.1L122.9 580.6L125.4 579L127.9 577.4L130.4 575.7L132.9 573.9L135.4 571.9L137.9 569.9L140.4 568L142.9 566L145.4 564.2L147.9 562.4L150.4 560.7L152.9 559.1L155.4 557.9L157.9 557.7L160.4 559.1L162.9 562.3L165.4 567.2L167.9 573.1L170.4 579.5L172.9 585.5L175.4 590.3L177.9 592.7L180.4 592.7L182.9 590.7L185.4 588.4L187.9 586.6L190.4 585.5L190.4 618.1Z" fill="#1c1c1c"/><path d="M37.9 618.1L37.9 615.6L40.4 615.1L42.9 614.5L45.4 613.7L47.9 613L50.4 612.3L52.9 611.5L55.4 610.8L57.9 610L60.4 609.3L62.9 608.6L65.4 607.9L67.9 607.2L70.4 606.5L72.9 605.9L75.4 605.2L77.9 604.4L80.4 603.7L82.9 602.9L85.4 602L87.9 601.1L90.4 600L92.9 599L95.4 597.9L97.9 596.7L100.4 595.4L102.9 593.9L105.4 592.3L107.9 590.7L110.4 589.1L112.9 587.5L115.4 585.9L117.9 584.3L120.4 582.8L122.9 581.2L125.4 579.7L127.9 578L130.4 576.3L132.9 574.5L135.4 572.5L137.9 570.6L140.4 568.6L142.9 566.7L145.4 564.8L147.9 563L150.4 561.3L152.9 559.7L155.4 558.6L157.9 558.3L160.4 559.7L162.9 563L165.4 567.8L167.9 573.7L170.4 580.1L172.9 586.1L175.4 591L177.9 593.3L180.4 593.3L182.9 591.4L185.4 589.1L187.9 587.2L190.4 586.2L190.4 618.1Z" fill="#1e1e1e"/><path d="M37.9 618.1L37.9 616.4L40.4 616L42.9 615.3L45.4 614.6L47.9 613.8L50.4 613.1L52.9 612.3L55.4 611.6L57.9 610.9L60.4 610.1L62.9 609.4L65.4 608.7L67.9 608L70.4 607.4L72.9 606.7L75.4 606L77.9 605.3L80.4 604.5L82.9 603.7L85.4 602.8L87.9 601.9L90.4 600.9L92.9 599.8L95.4 598.7L97.9 597.5L100.4 596.2L102.9 594.7L105.4 593.2L107.9 591.5L110.4 589.9L112.9 588.3L115.4 586.7L117.9 585.1L120.4 583.6L122.9 582L125.4 580.5L127.9 578.9L130.4 577.2L132.9 575.3L135.4 573.4L137.9 571.4L140.4 569.4L142.9 567.5L145.4 565.6L147.9 563.8L150.4 562.1L152.9 560.5L155.4 559.4L157.9 559.2L160.4 560.6L162.9 563.8L165.4 568.6L167.9 574.5L170.4 580.9L172.9 587L175.4 591.8L177.9 594.2L180.4 594.1L182.9 592.2L185.4 589.9L187.9 588.1L190.4 587L190.4 618.1Z" fill="#1f1f1f"/><path d="M37.9 618.1L37.9 617.5L40.4 617L42.9 616.4L45.4 615.6L47.9 614.9L50.4 614.1L52.9 613.4L55.4 612.7L57.9 611.9L60.4 611.2L62.9 610.5L65.4 609.8L67.9 609.1L70.4 608.4L72.9 607.8L75.4 607.1L77.9 606.3L80.4 605.6L82.9 604.7L85.4 603.9L87.9 603L90.4 601.9L92.9 600.8L95.4 599.7L97.9 598.6L100.4 597.3L102.9 595.8L105.4 594.2L107.9 592.6L110.4 591L112.9 589.4L115.4 587.8L117.9 586.2L120.4 584.6L122.9 583.1L125.4 581.5L127.9 579.9L130.4 578.2L132.9 576.4L135.4 574.4L137.9 572.4L140.4 570.5L142.9 568.6L145.4 566.7L147.9 564.9L150.4 563.2L152.9 561.6L155.4 560.4L157.9 560.2L160.4 561.6L162.9 564.8L165.4 569.7L167.9 575.6L170.4 582L172.9 588L175.4 592.8L177.9 595.2L180.4 595.2L182.9 593.2L185.4 591L187.9 589.1L190.4 588.1L190.4 618.1Z" fill="#212121"/><path d="M40.4 618.1L40.4 618.1L42.9 617.7L45.4 616.9L47.9 616.2L50.4 615.5L52.9 614.7L55.4 614L57.9 613.2L60.4 612.5L62.9 611.8L65.4 611.1L67.9 610.4L70.4 609.7L72.9 609.1L75.4 608.4L77.9 607.6L80.4 606.9L82.9 606.1L85.4 605.2L87.9 604.3L90.4 603.2L92.9 602.2L95.4 601L97.9 599.9L100.4 598.6L102.9 597.1L105.4 595.5L107.9 593.9L110.4 592.3L112.9 590.7L115.4 589.1L117.9 587.5L120.4 586L122.9 584.4L125.4 582.8L127.9 581.2L130.4 579.5L132.9 577.7L135.4 575.7L137.9 573.8L140.4 571.8L142.9 569.9L145.4 568L147.9 566.2L150.4 564.5L152.9 562.9L155.4 561.7L157.9 561.5L160.4 562.9L162.9 566.1L165.4 571L167.9 576.9L170.4 583.3L172.9 589.3L175.4 594.1L177.9 596.5L180.4 596.5L182.9 594.5L185.4 592.3L187.9 590.4L190.4 589.4L190.4 618.1Z" fill="#222222"/><path d="M42.9 618.1L42.9 618.1L45.4 617.6L47.9 616.8L50.4 616.1L52.9 615.3L55.4 614.6L57.9 613.9L60.4 613.1L62.9 612.4L65.4 611.7L67.9 611L70.4 610.4L72.9 609.7L75.4 609L77.9 608.3L80.4 607.5L82.9 606.7L85.4 605.8L87.9 604.9L90.4 603.9L92.9 602.8L95.4 601.7L97.9 600.5L100.4 599.2L102.9 597.7L105.4 596.2L107.9 594.5L110.4 592.9L112.9 591.3L115.4 589.7L117.9 588.1L120.4 586.6L122.9 585L125.4 583.5L127.9 581.9L130.4 580.1L132.9 578.3L135.4 576.4L137.9 574.4L140.4 572.4L142.9 570.5L145.4 568.6L147.9 566.8L150.4 565.1L152.9 563.5L155.4 562.4L157.9 562.2L160.4 563.5L162.9 566.8L165.4 571.6L167.9 577.5L170.4 583.9L172.9 590L175.4 594.8L177.9 597.2L180.4 597.1L182.9 595.2L185.4 592.9L187.9 591.1L190.4 590L190.4 618.1Z" fill="#242424"/><path d="M45.4 618.1L45.4 618.1L47.9 617.6L50.4 616.8L52.9 616.1L55.4 615.4L57.9 614.6L60.4 613.9L62.9 613.2L65.4 612.5L67.9 611.8L70.4 611.1L72.9 610.5L75.4 609.8L77.9 609L80.4 608.3L82.9 607.4L85.4 606.6L87.9 605.7L90.4 604.6L92.9 603.5L95.4 602.4L97.9 601.3L100.4 600L102.9 598.5L105.4 596.9L107.9 595.3L110.4 593.7L112.9 592.1L115.4 590.5L117.9 588.9L120.4 587.3L122.9 585.8L125.4 584.2L127.9 582.6L130.4 580.9L132.9 579.1L135.4 577.1L137.9 575.1L140.4 573.2L142.9 571.3L145.4 569.4L147.9 567.6L150.4 565.9L152.9 564.3L155.4 563.1L157.9 562.9L160.4 564.3L162.9 567.5L165.4 572.4L167.9 578.3L170.4 584.7L172.9 590.7L175.4 595.5L177.9 597.9L180.4 597.9L182.9 595.9L185.4 593.7L187.9 591.8L190.4 590.8L190.4 618.1Z" fill="#252525"/><path d="M47.9 618.1L47.9 618.1L50.4 617.8L52.9 617L55.4 616.3L57.9 615.5L60.4 614.8L62.9 614.1L65.4 613.4L67.9 612.7L70.4 612L72.9 611.4L75.4 610.7L77.9 609.9L80.4 609.2L82.9 608.4L85.4 607.5L87.9 606.6L90.4 605.5L92.9 604.5L95.4 603.4L97.9 602.2L100.4 600.9L102.9 599.4L105.4 597.8L107.9 596.2L110.4 594.6L112.9 593L115.4 591.4L117.9 589.8L120.4 588.3L122.9 586.7L125.4 585.2L127.9 583.5L130.4 581.8L132.9 580L135.4 578L137.9 576.1L140.4 574.1L142.9 572.2L145.4 570.3L147.9 568.5L150.4 566.8L152.9 565.2L155.4 564.1L157.9 563.8L160.4 565.2L162.9 568.5L165.4 573.3L167.9 579.2L170.4 585.6L172.9 591.6L175.4 596.5L177.9 598.8L180.4 598.8L182.9 596.9L185.4 594.6L187.9 592.7L190.4 591.7L190.4 618.1Z" fill="#272727"/><path d="M50.4 618.1L50.4 618.1L52.9 617.9L55.4 617.2L57.9 616.4L60.4 615.7L62.9 615L65.4 614.3L67.9 613.6L70.4 613L72.9 612.3L75.4 611.6L77.9 610.9L80.4 610.1L82.9 609.3L85.4 608.4L87.9 607.5L90.4 606.5L92.9 605.4L95.4 604.3L97.9 603.1L100.4 601.8L102.9 600.3L105.4 598.8L107.9 597.1L110.4 595.5L112.9 593.9L115.4 592.3L117.9 590.7L120.4 589.2L122.9 587.6L125.4 586.1L127.9 584.5L130.4 582.7L132.9 580.9L135.4 578.9L137.9 577L140.4 575L142.9 573.1L145.4 571.2L147.9 569.4L150.4 567.7L152.9 566.1L155.4 565L157.9 564.8L160.4 566.1L162.9 569.4L165.4 574.2L167.9 580.1L170.4 586.5L172.9 592.6L175.4 597.4L177.9 599.8L180.4 599.7L182.9 597.8L185.4 595.5L187.9 593.7L190.4 592.6L190.4 618.1Z" fill="#282828"/><path d="M52.9 618.1L52.9 618.1L55.4 617.9L57.9 617.2L60.4 616.4L62.9 615.7L65.4 615L67.9 614.4L70.4 613.7L72.9 613L75.4 612.3L77.9 611.6L80.4 610.8L82.9 610L85.4 609.2L87.9 608.2L90.4 607.2L92.9 606.1L95.4 605L97.9 603.8L100.4 602.5L102.9 601.1L105.4 599.5L107.9 597.9L110.4 596.2L112.9 594.6L115.4 593L117.9 591.5L120.4 589.9L122.9 588.4L125.4 586.8L127.9 585.2L130.4 583.5L132.9 581.6L135.4 579.7L137.9 577.7L140.4 575.7L142.9 573.8L145.4 572L147.9 570.1L150.4 568.4L152.9 566.8L155.4 565.7L157.9 565.5L160.4 566.9L162.9 570.1L165.4 575L167.9 580.9L170.4 587.2L172.9 593.3L175.4 598.1L177.9 600.5L180.4 600.4L182.9 598.5L185.4 596.2L187.9 594.4L190.4 593.3L190.4 618.1Z" fill="#2a2a2a"/><path d="M55.4 618.1L55.4 618.1L57.9 618L60.4 617.3L62.9 616.6L65.4 615.9L67.9 615.2L70.4 614.5L72.9 613.9L75.4 613.2L77.9 612.4L80.4 611.6L82.9 610.8L85.4 610L87.9 609L90.4 608L92.9 606.9L95.4 605.8L97.9 604.7L100.4 603.4L102.9 601.9L105.4 600.3L107.9 598.7L110.4 597.1L112.9 595.5L115.4 593.9L117.9 592.3L120.4 590.7L122.9 589.2L125.4 587.6L127.9 586L130.4 584.3L132.9 582.5L135.4 580.5L137.9 578.5L140.4 576.6L142.9 574.7L145.4 572.8L147.9 571L150.4 569.3L152.9 567.7L155.4 566.5L157.9 566.3L160.4 567.7L162.9 570.9L165.4 575.8L167.9 581.7L170.4 588.1L172.9 594.1L175.4 598.9L177.9 601.3L180.4 601.3L182.9 599.3L185.4 597.1L187.9 595.2L190.4 594.2L190.4 618.1Z" fill="#2b2b2b"/><path d="M60.4 618.1L60.4 618.1L62.9 617.5L65.4 616.8L67.9 616.1L70.4 615.4L72.9 614.8L75.4 614.1L77.9 613.3L80.4 612.6L82.9 611.8L85.4 610.9L87.9 610L90.4 608.9L92.9 607.9L95.4 606.8L97.9 605.6L100.4 604.3L102.9 602.8L105.4 601.2L107.9 599.6L110.4 598L112.9 596.4L115.4 594.8L117.9 593.2L120.4 591.7L122.9 590.1L125.4 588.6L127.9 586.9L130.4 585.2L132.9 583.4L135.4 581.4L137.9 579.5L140.4 577.5L142.9 575.6L145.4 573.7L147.9 571.9L150.4 570.2L152.9 568.6L155.4 567.5L157.9 567.2L160.4 568.6L162.9 571.9L165.4 576.7L167.9 582.6L170.4 589L172.9 595L175.4 599.9L177.9 602.2L180.4 602.2L182.9 600.3L185.4 598L187.9 596.1L190.4 595.1L190.4 618.1Z" fill="#2d2d2d"/><path d="M62.9 618.1L62.9 618.1L65.4 617.6L67.9 616.9L70.4 616.3L72.9 615.6L75.4 614.9L77.9 614.2L80.4 613.4L82.9 612.6L85.4 611.7L87.9 610.8L90.4 609.8L92.9 608.7L95.4 607.6L97.9 606.4L100.4 605.1L102.9 603.6L105.4 602.1L107.9 600.4L110.4 598.8L112.9 597.2L115.4 595.6L117.9 594L120.4 592.5L122.9 590.9L125.4 589.4L127.9 587.8L130.4 586L132.9 584.2L135.4 582.3L137.9 580.3L140.4 578.3L142.9 576.4L145.4 574.5L147.9 572.7L150.4 571L152.9 569.4L155.4 568.3L157.9 568.1L160.4 569.4L162.9 572.7L165.4 577.5L167.9 583.4L170.4 589.8L172.9 595.9L175.4 600.7L177.9 603.1L180.4 603L182.9 601.1L185.4 598.8L187.9 597L190.4 595.9L190.4 618.1Z" fill="#2e2e2e"/><path d="M65.4 618.1L65.4 618.1L67.9 617.7L70.4 617.1L72.9 616.4L75.4 615.7L77.9 614.9L80.4 614.2L82.9 613.4L85.4 612.5L87.9 611.6L90.4 610.5L92.9 609.5L95.4 608.4L97.9 607.2L100.4 605.9L102.9 604.4L105.4 602.8L107.9 601.2L110.4 599.6L112.9 598L115.4 596.4L117.9 594.8L120.4 593.3L122.9 591.7L125.4 590.2L127.9 588.5L130.4 586.8L132.9 585L135.4 583L137.9 581.1L140.4 579.1L142.9 577.2L145.4 575.3L147.9 573.5L150.4 571.8L152.9 570.2L155.4 569.1L157.9 568.8L160.4 570.2L162.9 573.5L165.4 578.3L167.9 584.2L170.4 590.6L172.9 596.6L175.4 601.5L177.9 603.8L180.4 603.8L182.9 601.9L185.4 599.6L187.9 597.7L190.4 596.7L190.4 618.1Z" fill="#303030"/><path d="M67.9 618.1L67.9 618.1L70.4 617.9L72.9 617.2L75.4 616.5L77.9 615.8L80.4 615L82.9 614.2L85.4 613.3L87.9 612.4L90.4 611.4L92.9 610.3L95.4 609.2L97.9 608L100.4 606.7L102.9 605.2L105.4 603.7L107.9 602L110.4 600.4L112.9 598.8L115.4 597.2L117.9 595.6L120.4 594.1L122.9 592.5L125.4 591L127.9 589.4L130.4 587.7L132.9 585.8L135.4 583.9L137.9 581.9L140.4 579.9L142.9 578L145.4 576.1L147.9 574.3L150.4 572.6L152.9 571L155.4 569.9L157.9 569.7L160.4 571.1L162.9 574.3L165.4 579.1L167.9 585L170.4 591.4L172.9 597.5L175.4 602.3L177.9 604.7L180.4 604.6L182.9 602.7L185.4 600.4L187.9 598.6L190.4 597.5L190.4 618.1Z" fill="#313131"/><path d="M70.4 618.1L70.4 618.1L72.9 618.1L75.4 617.4L77.9 616.6L80.4 615.8L82.9 615L85.4 614.2L87.9 613.2L90.4 612.2L92.9 611.1L95.4 610L97.9 608.9L100.4 607.6L102.9 606.1L105.4 604.5L107.9 602.9L110.4 601.3L112.9 599.7L115.4 598.1L117.9 596.5L120.4 594.9L122.9 593.4L125.4 591.8L127.9 590.2L130.4 588.5L132.9 586.6L135.4 584.7L137.9 582.7L140.4 580.8L142.9 578.8L145.4 577L147.9 575.2L150.4 573.4L152.9 571.9L155.4 570.7L157.9 570.5L160.4 571.9L162.9 575.1L165.4 580L167.9 585.9L170.4 592.3L172.9 598.3L175.4 603.1L177.9 605.5L180.4 605.5L182.9 603.5L185.4 601.2L187.9 599.4L190.4 598.3L190.4 618.1Z" fill="#333333"/><path d="M72.9 618.1L72.9 618.1L75.4 617.8L77.9 617L80.4 616.3L82.9 615.5L85.4 614.7L87.9 613.8L90.4 612.9L92.9 611.8L95.4 610.8L97.9 609.7L100.4 608.4L102.9 607L105.4 605.5L107.9 604L110.4 602.4L112.9 600.9L115.4 599.3L117.9 597.8L120.4 596.4L122.9 594.9L125.4 593.4L127.9 591.8L130.4 590.2L132.9 588.4L135.4 586.6L137.9 584.7L140.4 582.8L142.9 580.9L145.4 579.1L147.9 577.3L150.4 575.6L152.9 574L155.4 572.9L157.9 572.6L160.4 573.9L162.9 577L165.4 581.7L167.9 587.4L170.4 593.5L172.9 599.4L175.4 604L177.9 606.4L180.4 606.4L182.9 604.7L185.4 602.6L187.9 600.8L190.4 599.8L190.4 618.1Z" fill="#383838"/><path d="M75.4 618.1L75.4 618.1L77.9 617.4L80.4 616.7L82.9 616L85.4 615.2L87.9 614.4L90.4 613.5L92.9 612.6L95.4 611.6L97.9 610.5L100.4 609.3L102.9 608L105.4 606.5L107.9 605L110.4 603.6L112.9 602.1L115.4 600.6L117.9 599.2L120.4 597.8L122.9 596.4L125.4 594.9L127.9 593.5L130.4 591.9L132.9 590.2L135.4 588.4L137.9 586.6L140.4 584.8L142.9 583L145.4 581.2L147.9 579.5L150.4 577.8L152.9 576.2L155.4 575L157.9 574.7L160.4 575.9L162.9 578.8L165.4 583.3L167.9 588.8L170.4 594.8L172.9 600.4L175.4 604.9L177.9 607.3L180.4 607.4L182.9 605.9L185.4 603.9L187.9 602.3L190.4 601.3L190.4 618.1Z" fill="#3d3d3d"/><path d="M75.4 618.1L75.4 618.1L77.9 617.9L80.4 617.1L82.9 616.4L85.4 615.7L87.9 615L90.4 614.2L92.9 613.3L95.4 612.3L97.9 611.3L100.4 610.2L102.9 608.9L105.4 607.5L107.9 606.1L110.4 604.7L112.9 603.3L115.4 601.9L117.9 600.5L120.4 599.2L122.9 597.8L125.4 596.5L127.9 595.1L130.4 593.6L132.9 592L135.4 590.3L137.9 588.6L140.4 586.8L142.9 585.1L145.4 583.4L147.9 581.6L150.4 579.9L152.9 578.4L155.4 577.2L157.9 576.8L160.4 577.9L162.9 580.7L165.4 585L167.9 590.3L170.4 596.1L172.9 601.5L175.4 605.8L177.9 608.2L180.4 608.4L182.9 607L185.4 605.2L187.9 603.7L190.4 602.8L190.4 618.1Z" fill="#424242"/><path d="M77.9 618.1L77.9 618.1L80.4 617.6L82.9 616.9L85.4 616.3L87.9 615.6L90.4 614.8L92.9 614L95.4 613.1L97.9 612.1L100.4 611L102.9 609.8L105.4 608.5L107.9 607.2L110.4 605.9L112.9 604.5L115.4 603.2L117.9 601.9L120.4 600.6L122.9 599.3L125.4 598L127.9 596.7L130.4 595.3L132.9 593.8L135.4 592.2L137.9 590.5L140.4 588.9L142.9 587.2L145.4 585.5L147.9 583.8L150.4 582.1L152.9 580.5L155.4 579.3L157.9 578.9L160.4 579.9L162.9 582.5L165.4 586.7L167.9 591.8L170.4 597.3L172.9 602.5L175.4 606.7L177.9 609.1L180.4 609.4L182.9 608.2L185.4 606.5L187.9 605.1L190.4 604.3L190.4 618.1Z" fill="#474747"/><path d="M77.9 618.1L77.9 618.1L80.4 618L82.9 617.4L85.4 616.8L87.9 616.1L90.4 615.5L92.9 614.7L95.4 613.9L97.9 613L100.4 611.9L102.9 610.8L105.4 609.5L107.9 608.3L110.4 607L112.9 605.7L115.4 604.5L117.9 603.3L120.4 602L122.9 600.8L125.4 599.6L127.9 598.3L130.4 597L132.9 595.5L135.4 594L137.9 592.5L140.4 590.9L142.9 589.3L145.4 587.6L147.9 585.9L150.4 584.3L152.9 582.7L155.4 581.4L157.9 581L160.4 581.9L162.9 584.4L165.4 588.4L167.9 593.3L170.4 598.6L172.9 603.6L175.4 607.6L177.9 610L180.4 610.4L182.9 609.3L185.4 607.8L187.9 606.6L190.4 605.8L190.4 618.1Z" fill="#4c4c4c"/><path d="M80.4 618.1L80.4 618.1L82.9 617.9L85.4 617.3L87.9 616.7L90.4 616.1L92.9 615.4L95.4 614.7L97.9 613.8L100.4 612.8L102.9 611.7L105.4 610.5L107.9 609.4L110.4 608.2L112.9 607L115.4 605.8L117.9 604.6L120.4 603.5L122.9 602.3L125.4 601.2L127.9 600L130.4 598.7L132.9 597.3L135.4 595.9L137.9 594.4L140.4 592.9L142.9 591.4L145.4 589.7L147.9 588.1L150.4 586.4L152.9 584.9L155.4 583.6L157.9 583.1L160.4 583.9L162.9 586.2L165.4 590.1L167.9 594.8L170.4 599.8L172.9 604.6L175.4 608.5L177.9 610.8L180.4 611.4L182.9 610.5L185.4 609.2L187.9 608L190.4 607.3L190.4 618.1Z" fill="#525252"/><path d="M82.9 618.1L82.9 618.1L85.4 617.8L87.9 617.3L90.4 616.8L92.9 616.1L95.4 615.4L97.9 614.6L100.4 613.7L102.9 612.6L105.4 611.5L107.9 610.4L110.4 609.3L112.9 608.2L115.4 607.1L117.9 606L120.4 604.9L122.9 603.8L125.4 602.7L127.9 601.6L130.4 600.4L132.9 599.1L135.4 597.7L137.9 596.3L140.4 594.9L142.9 593.5L145.4 591.9L147.9 590.2L150.4 588.6L152.9 587L155.4 585.7L157.9 585.2L160.4 585.9L162.9 588.1L165.4 591.7L167.9 596.3L170.4 601.1L172.9 605.7L175.4 609.4L177.9 611.7L180.4 612.4L182.9 611.7L185.4 610.5L187.9 609.4L190.4 608.8L190.4 618.1Z" fill="#575757"/><path d="M85.4 618.1L85.4 618.1L87.9 617.9L90.4 617.4L92.9 616.9L95.4 616.2L97.9 615.4L100.4 614.5L102.9 613.6L105.4 612.5L107.9 611.5L110.4 610.4L112.9 609.4L115.4 608.3L117.9 607.3L120.4 606.3L122.9 605.3L125.4 604.3L127.9 603.2L130.4 602.1L132.9 600.9L135.4 599.6L137.9 598.3L140.4 597L142.9 595.5L145.4 594L147.9 592.4L150.4 590.8L152.9 589.2L155.4 587.9L157.9 587.3L160.4 587.9L162.9 589.9L165.4 593.4L167.9 597.8L170.4 602.4L172.9 606.7L175.4 610.3L177.9 612.6L180.4 613.4L182.9 612.8L185.4 611.8L187.9 610.9L190.4 610.3L190.4 618.1Z" fill="#5c5c5c"/><path d="M87.9 618.1L87.9 618.1L90.4 618.1L92.9 617.6L95.4 617L97.9 616.3L100.4 615.4L102.9 614.5L105.4 613.6L107.9 612.6L110.4 611.6L112.9 610.6L115.4 609.6L117.9 608.7L120.4 607.7L122.9 606.8L125.4 605.8L127.9 604.8L130.4 603.8L132.9 602.7L135.4 601.5L137.9 600.2L140.4 599L142.9 597.6L145.4 596.1L147.9 594.6L150.4 592.9L152.9 591.3L155.4 590L157.9 589.3L160.4 589.8L162.9 591.8L165.4 595.1L167.9 599.2L170.4 603.6L172.9 607.8L175.4 611.2L177.9 613.5L180.4 614.4L182.9 614L185.4 613.1L187.9 612.3L190.4 611.8L190.4 618.1Z" fill="#616161"/><path d="M92.9 618.1L92.9 618.1L95.4 617.8L97.9 617.1L100.4 616.3L102.9 615.4L105.4 614.6L107.9 613.7L110.4 612.7L112.9 611.8L115.4 610.9L117.9 610L120.4 609.1L122.9 608.3L125.4 607.4L127.9 606.5L130.4 605.5L132.9 604.4L135.4 603.3L137.9 602.2L140.4 601L142.9 599.7L145.4 598.3L147.9 596.7L150.4 595.1L152.9 593.5L155.4 592.2L157.9 591.4L160.4 591.8L162.9 593.7L165.4 596.8L167.9 600.7L170.4 604.9L172.9 608.8L175.4 612.1L177.9 614.4L180.4 615.3L182.9 615.2L185.4 614.5L187.9 613.7L190.4 613.3L190.4 618.1Z" fill="#666666"/><path d="M95.4 618.1L95.4 618.1L97.9 617.5L100.4 616.8L102.9 615.9L105.4 615.1L107.9 614.2L110.4 613.4L112.9 612.5L115.4 611.6L117.9 610.8L120.4 609.9L122.9 609L125.4 608.2L127.9 607.3L130.4 606.3L132.9 605.3L135.4 604.3L137.9 603.2L140.4 602L142.9 600.8L145.4 599.4L147.9 597.9L150.4 596.3L152.9 594.8L155.4 593.5L157.9 592.8L160.4 593.2L162.9 594.9L165.4 597.9L167.9 601.7L170.4 605.7L172.9 609.5L175.4 612.6L177.9 614.8L180.4 615.8L182.9 615.7L185.4 615.1L187.9 614.5L190.4 614L190.4 618.1Z" fill="#6b6b6b"/><path d="M95.4 618.1L95.4 618.1L97.9 618L100.4 617.2L102.9 616.5L105.4 615.7L107.9 614.8L110.4 614L112.9 613.2L115.4 612.3L117.9 611.5L120.4 610.7L122.9 609.8L125.4 609L127.9 608.1L130.4 607.2L132.9 606.2L135.4 605.2L137.9 604.1L140.4 603L142.9 601.8L145.4 600.5L147.9 599L150.4 597.5L152.9 596L155.4 594.8L157.9 594.1L160.4 594.5L162.9 596.2L165.4 599.1L167.9 602.7L170.4 606.5L172.9 610.1L175.4 613.1L177.9 615.3L180.4 616.3L182.9 616.3L185.4 615.8L187.9 615.2L190.4 614.8L190.4 618.1Z" fill="#707070"/><path d="M97.9 618.1L97.9 618.1L100.4 617.7L102.9 617L105.4 616.2L107.9 615.4L110.4 614.6L112.9 613.8L115.4 613L117.9 612.2L120.4 611.4L122.9 610.6L125.4 609.8L127.9 608.9L130.4 608.1L132.9 607.1L135.4 606.1L137.9 605.1L140.4 604L142.9 602.9L145.4 601.6L147.9 600.2L150.4 598.7L152.9 597.3L155.4 596.1L157.9 595.5L160.4 595.8L162.9 597.5L165.4 600.2L167.9 603.7L170.4 607.3L172.9 610.7L175.4 613.6L177.9 615.7L180.4 616.7L182.9 616.8L185.4 616.4L187.9 616L190.4 615.6L190.4 618.1Z" fill="#757575"/><path d="M100.4 618.1L100.4 618.1L102.9 617.5L105.4 616.7L107.9 616L110.4 615.3L112.9 614.5L115.4 613.7L117.9 612.9L120.4 612.2L122.9 611.4L125.4 610.6L127.9 609.8L130.4 608.9L132.9 608L135.4 607L137.9 606.1L140.4 605L142.9 603.9L145.4 602.7L147.9 601.3L150.4 599.9L152.9 598.5L155.4 597.4L157.9 596.8L160.4 597.2L162.9 598.7L165.4 601.4L167.9 604.6L170.4 608.1L172.9 611.3L175.4 614.1L177.9 616.2L180.4 617.2L182.9 617.4L185.4 617.1L187.9 616.7L190.4 616.4L190.4 618.1Z" fill="#7a7a7a"/><path d="M100.4 618.1L100.4 618.1L102.9 618L105.4 617.3L107.9 616.6L110.4 615.9L112.9 615.2L115.4 614.4L117.9 613.7L120.4 612.9L122.9 612.2L125.4 611.4L127.9 610.6L130.4 609.8L132.9 608.9L135.4 608L137.9 607L140.4 606L142.9 605L145.4 603.8L147.9 602.4L150.4 601.1L152.9 599.8L155.4 598.7L157.9 598.1L160.4 598.5L162.9 600L165.4 602.5L167.9 605.6L170.4 608.9L172.9 612L175.4 614.6L177.9 616.6L180.4 617.7L182.9 617.9L185.4 617.7L187.9 617.4L190.4 617.2L190.4 618.1Z" fill="#808080"/><path d="M102.9 618.1L102.9 618.1L105.4 617.8L107.9 617.2L110.4 616.5L112.9 615.8L115.4 615.1L117.9 614.4L120.4 613.7L122.9 612.9L125.4 612.2L127.9 611.4L130.4 610.6L132.9 609.8L135.4 608.9L137.9 608L140.4 607L142.9 606L145.4 604.9L147.9 603.6L150.4 602.3L152.9 601.1L155.4 600L157.9 599.5L160.4 599.8L162.9 601.3L165.4 603.6L167.9 606.6L170.4 609.7L172.9 612.6L175.4 615.1L177.9 617L180.4 618.1L182.9 618.1L185.4 618.1L187.9 618.1L190.4 618L190.4 618.1Z" fill="#858585"/><path d="M105.4 618.1L105.4 618.1L107.9 617.8L110.4 617.1L112.9 616.5L115.4 615.8L117.9 615.1L120.4 614.4L122.9 613.7L125.4 613L127.9 612.2L130.4 611.5L132.9 610.7L135.4 609.8L137.9 609L140.4 608.1L142.9 607.1L145.4 606L147.9 604.7L150.4 603.5L152.9 602.3L155.4 601.3L157.9 600.8L160.4 601.2L162.9 602.5L165.4 604.8L167.9 607.6L170.4 610.5L172.9 613.2L175.4 615.6L177.9 617.5L180.4 618.1L180.4 618.1Z" fill="#8a8a8a"/><path d="M107.9 618.1L107.9 618.1L110.4 617.8L112.9 617.2L115.4 616.5L117.9 615.9L120.4 615.2L122.9 614.5L125.4 613.8L127.9 613.1L130.4 612.3L132.9 611.5L135.4 610.7L137.9 609.9L140.4 609.1L142.9 608.1L145.4 607.1L147.9 605.9L150.4 604.7L152.9 603.6L155.4 602.6L157.9 602.1L160.4 602.5L162.9 603.8L165.4 605.9L167.9 608.5L170.4 611.3L172.9 613.9L175.4 616.1L177.9 617.9L180.4 618.1L180.4 618.1Z" fill="#8f8f8f"/><path d="M110.4 618.1L110.4 618.1L112.9 617.8L115.4 617.2L117.9 616.6L120.4 615.9L122.9 615.3L125.4 614.6L127.9 613.9L130.4 613.2L132.9 612.4L135.4 611.7L137.9 610.9L140.4 610.1L142.9 609.2L145.4 608.2L147.9 607L150.4 605.9L152.9 604.8L155.4 603.9L157.9 603.5L160.4 603.8L162.9 605.1L165.4 607.1L167.9 609.5L170.4 612.1L172.9 614.5L175.4 616.6L177.9 618.1L177.9 618.1Z" fill="#949494"/><path d="M112.9 618.1L112.9 618.1L115.4 617.9L117.9 617.3L120.4 616.7L122.9 616L125.4 615.4L127.9 614.7L130.4 614L132.9 613.3L135.4 612.6L137.9 611.9L140.4 611.1L142.9 610.2L145.4 609.2L147.9 608.2L150.4 607.1L152.9 606.1L155.4 605.2L157.9 604.8L160.4 605.2L162.9 606.3L165.4 608.2L167.9 610.5L170.4 612.8L172.9 615.1L175.4 617.1L177.9 618.1L177.9 618.1Z" fill="#999999"/><path d="M115.4 618.1L115.4 618.1L117.9 618L120.4 617.3L122.9 616.7L125.4 616L127.9 615.4L130.4 614.7L132.9 614L135.4 613.2L137.9 612.4L140.4 611.6L142.9 610.8L145.4 609.8L147.9 608.8L150.4 607.7L152.9 606.7L155.4 605.9L157.9 605.5L160.4 605.9L162.9 607L165.4 608.8L167.9 610.9L170.4 613.2L172.9 615.4L175.4 617.4L177.9 618.1L177.9 618.1Z" fill="#9e9e9e"/><path d="M117.9 618.1L117.9 618.1L120.4 618L122.9 617.3L125.4 616.7L127.9 616.1L130.4 615.4L132.9 614.6L135.4 613.8L137.9 613L140.4 612.2L142.9 611.3L145.4 610.3L147.9 609.3L150.4 608.3L152.9 607.4L155.4 606.6L157.9 606.3L160.4 606.6L162.9 607.6L165.4 609.4L167.9 611.4L170.4 613.6L172.9 615.7L175.4 617.6L177.9 618.1L177.9 618.1Z" fill="#a3a3a3"/><path d="M120.4 618.1L120.4 618.1L122.9 618L125.4 617.4L127.9 616.7L130.4 616L132.9 615.3L135.4 614.5L137.9 613.6L140.4 612.8L142.9 611.9L145.4 610.9L147.9 609.9L150.4 608.9L152.9 608L155.4 607.3L157.9 607L160.4 607.3L162.9 608.3L165.4 609.9L167.9 611.9L170.4 614L172.9 616L175.4 617.9L177.9 618.1L177.9 618.1Z" fill="#a8a8a8"/><path d="M122.9 618.1L122.9 618.1L125.4 618L127.9 617.4L130.4 616.7L132.9 615.9L135.4 615.1L137.9 614.2L140.4 613.3L142.9 612.4L145.4 611.4L147.9 610.5L150.4 609.5L152.9 608.7L155.4 608L157.9 607.7L160.4 608L162.9 609L165.4 610.5L167.9 612.3L170.4 614.4L172.9 616.3L175.4 618.1L175.4 618.1Z" fill="#adadad"/><path d="M125.4 618.1L125.4 618.1L127.9 618.1L130.4 617.4L132.9 616.6L135.4 615.7L137.9 614.8L140.4 613.9L142.9 613L145.4 612L147.9 611L150.4 610.2L152.9 609.4L155.4 608.7L157.9 608.5L160.4 608.8L162.9 609.6L165.4 611L167.9 612.8L170.4 614.7L172.9 616.6L175.4 618.1L175.4 618.1Z" fill="#b2b2b2"/><path d="M127.9 618.1L127.9 618.1L130.4 618L132.9 617.2L135.4 616.3L137.9 615.4L140.4 614.5L142.9 613.5L145.4 612.5L147.9 611.6L150.4 610.8L152.9 610L155.4 609.4L157.9 609.2L160.4 609.5L162.9 610.3L165.4 611.6L167.9 613.3L170.4 615.1L172.9 616.9L175.4 618.1L175.4 618.1Z" fill="#b8b8b8"/><path d="M130.4 618.1L130.4 618.1L132.9 617.9L135.4 616.9L137.9 616L140.4 615L142.9 614.1L145.4 613.1L147.9 612.2L150.4 611.4L152.9 610.7L155.4 610.1L157.9 609.9L160.4 610.2L162.9 611L165.4 612.2L167.9 613.7L170.4 615.5L172.9 617.2L175.4 618.1L175.4 618.1Z" fill="#bdbdbd"/><path d="M132.9 618.1L132.9 618.1L135.4 617.6L137.9 616.6L140.4 615.6L142.9 614.6L145.4 613.6L147.9 612.7L150.4 612L152.9 611.3L155.4 610.8L157.9 610.7L160.4 610.9L162.9 611.6L165.4 612.7L167.9 614.2L170.4 615.9L172.9 617.6L175.4 618.1L175.4 618.1Z" fill="#c2c2c2"/><path d="M135.4 618.1L135.4 618.1L137.9 617.2L140.4 616.2L142.9 615.1L145.4 614.2L147.9 613.3L150.4 612.6L152.9 612L155.4 611.5L157.9 611.4L160.4 611.6L162.9 612.3L165.4 613.3L167.9 614.7L170.4 616.2L172.9 617.9L175.4 618.1L175.4 618.1Z" fill="#c7c7c7"/><path d="M135.4 618.1L135.4 618.1L137.9 617.8L140.4 616.7L142.9 615.7L145.4 614.7L147.9 613.9L150.4 613.2L152.9 612.6L155.4 612.2L157.9 612.1L160.4 612.3L162.9 612.9L165.4 613.9L167.9 615.1L170.4 616.6L172.9 618.1L172.9 618.1Z" fill="#cccccc"/><path d="M137.9 618.1L137.9 618.1L140.4 617.3L142.9 616.3L145.4 615.3L147.9 614.5L150.4 613.8L152.9 613.2L155.4 612.8L157.9 612.7L160.4 612.9L162.9 613.5L165.4 614.5L167.9 615.7L170.4 617.2L172.9 618.1L172.9 618.1Z" fill="#d1d1d1"/><path d="M137.9 618.1L137.9 618.1L140.4 617.9L142.9 616.9L145.4 615.9L147.9 615.1L150.4 614.4L152.9 613.8L155.4 613.4L157.9 613.3L160.4 613.5L162.9 614.1L165.4 615.1L167.9 616.3L170.4 617.8L172.9 618.1L172.9 618.1Z" fill="#d6d6d6"/><path d="M140.4 618.1L140.4 618.1L142.9 617.5L145.4 616.5L147.9 615.7L150.4 615L152.9 614.4L155.4 614L157.9 613.9L160.4 614.1L162.9 614.7L165.4 615.7L167.9 616.9L170.4 618.1L170.4 618.1Z" fill="#dbdbdb"/><path d="M140.4 618.1L140.4 618.1L142.9 618.1L145.4 617.1L147.9 616.3L150.4 615.6L152.9 615L155.4 614.6L157.9 614.5L160.4 614.7L162.9 615.3L165.4 616.3L167.9 617.5L170.4 618.1L170.4 618.1Z" fill="#e0e0e0"/><path d="M142.9 618.1L142.9 618.1L145.4 617.7L147.9 616.9L150.4 616.2L152.9 615.6L155.4 615.2L157.9 615.1L160.4 615.3L162.9 615.9L165.4 616.9L167.9 618.1L167.9 618.1Z" fill="#e6e6e6"/><path d="M145.4 618.1L145.4 618.1L147.9 617.5L150.4 616.8L152.9 616.2L155.4 615.8L157.9 615.7L160.4 615.9L162.9 616.5L165.4 617.5L167.9 618.1L167.9 618.1Z" fill="#ebebeb"/><path d="M145.4 618.1L145.4 618.1L147.9 618.1L150.4 617.4L152.9 616.8L155.4 616.4L157.9 616.3L160.4 616.5L162.9 617.1L165.4 618.1L167.9 618.1L167.9 618.1Z" fill="#f0f0f0"/><path d="M147.9 618.1L147.9 618.1L150.4 618L152.9 617.4L155.4 617L157.9 616.9L160.4 617.1L162.9 617.7L165.4 618.1L165.4 618.1Z" fill="#f5f5f5"/><path d="M150.4 618.1L150.4 618.1L152.9 618L155.4 617.6L157.9 617.5L160.4 617.7L162.9 618.1L162.9 618.1Z" fill="#fafafa"/><rect x="37.9" y="618.1" width="154.7" height="5.6" fill="#000"/></g></g>
<g clip-path="url(#cliph3)"><g filter="url(#h3)"><rect x="37.9" y="615.7" width="154.7" height="112.8" fill="#171717"/><path d="M37.9 723.3L37.9 615.7L40.4 615.7L42.9 615.7L45.4 615.7L47.9 615.7L50.4 615.7L52.9 615.7L55.4 615.7L57.9 615.7L60.4 615.7L62.9 615.7L65.4 615.7L67.9 615.7L70.4 615.7L72.9 615.7L75.4 615.7L77.9 615.7L80.4 615.7L82.9 615.7L85.4 615.7L87.9 615.7L90.4 615.7L92.9 615.7L95.4 615.7L97.9 615.7L100.4 615.7L102.9 615.7L105.4 615.7L107.9 615.7L110.4 615.7L112.9 615.7L115.4 615.7L117.9 615.7L120.4 615.7L122.9 615.7L125.4 615.7L127.9 615.7L130.4 615.7L132.9 615.7L135.4 615.7L137.9 615.7L140.4 615.7L142.9 615.7L145.4 615.7L147.9 615.7L150.4 615.7L152.9 615.7L155.4 615.7L157.9 615.7L160.4 615.7L162.9 615.7L165.4 615.7L167.9 615.7L170.4 615.7L172.9 615.7L175.4 615.7L177.9 615.7L180.4 615.7L182.9 615.7L185.4 615.7L187.9 615.7L190.4 615.7L190.4 723.3Z" fill="#171717"/><path d="M37.9 723.3L37.9 628L40.4 626.2L42.9 623.7L45.4 620.8L47.9 617.7L50.4 615.7L52.9 615.7L55.4 615.7L57.9 615.7L60.4 615.7L62.9 615.7L65.4 615.7L67.9 615.7L70.4 615.7L72.9 615.7L75.4 615.7L77.9 615.7L80.4 615.7L82.9 615.7L85.4 615.7L87.9 615.7L90.4 615.7L92.9 615.7L95.4 615.7L97.9 615.7L100.4 615.7L102.9 615.7L105.4 615.7L107.9 615.7L110.4 615.7L112.9 615.7L115.4 615.7L117.9 615.7L120.4 615.7L122.9 615.7L125.4 615.7L127.9 615.7L130.4 615.7L132.9 615.7L135.4 615.7L137.9 615.7L140.4 615.7L142.9 615.7L145.4 615.7L147.9 615.7L150.4 615.7L152.9 615.7L155.4 615.7L157.9 615.7L160.4 615.7L162.9 615.7L165.4 615.7L167.9 615.7L170.4 615.7L172.9 615.7L175.4 615.7L177.9 615.7L180.4 615.7L182.9 621.4L185.4 628.1L187.9 634L190.4 639L190.4 723.3Z" fill="#191919"/><path d="M37.9 723.3L37.9 646.4L40.4 644.6L42.9 642.1L45.4 639.2L47.9 636.1L50.4 633L52.9 629.9L55.4 626.9L57.9 624.3L60.4 622.1L62.9 620.3L65.4 618.6L67.9 617L70.4 615.7L72.9 615.7L75.4 615.7L77.9 615.7L80.4 615.7L82.9 615.7L85.4 615.7L87.9 615.7L90.4 615.7L92.9 615.7L95.4 615.7L97.9 615.7L100.4 615.7L102.9 615.7L105.4 615.7L107.9 615.7L110.4 615.7L112.9 615.7L115.4 615.7L117.9 615.7L120.4 615.7L122.9 615.7L125.4 615.7L127.9 615.7L130.4 615.7L132.9 615.7L135.4 615.7L137.9 615.7L140.4 615.7L142.9 615.7L145.4 615.7L147.9 615.7L150.4 615.7L152.9 615.7L155.4 615.7L157.9 615.7L160.4 615.7L162.9 615.7L165.4 615.7L167.9 615.7L170.4 615.7L172.9 615.7L175.4 620L177.9 628.4L180.4 635.8L182.9 642.3L185.4 648.3L187.9 653.5L190.4 657.9L190.4 723.3Z" fill="#1b1b1b"/><path d="M37.9 723.3L37.9 657.5L40.4 655.8L42.9 653.3L45.4 650.3L47.9 647.2L50.4 644.1L52.9 641L55.4 638L57.9 635.4L60.4 633.2L62.9 631.4L65.4 629.8L67.9 628.1L70.4 626.5L72.9 624.9L75.4 623.2L77.9 621.6L80.4 619.9L82.9 618.3L85.4 616.7L87.9 615.7L90.4 615.7L92.9 615.7L95.4 615.7L97.9 615.7L100.4 615.7L102.9 615.7L105.4 615.7L107.9 615.7L110.4 615.7L112.9 615.7L115.4 615.7L117.9 615.7L120.4 615.7L122.9 615.7L125.4 615.7L127.9 615.7L130.4 615.7L132.9 615.7L135.4 615.7L137.9 615.7L140.4 615.7L142.9 615.7L145.4 615.7L147.9 615.7L150.4 615.7L152.9 615.7L155.4 615.7L157.9 615.7L160.4 615.7L162.9 615.7L165.4 615.7L167.9 615.7L170.4 615.7L172.9 624.6L175.4 633.9L177.9 641.9L180.4 648.8L182.9 655L185.4 660.5L187.9 665.3L190.4 669.3L190.4 723.3Z" fill="#1c1c1c"/><path d="M37.9 723.3L37.9 667.4L40.4 665.6L42.9 663.1L45.4 660.2L47.9 657.1L50.4 654L52.9 650.9L55.4 647.9L57.9 645.2L60.4 643.1L62.9 641.3L65.4 639.6L67.9 638L70.4 636.4L72.9 634.7L75.4 633.1L77.9 631.4L80.4 629.8L82.9 628.2L85.4 626.6L87.9 625L90.4 623.6L92.9 622.1L95.4 620.2L97.9 616.1L100.4 615.7L102.9 615.7L105.4 615.7L107.9 615.7L110.4 615.7L112.9 615.7L115.4 615.7L117.9 615.7L120.4 615.7L122.9 615.7L125.4 615.7L127.9 615.7L130.4 615.7L132.9 615.7L135.4 615.7L137.9 615.7L140.4 615.7L142.9 615.7L145.4 615.7L147.9 615.7L150.4 615.7L152.9 615.7L155.4 615.7L157.9 615.7L160.4 615.7L162.9 615.7L165.4 615.7L167.9 615.7L170.4 622.1L172.9 637.2L175.4 646.2L177.9 653.9L180.4 660.4L182.9 666.2L185.4 671.4L187.9 675.8L190.4 679.4L190.4 723.3Z" fill="#1e1e1e"/><path d="M37.9 723.3L37.9 673.5L40.4 671.7L42.9 669.2L45.4 666.3L47.9 663.2L50.4 660.1L52.9 657L55.4 654L57.9 651.4L60.4 649.2L62.9 647.4L65.4 645.7L67.9 644.1L70.4 642.5L72.9 640.8L75.4 639.2L77.9 637.5L80.4 635.9L82.9 634.3L85.4 632.7L87.9 631.1L90.4 629.7L92.9 628.2L95.4 626.4L97.9 622.6L100.4 618.8L102.9 615.7L105.4 615.7L107.9 615.7L110.4 615.7L112.9 615.7L115.4 615.7L117.9 615.7L120.4 615.7L122.9 615.7L125.4 615.7L127.9 615.7L130.4 615.7L132.9 615.7L135.4 615.7L137.9 615.7L140.4 615.7L142.9 615.7L145.4 615.7L147.9 615.7L150.4 615.7L152.9 615.7L155.4 615.7L157.9 615.7L160.4 615.7L162.9 615.7L165.4 615.7L167.9 615.7L170.4 630.9L172.9 645.1L175.4 653.9L177.9 661.3L180.4 667.6L182.9 673.1L185.4 678.1L187.9 682.3L190.4 685.6L190.4 723.3Z" fill="#1f1f1f"/><path d="M37.9 723.3L37.9 679.7L40.4 677.9L42.9 675.4L45.4 672.5L47.9 669.4L50.4 666.3L52.9 663.1L55.4 660.2L57.9 657.5L60.4 655.4L62.9 653.6L65.4 651.9L67.9 650.3L70.4 648.6L72.9 647L75.4 645.4L77.9 643.7L80.4 642.1L82.9 640.5L85.4 638.9L87.9 637.3L90.4 635.8L92.9 634.4L95.4 632.7L97.9 629.2L100.4 625.8L102.9 622.3L105.4 618.9L107.9 615.7L110.4 615.7L112.9 615.7L115.4 615.7L117.9 615.7L120.4 615.7L122.9 615.7L125.4 615.7L127.9 615.7L130.4 615.7L132.9 615.7L135.4 615.7L137.9 615.7L140.4 615.7L142.9 615.7L145.4 615.7L147.9 615.7L150.4 615.7L152.9 615.7L155.4 615.7L157.9 615.7L160.4 615.7L162.9 615.7L165.4 615.7L167.9 624.1L170.4 639.7L172.9 653.1L175.4 661.6L177.9 668.7L180.4 674.8L182.9 680.2L185.4 684.9L187.9 688.8L190.4 692L190.4 723.3Z" fill="#212121"/><path d="M37.9 723.3L37.9 685.4L40.4 683.6L42.9 681.2L45.4 678.2L47.9 675.1L50.4 672L52.9 668.9L55.4 665.9L57.9 663.3L60.4 661.1L62.9 659.3L65.4 657.6L67.9 656L70.4 654.4L72.9 652.7L75.4 651.1L77.9 649.5L80.4 647.8L82.9 646.2L85.4 644.6L87.9 643L90.4 641.6L92.9 640.1L95.4 638.4L97.9 635.3L100.4 632.2L102.9 629.1L105.4 626L107.9 622.9L110.4 619.9L112.9 616.8L115.4 615.7L117.9 615.7L120.4 615.7L122.9 615.7L125.4 615.7L127.9 615.7L130.4 615.7L132.9 615.7L135.4 615.7L137.9 615.7L140.4 615.7L142.9 615.7L145.4 615.7L147.9 615.7L150.4 615.7L152.9 615.7L155.4 615.7L157.9 615.7L160.4 615.7L162.9 615.7L165.4 619.9L167.9 633.5L170.4 647.9L172.9 660.4L175.4 668.7L177.9 675.7L180.4 681.6L182.9 686.7L185.4 691.2L187.9 694.9L190.4 697.8L190.4 723.3Z" fill="#222222"/><path d="M37.9 723.3L37.9 689.4L40.4 687.6L42.9 685.2L45.4 682.2L47.9 679.1L50.4 676L52.9 672.9L55.4 669.9L57.9 667.3L60.4 665.1L62.9 663.3L65.4 661.6L67.9 660L70.4 658.4L72.9 656.7L75.4 655.1L77.9 653.5L80.4 651.8L82.9 650.2L85.4 648.6L87.9 647L90.4 645.6L92.9 644.1L95.4 642.5L97.9 639.6L100.4 636.8L102.9 633.9L105.4 631L107.9 628.2L110.4 625.3L112.9 622.5L115.4 619.8L117.9 617.1L120.4 615.7L122.9 615.7L125.4 615.7L127.9 615.7L130.4 615.7L132.9 615.7L135.4 615.7L137.9 615.7L140.4 615.7L142.9 615.7L145.4 615.7L147.9 615.7L150.4 615.7L152.9 615.7L155.4 615.7L157.9 615.7L160.4 615.7L162.9 615.7L165.4 627.3L167.9 640.1L170.4 653.7L172.9 665.6L175.4 673.7L177.9 680.5L180.4 686.3L182.9 691.2L185.4 695.6L187.9 699.2L190.4 701.9L190.4 723.3Z" fill="#242424"/><path d="M37.9 723.3L37.9 693.5L40.4 691.8L42.9 689.3L45.4 686.3L47.9 683.2L50.4 680.1L52.9 677L55.4 674L57.9 671.4L60.4 669.2L62.9 667.4L65.4 665.8L67.9 664.1L70.4 662.5L72.9 660.8L75.4 659.2L77.9 657.6L80.4 655.9L82.9 654.3L85.4 652.7L87.9 651.2L90.4 649.7L92.9 648.2L95.4 646.6L97.9 644L100.4 641.4L102.9 638.8L105.4 636.2L107.9 633.6L110.4 631L112.9 628.4L115.4 625.9L117.9 623.5L120.4 621L122.9 618.4L125.4 615.7L127.9 615.7L130.4 615.7L132.9 615.7L135.4 615.7L137.9 615.7L140.4 615.7L142.9 615.7L145.4 615.7L147.9 615.7L150.4 615.7L152.9 615.7L155.4 615.7L157.9 615.7L160.4 615.7L162.9 624L165.4 634.9L167.9 646.8L170.4 659.5L172.9 670.9L175.4 678.9L177.9 685.5L180.4 691.1L182.9 695.9L185.4 700.1L187.9 703.5L190.4 706.1L190.4 723.3Z" fill="#252525"/><path d="M37.9 723.3L37.9 696.6L40.4 694.9L42.9 692.4L45.4 689.4L47.9 686.3L50.4 683.2L52.9 680.1L55.4 677.1L57.9 674.5L60.4 672.3L62.9 670.5L65.4 668.9L67.9 667.2L70.4 665.6L72.9 664L75.4 662.3L77.9 660.7L80.4 659L82.9 657.4L85.4 655.8L87.9 654.3L90.4 652.8L92.9 651.3L95.4 649.8L97.9 647.3L100.4 644.9L102.9 642.5L105.4 640.1L107.9 637.6L110.4 635.2L112.9 632.8L115.4 630.5L117.9 628.3L120.4 626.1L122.9 623.6L125.4 621.2L127.9 618.8L130.4 616.4L132.9 615.7L135.4 615.7L137.9 615.7L140.4 615.7L142.9 615.7L145.4 615.7L147.9 615.7L150.4 615.7L152.9 615.7L155.4 615.7L157.9 615.7L160.4 621L162.9 630.4L165.4 640.6L167.9 651.9L170.4 664L172.9 674.9L175.4 682.8L177.9 689.3L180.4 694.7L182.9 699.4L185.4 703.5L187.9 706.8L190.4 709.3L190.4 723.3Z" fill="#272727"/><path d="M37.9 723.3L37.9 699.9L40.4 698.1L42.9 695.6L45.4 692.7L47.9 689.6L50.4 686.5L52.9 683.4L55.4 680.4L57.9 677.8L60.4 675.6L62.9 673.8L65.4 672.1L67.9 670.5L70.4 668.9L72.9 667.2L75.4 665.6L77.9 663.9L80.4 662.3L82.9 660.7L85.4 659.1L87.9 657.5L90.4 656.1L92.9 654.6L95.4 653.1L97.9 650.8L100.4 648.6L102.9 646.4L105.4 644.1L107.9 641.9L110.4 639.7L112.9 637.5L115.4 635.4L117.9 633.3L120.4 631.3L122.9 629.2L125.4 627L127.9 624.8L130.4 622.6L132.9 620.5L135.4 618.3L137.9 616.1L140.4 615.7L142.9 615.7L145.4 615.7L147.9 615.7L150.4 615.7L152.9 615.8L155.4 618.5L157.9 622.7L160.4 628.4L162.9 637.2L165.4 646.7L167.9 657.3L170.4 668.7L172.9 679.1L175.4 686.8L177.9 693.2L180.4 698.6L182.9 703.1L185.4 707.1L187.9 710.3L190.4 712.7L190.4 723.3Z" fill="#282828"/><path d="M37.9 723.3L37.9 703.2L40.4 701.5L42.9 699L45.4 696.1L47.9 693L50.4 689.8L52.9 686.7L55.4 683.8L57.9 681.1L60.4 679L62.9 677.1L65.4 675.5L67.9 673.9L70.4 672.2L72.9 670.6L75.4 668.9L77.9 667.3L80.4 665.7L82.9 664L85.4 662.4L87.9 660.9L90.4 659.4L92.9 658L95.4 656.5L97.9 654.4L100.4 652.4L102.9 650.4L105.4 648.3L107.9 646.3L110.4 644.3L112.9 642.3L115.4 640.4L117.9 638.6L120.4 636.7L122.9 634.8L125.4 632.9L127.9 631L130.4 629.1L132.9 627.2L135.4 625.2L137.9 623.3L140.4 621.6L142.9 620.3L145.4 620.5L147.9 621L150.4 622L152.9 623.5L155.4 626.2L157.9 630.4L160.4 636L162.9 644.1L165.4 652.9L167.9 662.8L170.4 673.5L172.9 683.4L175.4 691L177.9 697.3L180.4 702.5L182.9 707L185.4 710.8L187.9 713.9L190.4 716.1L190.4 723.3Z" fill="#2a2a2a"/><path d="M37.9 723.3L37.9 705L40.4 703.3L42.9 700.8L45.4 697.8L47.9 694.7L50.4 691.6L52.9 688.5L55.4 685.5L57.9 682.9L60.4 680.7L62.9 678.9L65.4 677.3L67.9 675.6L70.4 674L72.9 672.4L75.4 670.7L77.9 669.1L80.4 667.4L82.9 665.8L85.4 664.2L87.9 662.7L90.4 661.2L92.9 659.7L95.4 658.2L97.9 656.3L100.4 654.4L102.9 652.5L105.4 650.6L107.9 648.6L110.4 646.7L112.9 644.8L115.4 643L117.9 641.3L120.4 639.6L122.9 637.8L125.4 636L127.9 634.2L130.4 632.5L132.9 630.7L135.4 628.9L137.9 627.1L140.4 625.5L142.9 624.4L145.4 624.5L147.9 625.1L150.4 626L152.9 627.6L155.4 630.3L157.9 634.5L160.4 640L162.9 647.7L165.4 656.1L167.9 665.7L170.4 676L172.9 685.7L175.4 693.2L177.9 699.4L180.4 704.6L182.9 709L185.4 712.7L187.9 715.7L190.4 717.9L190.4 723.3Z" fill="#2b2b2b"/><path d="M37.9 723.3L37.9 706.8L40.4 705.1L42.9 702.6L45.4 699.6L47.9 696.6L50.4 693.4L52.9 690.3L55.4 687.3L57.9 684.7L60.4 682.5L62.9 680.7L65.4 679.1L67.9 677.4L70.4 675.8L72.9 674.2L75.4 672.5L77.9 670.9L80.4 669.3L82.9 667.6L85.4 666L87.9 664.5L90.4 663L92.9 661.6L95.4 660.1L97.9 658.3L100.4 656.5L102.9 654.6L105.4 652.8L107.9 651L110.4 649.2L112.9 647.4L115.4 645.7L117.9 644.1L120.4 642.5L122.9 640.9L125.4 639.2L127.9 637.6L130.4 635.9L132.9 634.3L135.4 632.7L137.9 631L140.4 629.6L142.9 628.6L145.4 628.7L147.9 629.3L150.4 630.2L152.9 631.8L155.4 634.5L157.9 638.7L160.4 644.1L162.9 651.5L165.4 659.5L167.9 668.7L170.4 678.6L172.9 688L175.4 695.5L177.9 701.7L180.4 706.7L182.9 711L185.4 714.7L187.9 717.7L190.4 719.8L190.4 723.3Z" fill="#2d2d2d"/><path d="M37.9 723.3L37.9 708.6L40.4 706.8L42.9 704.4L45.4 701.4L47.9 698.3L50.4 695.2L52.9 692.1L55.4 689.1L57.9 686.5L60.4 684.3L62.9 682.5L65.4 680.8L67.9 679.2L70.4 677.6L72.9 675.9L75.4 674.3L77.9 672.7L80.4 671L82.9 669.4L85.4 667.8L87.9 666.3L90.4 664.8L92.9 663.3L95.4 661.9L97.9 660.1L100.4 658.4L102.9 656.7L105.4 655L107.9 653.3L110.4 651.6L112.9 650L115.4 648.4L117.9 646.8L120.4 645.4L122.9 643.9L125.4 642.4L127.9 640.8L130.4 639.3L132.9 637.8L135.4 636.3L137.9 634.8L140.4 633.5L142.9 632.6L145.4 632.8L147.9 633.4L150.4 634.3L152.9 635.8L155.4 638.5L157.9 642.8L160.4 648.1L162.9 655.1L165.4 662.8L167.9 671.6L170.4 681.2L172.9 690.3L175.4 697.7L177.9 703.8L180.4 708.8L182.9 713L185.4 716.7L187.9 719.5L190.4 721.6L190.4 723.3Z" fill="#2e2e2e"/><path d="M37.9 723.3L37.9 710.1L40.4 708.4L42.9 705.9L45.4 702.9L47.9 699.8L50.4 696.7L52.9 693.6L55.4 690.6L57.9 688L60.4 685.8L62.9 684L65.4 682.4L67.9 680.7L70.4 679.1L72.9 677.5L75.4 675.8L77.9 674.2L80.4 672.5L82.9 670.9L85.4 669.3L87.9 667.8L90.4 666.3L92.9 664.8L95.4 663.4L97.9 661.8L100.4 660.2L102.9 658.5L105.4 656.9L107.9 655.3L110.4 653.7L112.9 652.1L115.4 650.6L117.9 649.2L120.4 647.8L122.9 646.4L125.4 645L127.9 643.6L130.4 642.2L132.9 640.8L135.4 639.4L137.9 638.1L140.4 636.9L142.9 636.1L145.4 636.3L147.9 636.8L150.4 637.8L152.9 639.3L155.4 642L157.9 646.3L160.4 651.6L162.9 658.2L165.4 665.6L167.9 674.1L170.4 683.4L172.9 692.2L175.4 699.6L177.9 705.6L180.4 710.6L182.9 714.8L185.4 718.3L187.9 721.2L190.4 723.1L190.4 723.3Z" fill="#303030"/><path d="M37.9 723.3L37.9 711.7L40.4 709.9L42.9 707.4L45.4 704.5L47.9 701.4L50.4 698.3L52.9 695.1L55.4 692.2L57.9 689.5L60.4 687.4L62.9 685.5L65.4 683.9L67.9 682.3L70.4 680.6L72.9 679L75.4 677.4L77.9 675.7L80.4 674.1L82.9 672.4L85.4 670.9L87.9 669.3L90.4 667.8L92.9 666.4L95.4 664.9L97.9 663.4L100.4 661.9L102.9 660.4L105.4 658.9L107.9 657.3L110.4 655.8L112.9 654.3L115.4 652.9L117.9 651.6L120.4 650.3L122.9 649L125.4 647.7L127.9 646.5L130.4 645.2L132.9 643.9L135.4 642.6L137.9 641.4L140.4 640.3L142.9 639.7L145.4 639.8L147.9 640.4L150.4 641.3L152.9 642.8L155.4 645.5L157.9 649.8L160.4 655.1L162.9 661.4L165.4 668.4L167.9 676.6L170.4 685.6L172.9 694.2L175.4 701.5L177.9 707.5L180.4 712.4L182.9 716.5L185.4 720L187.9 722.8L190.4 723.3L190.4 723.3Z" fill="#313131"/><path d="M37.9 723.3L37.9 713.2L40.4 711.4L42.9 709L45.4 706L47.9 702.9L50.4 699.8L52.9 696.7L55.4 693.7L57.9 691.1L60.4 688.9L62.9 687.1L65.4 685.5L67.9 683.8L70.4 682.2L72.9 680.5L75.4 678.9L77.9 677.3L80.4 675.6L82.9 674L85.4 672.4L87.9 670.9L90.4 669.4L92.9 667.9L95.4 666.5L97.9 665.1L100.4 663.6L102.9 662.2L105.4 660.8L107.9 659.4L110.4 657.9L112.9 656.5L115.4 655.2L117.9 654L120.4 652.8L122.9 651.6L125.4 650.5L127.9 649.3L130.4 648.1L132.9 647L135.4 645.8L137.9 644.7L140.4 643.7L142.9 643.2L145.4 643.3L147.9 643.9L150.4 644.9L152.9 646.4L155.4 649.1L157.9 653.3L160.4 658.6L162.9 664.6L165.4 671.3L167.9 679.2L170.4 687.8L172.9 696.2L175.4 703.5L177.9 709.4L180.4 714.2L182.9 718.3L185.4 721.7L187.9 723.3L187.9 723.3Z" fill="#333333"/><path d="M37.9 723.3L37.9 715.1L40.4 713.5L42.9 711.2L45.4 708.5L47.9 705.7L50.4 702.9L52.9 700L55.4 697.3L57.9 694.9L60.4 692.9L62.9 691.2L65.4 689.7L67.9 688.3L70.4 686.8L72.9 685.3L75.4 683.8L77.9 682.3L80.4 680.8L82.9 679.3L85.4 677.8L87.9 676.4L90.4 675.1L92.9 673.7L95.4 672.4L97.9 671.1L100.4 669.8L102.9 668.5L105.4 667.1L107.9 665.8L110.4 664.5L112.9 663.2L115.4 662L117.9 660.9L120.4 659.8L122.9 658.8L125.4 657.7L127.9 656.7L130.4 655.7L132.9 654.6L135.4 653.6L137.9 652.6L140.4 651.7L142.9 651.3L145.4 651.4L147.9 651.9L150.4 652.8L152.9 654.3L155.4 656.9L157.9 660.8L160.4 665.7L162.9 671.3L165.4 677.7L167.9 685L170.4 692.9L172.9 700.4L175.4 706.9L177.9 712L180.4 716.2L182.9 719.7L185.4 722.6L187.9 723.3L187.9 723.3Z" fill="#383838"/><path d="M37.9 723.3L37.9 716.9L40.4 715.4L42.9 713.3L45.4 710.9L47.9 708.3L50.4 705.7L52.9 703.1L55.4 700.6L57.9 698.4L60.4 696.6L62.9 695.1L65.4 693.8L67.9 692.4L70.4 691.1L72.9 689.7L75.4 688.3L77.9 687L80.4 685.6L82.9 684.3L85.4 682.9L87.9 681.7L90.4 680.4L92.9 679.2L95.4 678L97.9 676.7L100.4 675.5L102.9 674.3L105.4 673.1L107.9 671.9L110.4 670.7L112.9 669.5L115.4 668.4L117.9 667.4L120.4 666.4L122.9 665.5L125.4 664.6L127.9 663.6L130.4 662.7L132.9 661.8L135.4 660.8L137.9 660L140.4 659.3L142.9 658.9L145.4 659L147.9 659.4L150.4 660.2L152.9 661.7L155.4 664.1L157.9 667.9L160.4 672.4L162.9 677.6L165.4 683.7L167.9 690.5L170.4 697.7L172.9 704.4L175.4 710L177.9 714.4L180.4 718L182.9 720.9L185.4 723.3L185.4 723.3Z" fill="#3d3d3d"/><path d="M37.9 723.3L37.9 718.6L40.4 717.2L42.9 715.3L45.4 713L47.9 710.7L50.4 708.4L52.9 706L55.4 703.7L57.9 701.7L60.4 700.1L62.9 698.7L65.4 697.5L67.9 696.3L70.4 695L72.9 693.8L75.4 692.6L77.9 691.3L80.4 690.1L82.9 688.9L85.4 687.7L87.9 686.5L90.4 685.3L92.9 684.2L95.4 683.1L97.9 682L100.4 680.9L102.9 679.7L105.4 678.6L107.9 677.5L110.4 676.4L112.9 675.3L115.4 674.3L117.9 673.4L120.4 672.5L122.9 671.7L125.4 670.9L127.9 670L130.4 669.2L132.9 668.4L135.4 667.6L137.9 666.8L140.4 666.2L142.9 665.9L145.4 666L147.9 666.4L150.4 667.1L152.9 668.5L155.4 670.9L157.9 674.4L160.4 678.6L162.9 683.5L165.4 689.2L167.9 695.6L170.4 702.2L172.9 708.1L175.4 713L177.9 716.7L180.4 719.7L182.9 722.1L185.4 723.3L185.4 723.3Z" fill="#424242"/><path d="M37.9 723.3L37.9 720.1L40.4 718.8L42.9 717.1L45.4 715L47.9 712.9L50.4 710.8L52.9 708.6L55.4 706.6L57.9 704.7L60.4 703.3L62.9 702L65.4 700.9L67.9 699.8L70.4 698.7L72.9 697.6L75.4 696.5L77.9 695.3L80.4 694.2L82.9 693.1L85.4 692L87.9 690.9L90.4 689.9L92.9 688.8L95.4 687.8L97.9 686.8L100.4 685.7L102.9 684.7L105.4 683.7L107.9 682.6L110.4 681.6L112.9 680.6L115.4 679.7L117.9 678.9L120.4 678.1L122.9 677.4L125.4 676.7L127.9 675.9L130.4 675.2L132.9 674.5L135.4 673.8L137.9 673.1L140.4 672.6L142.9 672.4L145.4 672.4L147.9 672.7L150.4 673.4L152.9 674.8L155.4 677.1L157.9 680.3L160.4 684.3L162.9 688.9L165.4 694.3L167.9 700.3L170.4 706.3L172.9 711.5L175.4 715.7L177.9 718.8L180.4 721.2L182.9 723.2L185.4 723.3L185.4 723.3Z" fill="#474747"/><path d="M37.9 723.3L37.9 721.5L40.4 720.3L42.9 718.7L45.4 716.8L47.9 714.9L50.4 713L52.9 711L55.4 709.1L57.9 707.5L60.4 706.1L62.9 705L65.4 704L67.9 703L70.4 702L72.9 701L75.4 700L77.9 699L80.4 698L82.9 696.9L85.4 695.9L87.9 695L90.4 694L92.9 693L95.4 692.1L97.9 691.1L100.4 690.2L102.9 689.2L105.4 688.3L107.9 687.3L110.4 686.3L112.9 685.4L115.4 684.6L117.9 683.9L120.4 683.2L122.9 682.5L125.4 681.9L127.9 681.3L130.4 680.6L132.9 680L135.4 679.3L137.9 678.8L140.4 678.4L142.9 678.2L145.4 678.2L147.9 678.5L150.4 679.1L152.9 680.5L155.4 682.7L157.9 685.7L160.4 689.4L162.9 693.8L165.4 698.9L167.9 704.5L170.4 710L172.9 714.6L175.4 718.1L177.9 720.7L180.4 722.7L182.9 723.3L182.9 723.3Z" fill="#4c4c4c"/><path d="M37.9 723.3L37.9 722.8L40.4 721.6L42.9 720.1L45.4 718.4L47.9 716.7L50.4 714.9L52.9 713.1L55.4 711.4L57.9 709.9L60.4 708.7L62.9 707.7L65.4 706.7L67.9 705.8L70.4 704.9L72.9 704L75.4 703.1L77.9 702.2L80.4 701.3L82.9 700.3L85.4 699.4L87.9 698.5L90.4 697.6L92.9 696.7L95.4 695.9L97.9 695L100.4 694.1L102.9 693.2L105.4 692.3L107.9 691.4L110.4 690.5L112.9 689.7L115.4 688.9L117.9 688.3L120.4 687.7L122.9 687.1L125.4 686.5L127.9 686L130.4 685.4L132.9 684.8L135.4 684.3L137.9 683.8L140.4 683.5L142.9 683.4L145.4 683.4L147.9 683.6L150.4 684.2L152.9 685.5L155.4 687.6L157.9 690.5L160.4 694L162.9 698.1L165.4 703L167.9 708.2L170.4 713.2L172.9 717.3L175.4 720.3L177.9 722.4L180.4 723.3L180.4 723.3Z" fill="#525252"/><path d="M37.9 723.3L37.9 723.3L40.4 722.8L42.9 721.4L45.4 719.8L47.9 718.2L50.4 716.6L52.9 715L55.4 713.4L57.9 712L60.4 710.9L62.9 709.9L65.4 709.1L67.9 708.3L70.4 707.4L72.9 706.6L75.4 705.8L77.9 704.9L80.4 704.1L82.9 703.3L85.4 702.4L87.9 701.6L90.4 700.8L92.9 699.9L95.4 699.1L97.9 698.3L100.4 697.5L102.9 696.6L105.4 695.8L107.9 695L110.4 694.2L112.9 693.4L115.4 692.7L117.9 692.1L120.4 691.5L122.9 691L125.4 690.5L127.9 690L130.4 689.5L132.9 689L135.4 688.6L137.9 688.2L140.4 687.9L142.9 687.8L145.4 687.8L147.9 688L150.4 688.6L152.9 689.8L155.4 691.9L157.9 694.6L160.4 697.9L162.9 701.8L165.4 706.5L167.9 711.4L170.4 716.1L172.9 719.6L175.4 722.1L177.9 723.3L177.9 723.3Z" fill="#575757"/><path d="M40.4 723.3L40.4 723.3L42.9 722.4L45.4 720.9L47.9 719.5L50.4 718L52.9 716.4L55.4 715L57.9 713.7L60.4 712.7L62.9 711.8L65.4 711L67.9 710.3L70.4 709.5L72.9 708.7L75.4 707.9L77.9 707.2L80.4 706.4L82.9 705.6L85.4 704.9L87.9 704.1L90.4 703.3L92.9 702.5L95.4 701.8L97.9 701L100.4 700.2L102.9 699.4L105.4 698.7L107.9 697.9L110.4 697.1L112.9 696.4L115.4 695.7L117.9 695.2L120.4 694.7L122.9 694.3L125.4 693.8L127.9 693.4L130.4 692.9L132.9 692.5L135.4 692L137.9 691.7L140.4 691.5L142.9 691.4L145.4 691.4L147.9 691.6L150.4 692.1L152.9 693.4L155.4 695.4L157.9 698L160.4 701.1L162.9 704.8L165.4 709.3L167.9 714.1L170.4 718.4L172.9 721.5L175.4 723.3L175.4 723.3Z" fill="#5c5c5c"/><path d="M40.4 723.3L40.4 723.3L42.9 723.1L45.4 721.8L47.9 720.4L50.4 719L52.9 717.5L55.4 716.2L57.9 714.9L60.4 714L62.9 713.2L65.4 712.4L67.9 711.7L70.4 711L72.9 710.3L75.4 709.6L77.9 708.8L80.4 708.1L82.9 707.4L85.4 706.7L87.9 705.9L90.4 705.2L92.9 704.5L95.4 703.7L97.9 703L100.4 702.2L102.9 701.5L105.4 700.7L107.9 700L110.4 699.3L112.9 698.6L115.4 698L117.9 697.5L120.4 697L122.9 696.6L125.4 696.2L127.9 695.8L130.4 695.4L132.9 695L135.4 694.6L137.9 694.3L140.4 694.1L142.9 694.1L145.4 694.1L147.9 694.2L150.4 694.7L152.9 695.9L155.4 697.9L157.9 700.5L160.4 703.5L162.9 707L165.4 711.4L167.9 716L170.4 720L172.9 722.9L175.4 723.3L175.4 723.3Z" fill="#616161"/><path d="M42.9 723.3L42.9 723.3L45.4 722.2L47.9 720.8L50.4 719.5L52.9 718.1L55.4 716.7L57.9 715.6L60.4 714.6L62.9 713.8L65.4 713.1L67.9 712.4L70.4 711.7L72.9 711L75.4 710.3L77.9 709.6L80.4 708.9L82.9 708.2L85.4 707.5L87.9 706.8L90.4 706.1L92.9 705.4L95.4 704.7L97.9 703.9L100.4 703.2L102.9 702.5L105.4 701.8L107.9 701.1L110.4 700.3L112.9 699.7L115.4 699.1L117.9 698.6L120.4 698.2L122.9 697.8L125.4 697.4L127.9 697L130.4 696.6L132.9 696.2L135.4 695.8L137.9 695.6L140.4 695.4L142.9 695.4L145.4 695.4L147.9 695.5L150.4 696L152.9 697.2L155.4 699.2L157.9 701.7L160.4 704.6L162.9 708.1L165.4 712.5L167.9 716.9L170.4 720.9L172.9 723.3L172.9 723.3Z" fill="#666666"/><path d="M42.9 723.3L42.9 723.3L45.4 722.6L47.9 721.3L50.4 720L52.9 718.7L55.4 717.4L57.9 716.3L60.4 715.3L62.9 714.5L65.4 713.9L67.9 713.2L70.4 712.5L72.9 711.8L75.4 711.1L77.9 710.4L80.4 709.8L82.9 709.1L85.4 708.4L87.9 707.7L90.4 707L92.9 706.4L95.4 705.7L97.9 705L100.4 704.4L102.9 703.7L105.4 703L107.9 702.3L110.4 701.7L112.9 701.1L115.4 700.5L117.9 700L120.4 699.6L122.9 699.3L125.4 698.9L127.9 698.5L130.4 698.1L132.9 697.7L135.4 697.4L137.9 697.1L140.4 697L142.9 696.9L145.4 696.9L147.9 697L150.4 697.5L152.9 698.6L155.4 700.4L157.9 702.7L160.4 705.5L162.9 708.9L165.4 713L167.9 717.3L170.4 721.1L172.9 723.3L172.9 723.3Z" fill="#6b6b6b"/><path d="M42.9 723.3L42.9 723.3L45.4 723L47.9 721.8L50.4 720.5L52.9 719.3L55.4 718.1L57.9 717L60.4 716L62.9 715.3L65.4 714.6L67.9 713.9L70.4 713.2L72.9 712.6L75.4 711.9L77.9 711.2L80.4 710.6L82.9 709.9L85.4 709.2L87.9 708.6L90.4 708L92.9 707.3L95.4 706.7L97.9 706.1L100.4 705.5L102.9 704.9L105.4 704.3L107.9 703.6L110.4 703L112.9 702.4L115.4 701.9L117.9 701.5L120.4 701.1L122.9 700.7L125.4 700.4L127.9 700L130.4 699.7L132.9 699.3L135.4 699L137.9 698.7L140.4 698.6L142.9 698.5L145.4 698.4L147.9 698.5L150.4 698.9L152.9 699.9L155.4 701.6L157.9 703.8L160.4 706.4L162.9 709.6L165.4 713.6L167.9 717.7L170.4 721.3L172.9 723.3L172.9 723.3Z" fill="#707070"/><path d="M45.4 723.3L45.4 723.3L47.9 722.2L50.4 721.1L52.9 719.9L55.4 718.7L57.9 717.7L60.4 716.8L62.9 716L65.4 715.3L67.9 714.6L70.4 714L72.9 713.3L75.4 712.7L77.9 712L80.4 711.4L82.9 710.7L85.4 710.1L87.9 709.5L90.4 708.9L92.9 708.3L95.4 707.8L97.9 707.2L100.4 706.6L102.9 706.1L105.4 705.5L107.9 704.9L110.4 704.4L112.9 703.8L115.4 703.4L117.9 702.9L120.4 702.6L122.9 702.2L125.4 701.9L127.9 701.5L130.4 701.2L132.9 700.8L135.4 700.5L137.9 700.3L140.4 700.1L142.9 700L145.4 700L147.9 700L150.4 700.3L152.9 701.2L155.4 702.8L157.9 704.8L160.4 707.3L162.9 710.4L165.4 714.1L167.9 718L170.4 721.5L172.9 723.3L172.9 723.3Z" fill="#757575"/><path d="M45.4 723.3L45.4 723.3L47.9 722.7L50.4 721.6L52.9 720.5L55.4 719.4L57.9 718.4L60.4 717.5L62.9 716.7L65.4 716L67.9 715.4L70.4 714.7L72.9 714.1L75.4 713.5L77.9 712.8L80.4 712.2L82.9 711.6L85.4 711L87.9 710.4L90.4 709.8L92.9 709.3L95.4 708.8L97.9 708.3L100.4 707.8L102.9 707.2L105.4 706.7L107.9 706.2L110.4 705.7L112.9 705.2L115.4 704.8L117.9 704.4L120.4 704L122.9 703.7L125.4 703.4L127.9 703.1L130.4 702.7L132.9 702.4L135.4 702.1L137.9 701.8L140.4 701.7L142.9 701.6L145.4 701.5L147.9 701.5L150.4 701.8L152.9 702.6L155.4 704L157.9 705.9L160.4 708.2L162.9 711.1L165.4 714.7L167.9 718.4L170.4 721.7L172.9 723.3L172.9 723.3Z" fill="#7a7a7a"/><path d="M45.4 723.3L45.4 723.3L47.9 723.2L50.4 722.1L52.9 721.1L55.4 720L57.9 719.1L60.4 718.2L62.9 717.4L65.4 716.7L67.9 716.1L70.4 715.5L72.9 714.9L75.4 714.2L77.9 713.6L80.4 713L82.9 712.4L85.4 711.8L87.9 711.3L90.4 710.8L92.9 710.3L95.4 709.8L97.9 709.4L100.4 708.9L102.9 708.4L105.4 708L107.9 707.5L110.4 707.1L112.9 706.6L115.4 706.2L117.9 705.8L120.4 705.5L122.9 705.2L125.4 704.9L127.9 704.6L130.4 704.3L132.9 703.9L135.4 703.6L137.9 703.4L140.4 703.2L142.9 703.1L145.4 703L147.9 703L150.4 703.2L152.9 703.9L155.4 705.1L157.9 706.9L160.4 709.1L162.9 711.9L165.4 715.2L167.9 718.7L170.4 721.9L172.9 723.3L172.9 723.3Z" fill="#808080"/><path d="M47.9 723.3L47.9 723.3L50.4 722.6L52.9 721.7L55.4 720.7L57.9 719.8L60.4 718.9L62.9 718.1L65.4 717.5L67.9 716.8L70.4 716.2L72.9 715.6L75.4 715L77.9 714.4L80.4 713.8L82.9 713.2L85.4 712.7L87.9 712.1L90.4 711.7L92.9 711.3L95.4 710.9L97.9 710.4L100.4 710L102.9 709.6L105.4 709.2L107.9 708.8L110.4 708.4L112.9 708L115.4 707.6L117.9 707.3L120.4 707L122.9 706.7L125.4 706.4L127.9 706.1L130.4 705.8L132.9 705.5L135.4 705.2L137.9 704.9L140.4 704.8L142.9 704.6L145.4 704.5L147.9 704.5L150.4 704.7L152.9 705.2L155.4 706.3L157.9 707.9L160.4 710L162.9 712.6L165.4 715.8L167.9 719.1L170.4 722.1L172.9 723.3L172.9 723.3Z" fill="#858585"/><path d="M47.9 723.3L47.9 723.3L50.4 723.2L52.9 722.3L55.4 721.4L57.9 720.4L60.4 719.6L62.9 718.8L65.4 718.2L67.9 717.6L70.4 717L72.9 716.4L75.4 715.8L77.9 715.2L80.4 714.6L82.9 714.1L85.4 713.5L87.9 713L90.4 712.6L92.9 712.2L95.4 711.9L97.9 711.5L100.4 711.2L102.9 710.8L105.4 710.5L107.9 710.1L110.4 709.7L112.9 709.4L115.4 709.1L117.9 708.8L120.4 708.5L122.9 708.2L125.4 707.9L127.9 707.6L130.4 707.3L132.9 707L135.4 706.8L137.9 706.5L140.4 706.3L142.9 706.2L145.4 706.1L147.9 706L150.4 706.1L152.9 706.6L155.4 707.5L157.9 709L160.4 710.9L162.9 713.4L165.4 716.3L167.9 719.5L170.4 722.4L172.9 723.3L172.9 723.3Z" fill="#8a8a8a"/><path d="M50.4 723.3L50.4 723.3L52.9 722.9L55.4 722L57.9 721.1L60.4 720.3L62.9 719.6L65.4 718.9L67.9 718.3L70.4 717.7L72.9 717.2L75.4 716.6L77.9 716L80.4 715.4L82.9 714.9L85.4 714.4L87.9 713.9L90.4 713.5L92.9 713.2L95.4 712.9L97.9 712.6L100.4 712.3L102.9 712L105.4 711.7L107.9 711.4L110.4 711.1L112.9 710.8L115.4 710.5L117.9 710.2L120.4 709.9L122.9 709.7L125.4 709.4L127.9 709.1L130.4 708.8L132.9 708.6L135.4 708.3L137.9 708.1L140.4 707.9L142.9 707.7L145.4 707.6L147.9 707.5L150.4 707.6L152.9 707.9L155.4 708.7L157.9 710L160.4 711.8L162.9 714.1L165.4 716.9L167.9 719.8L170.4 722.6L172.9 723.3L172.9 723.3Z" fill="#8f8f8f"/><path d="M52.9 723.3L52.9 723.3L55.4 722.7L57.9 721.8L60.4 721L62.9 720.3L65.4 719.6L67.9 719L70.4 718.5L72.9 717.9L75.4 717.4L77.9 716.8L80.4 716.3L82.9 715.7L85.4 715.2L87.9 714.8L90.4 714.5L92.9 714.2L95.4 713.9L97.9 713.7L100.4 713.4L102.9 713.2L105.4 712.9L107.9 712.7L110.4 712.4L112.9 712.2L115.4 711.9L117.9 711.7L120.4 711.4L122.9 711.2L125.4 710.9L127.9 710.6L130.4 710.4L132.9 710.1L135.4 709.9L137.9 709.6L140.4 709.4L142.9 709.2L145.4 709.1L147.9 709L150.4 709L152.9 709.2L155.4 709.9L157.9 711.1L160.4 712.7L162.9 714.9L165.4 717.4L167.9 720.2L170.4 722.8L172.9 723.3L172.9 723.3Z" fill="#949494"/><path d="M55.4 723.3L55.4 723.3L57.9 722.5L60.4 721.7L62.9 721L65.4 720.3L67.9 719.8L70.4 719.2L72.9 718.7L75.4 718.2L77.9 717.6L80.4 717.1L82.9 716.5L85.4 716.1L87.9 715.7L90.4 715.4L92.9 715.2L95.4 715L97.9 714.8L100.4 714.6L102.9 714.4L105.4 714.2L107.9 714L110.4 713.8L112.9 713.6L115.4 713.3L117.9 713.1L120.4 712.9L122.9 712.6L125.4 712.4L127.9 712.2L130.4 711.9L132.9 711.7L135.4 711.4L137.9 711.2L140.4 711L142.9 710.8L145.4 710.6L147.9 710.5L150.4 710.4L152.9 710.6L155.4 711.1L157.9 712.1L160.4 713.6L162.9 715.6L165.4 718L167.9 720.5L170.4 723L172.9 723.3L172.9 723.3Z" fill="#999999"/><path d="M55.4 723.3L55.4 723.3L57.9 723.1L60.4 722.3L62.9 721.6L65.4 721L67.9 720.4L70.4 719.8L72.9 719.3L75.4 718.7L77.9 718.2L80.4 717.7L82.9 717.1L85.4 716.7L87.9 716.3L90.4 716L92.9 715.7L95.4 715.5L97.9 715.3L100.4 715.2L102.9 715L105.4 714.8L107.9 714.6L110.4 714.4L112.9 714.2L115.4 714L117.9 713.7L120.4 713.5L122.9 713.3L125.4 713.1L127.9 712.9L130.4 712.7L132.9 712.4L135.4 712.2L137.9 712L140.4 711.8L142.9 711.6L145.4 711.5L147.9 711.4L150.4 711.4L152.9 711.5L155.4 712L157.9 713L160.4 714.4L162.9 716.3L165.4 718.5L167.9 720.9L170.4 723.2L172.9 723.3L172.9 723.3Z" fill="#9e9e9e"/><path d="M57.9 723.3L57.9 723.3L60.4 722.9L62.9 722.2L65.4 721.6L67.9 721L70.4 720.4L72.9 719.9L75.4 719.3L77.9 718.8L80.4 718.2L82.9 717.7L85.4 717.3L87.9 716.9L90.4 716.6L92.9 716.3L95.4 716.1L97.9 715.9L100.4 715.7L102.9 715.5L105.4 715.4L107.9 715.2L110.4 715L112.9 714.8L115.4 714.6L117.9 714.4L120.4 714.2L122.9 714L125.4 713.8L127.9 713.6L130.4 713.4L132.9 713.2L135.4 713L137.9 712.8L140.4 712.6L142.9 712.5L145.4 712.4L147.9 712.3L150.4 712.3L152.9 712.5L155.4 712.9L157.9 713.9L160.4 715.2L162.9 717L165.4 719.1L167.9 721.3L170.4 723.3L170.4 723.3Z" fill="#a3a3a3"/><path d="M60.4 723.3L60.4 723.3L62.9 722.8L65.4 722.2L67.9 721.6L70.4 721L72.9 720.5L75.4 719.9L77.9 719.4L80.4 718.8L82.9 718.3L85.4 717.8L87.9 717.4L90.4 717.1L92.9 716.9L95.4 716.7L97.9 716.5L100.4 716.3L102.9 716.1L105.4 715.9L107.9 715.8L110.4 715.6L112.9 715.4L115.4 715.2L117.9 715L120.4 714.8L122.9 714.6L125.4 714.5L127.9 714.3L130.4 714.1L132.9 714L135.4 713.8L137.9 713.6L140.4 713.5L142.9 713.3L145.4 713.2L147.9 713.2L150.4 713.2L152.9 713.4L155.4 713.9L157.9 714.8L160.4 716L162.9 717.6L165.4 719.6L167.9 721.7L170.4 723.3L170.4 723.3Z" fill="#a8a8a8"/><path d="M62.9 723.3L62.9 723.3L65.4 722.8L67.9 722.2L70.4 721.6L72.9 721L75.4 720.5L77.9 719.9L80.4 719.4L82.9 718.9L85.4 718.4L87.9 718L90.4 717.7L92.9 717.4L95.4 717.2L97.9 717.1L100.4 716.9L102.9 716.7L105.4 716.5L107.9 716.4L110.4 716.2L112.9 716L115.4 715.8L117.9 715.6L120.4 715.5L122.9 715.3L125.4 715.2L127.9 715L130.4 714.9L132.9 714.7L135.4 714.6L137.9 714.4L140.4 714.3L142.9 714.2L145.4 714.1L147.9 714.1L150.4 714.1L152.9 714.3L155.4 714.8L157.9 715.6L160.4 716.8L162.9 718.3L165.4 720.1L167.9 722L170.4 723.3L170.4 723.3Z" fill="#adadad"/><path d="M65.4 723.3L65.4 723.3L67.9 722.8L70.4 722.2L72.9 721.6L75.4 721.1L77.9 720.5L80.4 720L82.9 719.5L85.4 719L87.9 718.6L90.4 718.3L92.9 718L95.4 717.8L97.9 717.6L100.4 717.5L102.9 717.3L105.4 717.1L107.9 717L110.4 716.8L112.9 716.6L115.4 716.4L117.9 716.3L120.4 716.1L122.9 716L125.4 715.8L127.9 715.7L130.4 715.6L132.9 715.5L135.4 715.4L137.9 715.2L140.4 715.1L142.9 715L145.4 715L147.9 714.9L150.4 715L152.9 715.3L155.4 715.7L157.9 716.5L160.4 717.6L162.9 719L165.4 720.6L167.9 722.4L170.4 723.3L170.4 723.3Z" fill="#b2b2b2"/><path d="M67.9 723.3L67.9 723.3L70.4 722.8L72.9 722.2L75.4 721.6L77.9 721.1L80.4 720.6L82.9 720.1L85.4 719.6L87.9 719.2L90.4 718.9L92.9 718.6L95.4 718.4L97.9 718.2L100.4 718L102.9 717.9L105.4 717.7L107.9 717.6L110.4 717.4L112.9 717.2L115.4 717.1L117.9 716.9L120.4 716.8L122.9 716.6L125.4 716.5L127.9 716.4L130.4 716.3L132.9 716.2L135.4 716.2L137.9 716.1L140.4 716L142.9 715.9L145.4 715.8L147.9 715.8L150.4 715.9L152.9 716.2L155.4 716.7L157.9 717.4L160.4 718.4L162.9 719.7L165.4 721.2L167.9 722.8L170.4 723.3L170.4 723.3Z" fill="#b8b8b8"/><path d="M70.4 723.3L70.4 723.3L72.9 722.8L75.4 722.2L77.9 721.7L80.4 721.1L82.9 720.7L85.4 720.2L87.9 719.8L90.4 719.4L92.9 719.1L95.4 718.9L97.9 718.8L100.4 718.6L102.9 718.5L105.4 718.3L107.9 718.2L110.4 718L112.9 717.8L115.4 717.7L117.9 717.5L120.4 717.4L122.9 717.3L125.4 717.2L127.9 717.2L130.4 717.1L132.9 717L135.4 716.9L137.9 716.9L140.4 716.8L142.9 716.7L145.4 716.7L147.9 716.7L150.4 716.8L152.9 717.1L155.4 717.6L157.9 718.3L160.4 719.2L162.9 720.3L165.4 721.7L167.9 723.2L170.4 723.3L170.4 723.3Z" fill="#bdbdbd"/><path d="M72.9 723.3L72.9 723.3L75.4 722.8L77.9 722.2L80.4 721.7L82.9 721.3L85.4 720.8L87.9 720.4L90.4 720L92.9 719.7L95.4 719.5L97.9 719.3L100.4 719.2L102.9 719L105.4 718.9L107.9 718.8L110.4 718.6L112.9 718.5L115.4 718.3L117.9 718.2L120.4 718.1L122.9 718L125.4 717.9L127.9 717.9L130.4 717.8L132.9 717.8L135.4 717.7L137.9 717.7L140.4 717.6L142.9 717.6L145.4 717.6L147.9 717.6L150.4 717.8L152.9 718.1L155.4 718.5L157.9 719.2L160.4 720L162.9 721L165.4 722.2L167.9 723.3L167.9 723.3Z" fill="#c2c2c2"/><path d="M75.4 723.3L75.4 723.3L77.9 722.8L80.4 722.3L82.9 721.8L85.4 721.4L87.9 721L90.4 720.6L92.9 720.3L95.4 720.1L97.9 719.9L100.4 719.8L102.9 719.6L105.4 719.5L107.9 719.4L110.4 719.2L112.9 719.1L115.4 718.9L117.9 718.8L120.4 718.7L122.9 718.6L125.4 718.6L127.9 718.6L130.4 718.6L132.9 718.5L135.4 718.5L137.9 718.5L140.4 718.5L142.9 718.4L145.4 718.4L147.9 718.5L150.4 718.7L152.9 719L155.4 719.5L157.9 720.1L160.4 720.8L162.9 721.7L165.4 722.7L167.9 723.3L167.9 723.3Z" fill="#c7c7c7"/><path d="M77.9 723.3L77.9 723.3L80.4 722.9L82.9 722.4L85.4 722L87.9 721.5L90.4 721.2L92.9 720.9L95.4 720.6L97.9 720.5L100.4 720.3L102.9 720.2L105.4 720.1L107.9 719.9L110.4 719.8L112.9 719.7L115.4 719.5L117.9 719.4L120.4 719.4L122.9 719.3L125.4 719.3L127.9 719.3L130.4 719.3L132.9 719.3L135.4 719.3L137.9 719.3L140.4 719.3L142.9 719.3L145.4 719.3L147.9 719.4L150.4 719.6L152.9 719.9L155.4 720.4L157.9 720.9L160.4 721.6L162.9 722.3L165.4 723.3L167.9 723.3L167.9 723.3Z" fill="#cccccc"/><path d="M80.4 723.3L80.4 723.3L82.9 723L85.4 722.6L87.9 722.1L90.4 721.8L92.9 721.5L95.4 721.2L97.9 721.1L100.4 720.9L102.9 720.8L105.4 720.7L107.9 720.5L110.4 720.4L112.9 720.3L115.4 720.1L117.9 720L120.4 720L122.9 719.9L125.4 719.9L127.9 719.9L130.4 719.9L132.9 719.9L135.4 719.9L137.9 719.9L140.4 719.9L142.9 719.9L145.4 719.9L147.9 720L150.4 720.2L152.9 720.5L155.4 721L157.9 721.5L160.4 722.2L162.9 722.9L165.4 723.3L165.4 723.3Z" fill="#d1d1d1"/><path d="M82.9 723.3L82.9 723.3L85.4 723.2L87.9 722.7L90.4 722.4L92.9 722.1L95.4 721.8L97.9 721.7L100.4 721.5L102.9 721.4L105.4 721.3L107.9 721.1L110.4 721L112.9 720.9L115.4 720.7L117.9 720.6L120.4 720.6L122.9 720.5L125.4 720.5L127.9 720.5L130.4 720.5L132.9 720.5L135.4 720.5L137.9 720.5L140.4 720.5L142.9 720.5L145.4 720.5L147.9 720.6L150.4 720.8L152.9 721.1L155.4 721.6L157.9 722.1L160.4 722.8L162.9 723.3L162.9 723.3Z" fill="#d6d6d6"/><path d="M87.9 723.3L87.9 723.3L90.4 723L92.9 722.7L95.4 722.4L97.9 722.3L100.4 722.1L102.9 722L105.4 721.9L107.9 721.7L110.4 721.6L112.9 721.5L115.4 721.3L117.9 721.2L120.4 721.2L122.9 721.1L125.4 721.1L127.9 721.1L130.4 721.1L132.9 721.1L135.4 721.1L137.9 721.1L140.4 721.1L142.9 721.1L145.4 721.1L147.9 721.2L150.4 721.4L152.9 721.7L155.4 722.2L157.9 722.7L160.4 723.3L160.4 723.3Z" fill="#dbdbdb"/><path d="M90.4 723.3L90.4 723.3L92.9 723.3L95.4 723L97.9 722.9L100.4 722.8L102.9 722.6L105.4 722.5L107.9 722.3L110.4 722.2L112.9 722.1L115.4 721.9L117.9 721.8L120.4 721.8L122.9 721.7L125.4 721.7L127.9 721.7L130.4 721.7L132.9 721.7L135.4 721.7L137.9 721.7L140.4 721.7L142.9 721.7L145.4 721.7L147.9 721.8L150.4 722L152.9 722.3L155.4 722.8L157.9 723.3L157.9 723.3Z" fill="#e0e0e0"/><path d="M100.4 723.3L100.4 723.3L102.9 723.2L105.4 723.1L107.9 722.9L110.4 722.8L112.9 722.7L115.4 722.5L117.9 722.4L120.4 722.4L122.9 722.3L125.4 722.3L127.9 722.3L130.4 722.3L132.9 722.3L135.4 722.3L137.9 722.3L140.4 722.3L142.9 722.3L145.4 722.3L147.9 722.4L150.4 722.6L152.9 722.9L155.4 723.3L155.4 723.3Z" fill="#e6e6e6"/><path d="M110.4 723.3L110.4 723.3L112.9 723.3L115.4 723.1L117.9 723L120.4 723L122.9 722.9L125.4 722.9L127.9 722.9L130.4 722.9L132.9 722.9L135.4 722.9L137.9 722.9L140.4 722.9L142.9 722.9L145.4 722.9L147.9 723L150.4 723.2L152.9 723.3L152.9 723.3Z" fill="#ebebeb"/><rect x="37.9" y="723.3" width="154.7" height="5.2" fill="#000"/></g></g>
<path d="M41.9 405.8H188.6V724.5H41.9ZM41.9 511.7H188.6M41.9 619.7H188.6" fill="none" stroke="#6e6e6e" stroke-width="0.7"/>
<path d="M41.9 427h2.4M41.9 448.2h2.4M41.9 469.3h2.4M41.9 490.5h2.4M41.9 533.3h2.4M41.9 554.9h2.4M41.9 576.5h2.4M41.9 598.1h2.4M41.9 640.7h2.4M41.9 661.6h2.4M41.9 682.6h2.4M41.9 703.5h2.4M49.3 724.5v-2.4M49.3 619.7v-2.4M49.3 511.7v-2.4M74.1 724.5v-2.4M74.1 619.7v-2.4M74.1 511.7v-2.4M98.8 724.5v-2.4M98.8 619.7v-2.4M98.8 511.7v-2.4M123.6 724.5v-2.4M123.6 619.7v-2.4M123.6 511.7v-2.4M148.3 724.5v-2.4M148.3 619.7v-2.4M148.3 511.7v-2.4M173.1 724.5v-2.4M173.1 619.7v-2.4M173.1 511.7v-2.4" fill="none" stroke="#3a3a20" stroke-width="0.6" opacity="0.7"/>
<text x="38.3" y="409.1" text-anchor="end">1.0</text>
<text x="38.3" y="430.3" text-anchor="end">0.8</text>
<text x="38.3" y="451.5" text-anchor="end">0.6</text>
<text x="38.3" y="472.6" text-anchor="end">0.4</text>
<text x="38.3" y="493.8" text-anchor="end">0.2</text>
<text x="38.3" y="515" text-anchor="end">0</text>
<text x="38.3" y="536.6" text-anchor="end">0.8</text>
<text x="38.3" y="558.2" text-anchor="end">0.6</text>
<text x="38.3" y="579.8" text-anchor="end">0.4</text>
<text x="38.3" y="601.4" text-anchor="end">0.2</text>
<text x="38.3" y="623" text-anchor="end">0</text>
<text x="38.3" y="644" text-anchor="end">0.8</text>
<text x="38.3" y="664.9" text-anchor="end">0.6</text>
<text x="38.3" y="685.9" text-anchor="end">0.4</text>
<text x="38.3" y="706.8" text-anchor="end">0.2</text>
<text x="38.3" y="727.8" text-anchor="end">0</text>
<text x="49.3" y="735.7" text-anchor="middle">720</text>
<text x="74.1" y="735.7" text-anchor="middle">750</text>
<text x="98.8" y="735.7" text-anchor="middle">780</text>
<text x="123.6" y="735.7" text-anchor="middle">810</text>
<text x="148.3" y="735.7" text-anchor="middle">840</text>
<text x="173.1" y="735.7" text-anchor="middle">870</text>
<text x="115.3" y="748.3" text-anchor="middle">Wavelength (nm)</text>
<text x="13.8" y="458.5" text-anchor="middle" transform="rotate(-90 13.8 458.5)">Time (ns)</text>
<text x="13.8" y="566" text-anchor="middle" transform="rotate(-90 13.8 566)">Time (ns)</text>
<text x="13.8" y="672" text-anchor="middle" transform="rotate(-90 13.8 672)">Time (ns)</text>
<text x="-0.8" y="398.8" font-weight="bold" font-size="10.8">d</text>
<text x="47" y="419">ITIC</text>
<text x="47" y="525.5">4TIC</text>
<text x="47" y="633.3">ITIC–4TIC (5%)</text>
<path d="M98 405.8V511.7M158.9 511.7V619.7" stroke="#fff" stroke-width="1.8" stroke-dasharray="5.6 2" fill="none"/>
<path d="M103.3 725C105.1 724.6 110.6 723.5 114 722.6C117.4 721.7 120.8 720.8 123.5 719.6C126.2 718.4 128.2 717.4 130.5 715.5C132.8 713.6 135.5 711.9 137.6 708.4C139.7 704.9 141.6 700.8 143.3 694.2C145 687.6 146.4 677.7 147.6 668.7C148.8 659.7 149.8 648.4 150.4 640.3C151 632.2 151.2 623.4 151.3 620" stroke="#fff" stroke-width="1.8" stroke-dasharray="5.6 2" fill="none"/>
</svg>
</body></html>
